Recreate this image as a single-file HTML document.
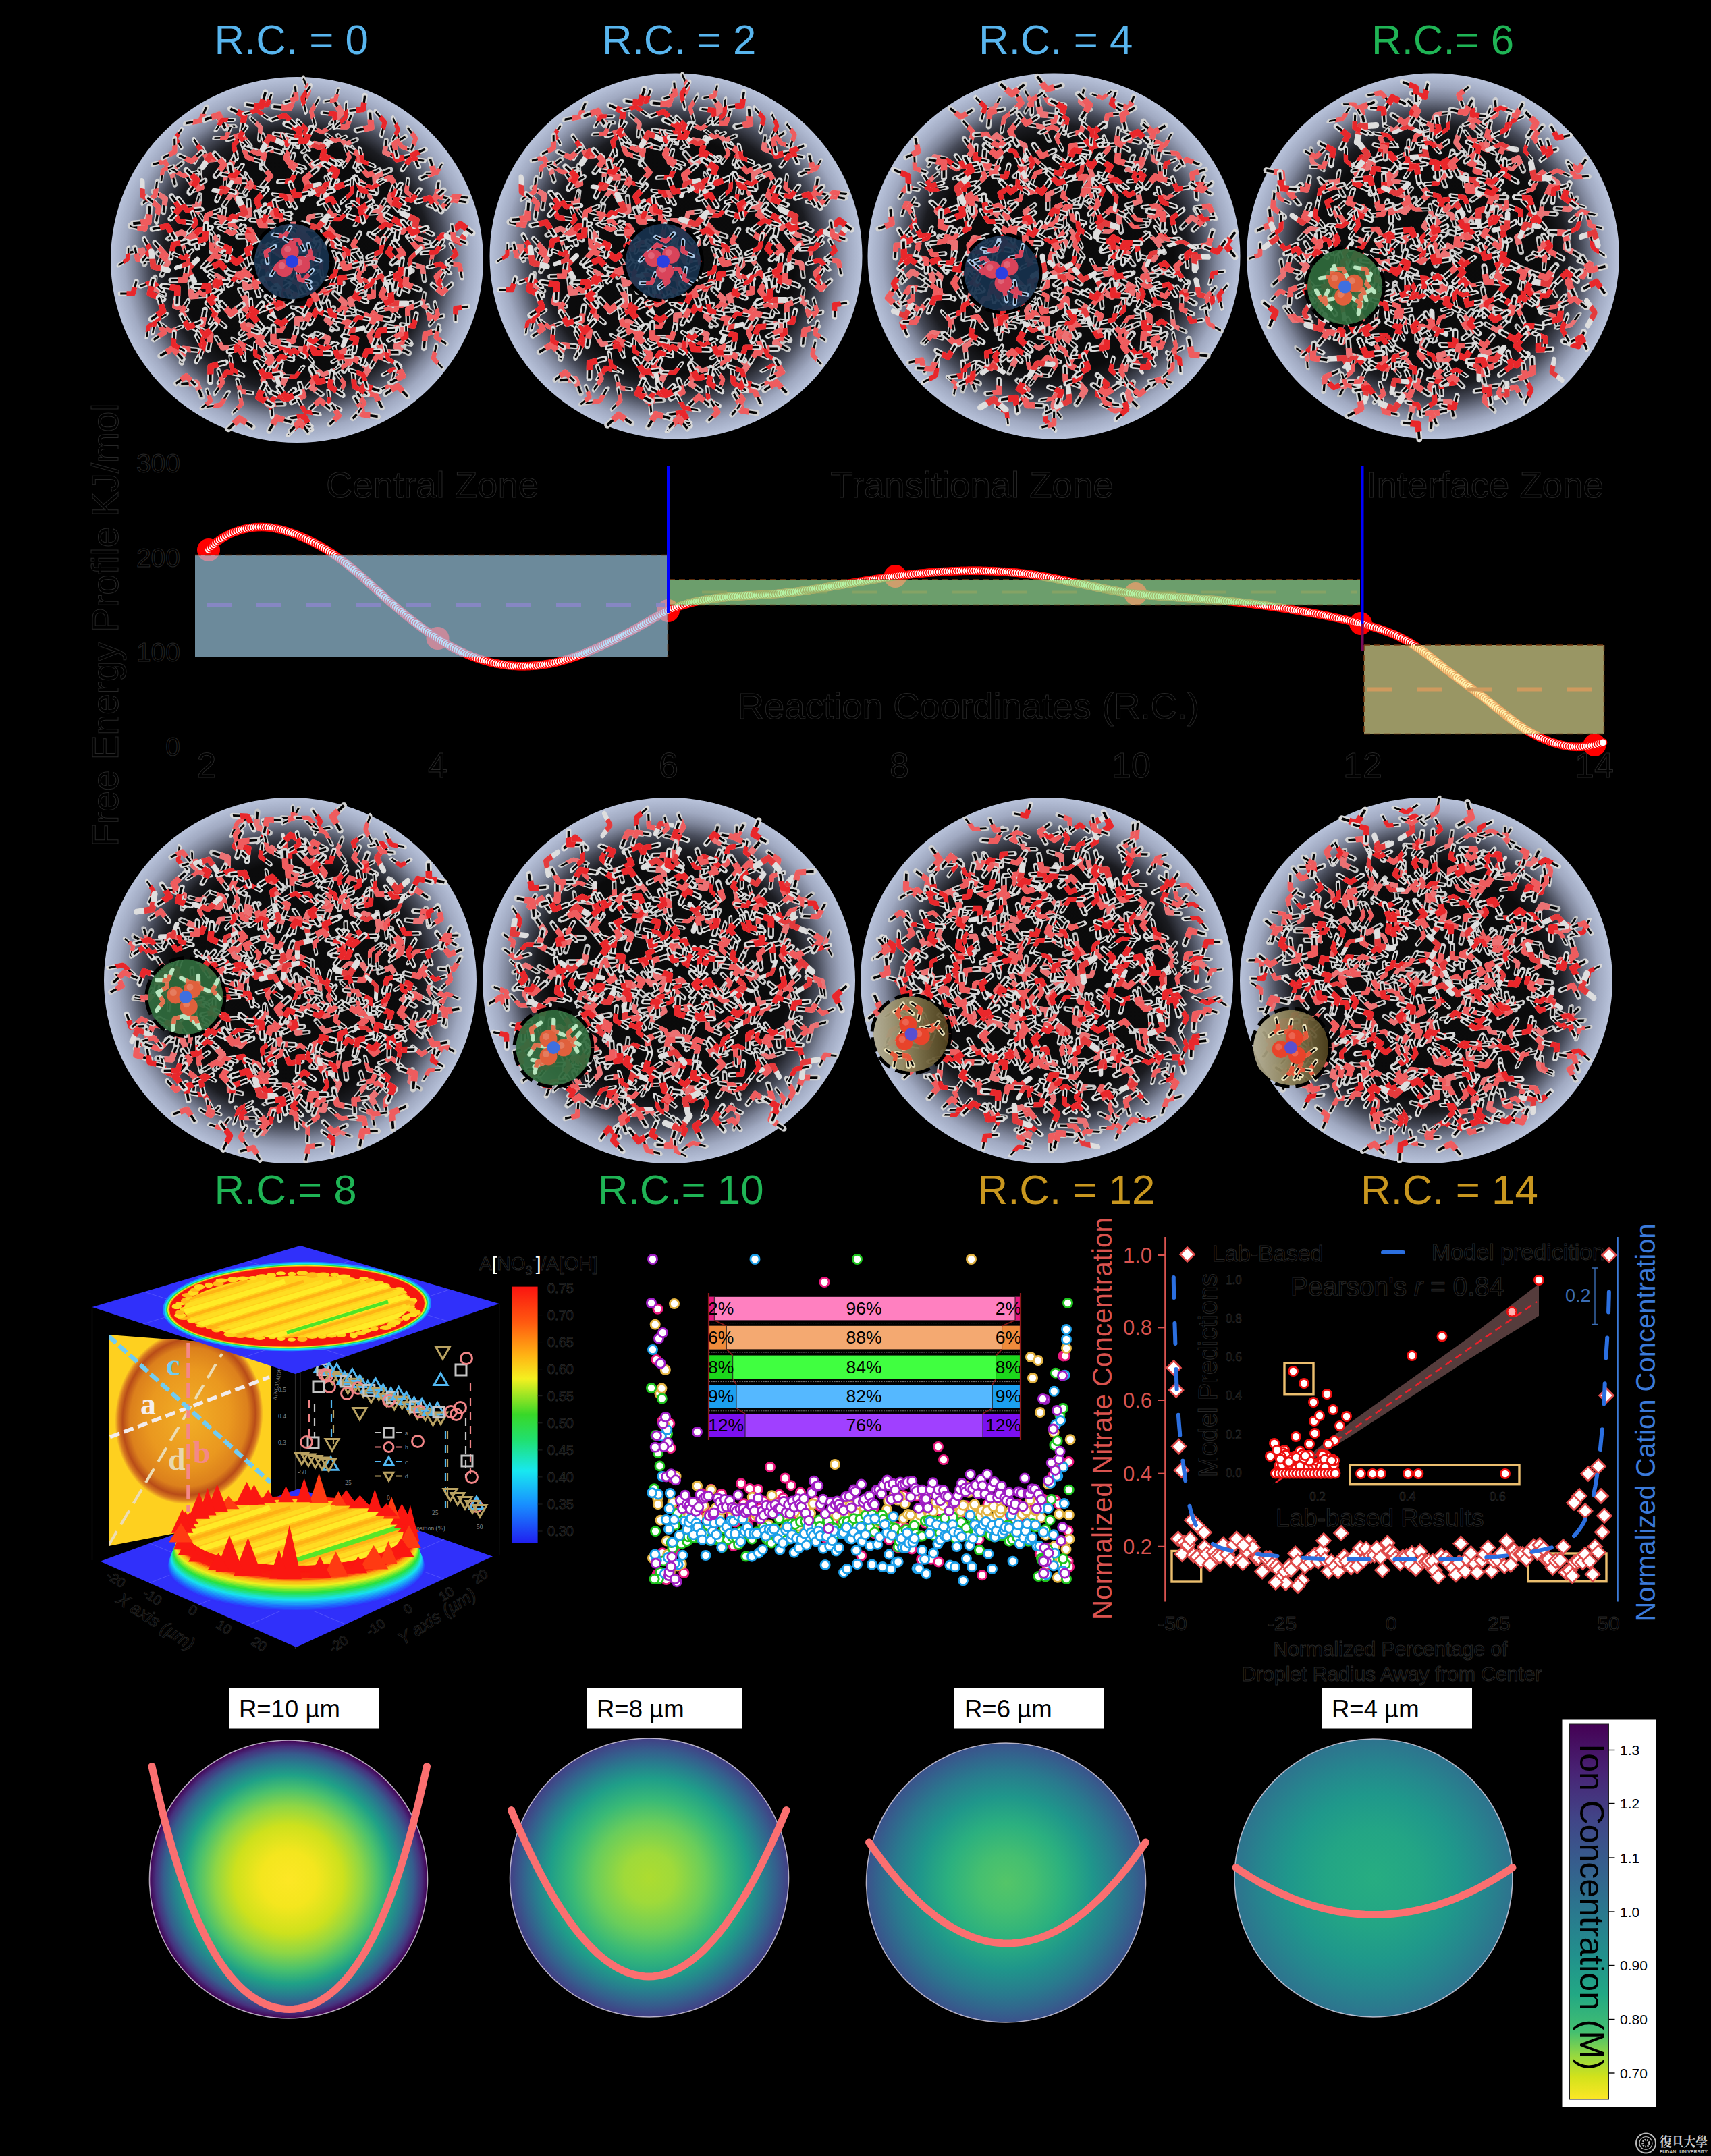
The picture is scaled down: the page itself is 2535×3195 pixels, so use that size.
<!DOCTYPE html>
<html lang="en"><head><meta charset="utf-8"><title>Droplet free energy profile figure</title>
<style>
html,body{margin:0;padding:0;background:#000;}
body{width:2535px;height:3195px;overflow:hidden;}
svg{display:block;font-family:'Liberation Sans', Arial, sans-serif;}
</style></head><body>
<svg width="2535" height="3195" viewBox="0 0 2535 3195">
<defs>
<radialGradient id="dropbg" cx="50%" cy="50%" r="50%">
<stop offset="0" stop-color="#0a0a0a"/><stop offset="0.64" stop-color="#0b0b0c"/>
<stop offset="0.72" stop-color="#1b1c21"/><stop offset="0.80" stop-color="#474b59"/>
<stop offset="0.87" stop-color="#7f869b"/><stop offset="0.925" stop-color="#a0a9c1"/>
<stop offset="0.965" stop-color="#adb7cf"/><stop offset="1" stop-color="#b9c3db"/>
</radialGradient>
<g id="wa" fill="none" stroke-linejoin="round"><path d="M-17.0,13.2L0,0L17.0,13.2" stroke="#dadada" stroke-width="8.4" stroke-linecap="round"/><path d="M-17.0,13.2L0,0L17.0,13.2" stroke="#050505" stroke-width="3.6" stroke-linecap="butt"/><path d="M-8.6,6.7L0,0L8.6,6.7" stroke="#e9272b" stroke-width="8.8"/></g>
<g id="wb" fill="none" stroke-linejoin="round"><path d="M-17.0,13.2L0,0L17.0,13.2" stroke="#d2d2d2" stroke-width="8.4" stroke-linecap="round"/><path d="M-17.0,13.2L0,0L17.0,13.2" stroke="#050505" stroke-width="3.6" stroke-linecap="butt"/><path d="M-8.6,6.7L0,0L8.6,6.7" stroke="#ef5c5e" stroke-width="8.8"/></g>
<g id="wc" fill="none" stroke-linejoin="round"><path d="M-17.0,13.2L0,0L17.0,13.2" stroke="#dedede" stroke-width="8.4" stroke-linecap="round"/><path d="M-8.6,6.7L0,0L8.6,6.7" stroke="#e43a3c" stroke-width="8.8"/></g>
<g id="wd" fill="none" stroke-linejoin="round"><path d="M-17.0,13.2L0,0L17.0,13.2" stroke="#c6c6c6" stroke-width="8.4" stroke-linecap="round"/><path d="M-17.0,13.2L0,0L17.0,13.2" stroke="#050505" stroke-width="3.6" stroke-linecap="butt"/><path d="M-8.6,6.7L0,0L8.6,6.7" stroke="#ec7173" stroke-width="8.8"/></g>
<g id="wg" fill="none" stroke-linejoin="round"><path d="M-17.0,13.2L0,0L17.0,13.2" stroke="#b9e6c0" stroke-width="8.4" stroke-linecap="round"/><path d="M-8.6,6.7L0,0L8.6,6.7" stroke="#e0704e" stroke-width="8.8"/></g>
<g id="wt" fill="none" stroke-linejoin="round"><path d="M-17.0,13.2L0,0L17.0,13.2" stroke="#e9e0b8" stroke-width="8.4" stroke-linecap="round"/><path d="M-17.0,13.2L0,0L17.0,13.2" stroke="#050505" stroke-width="3.6" stroke-linecap="butt"/><path d="M-8.6,6.7L0,0L8.6,6.7" stroke="#e5583a" stroke-width="8.8"/></g>
<g id="wu" fill="none" stroke-linejoin="round"><path d="M-17.0,13.2L0,0L17.0,13.2" stroke="#a9c7e6" stroke-width="8.4" stroke-linecap="round"/><path d="M-17.0,13.2L0,0L17.0,13.2" stroke="#050505" stroke-width="3.6" stroke-linecap="butt"/><path d="M-8.6,6.7L0,0L8.6,6.7" stroke="#d9435a" stroke-width="8.8"/></g>
<g id="cl1"><use href="#wd" transform="matrix(.44 .83 -.83 .45 33 -22)"/><use href="#wb" transform="matrix(-.60 -.54 .42 -.47 -45 42)"/><use href="#wd" transform="matrix(-.85 .18 -.19 -.90 2 54)"/><use href="#wd" transform="matrix(.83 .47 -.38 .67 1 -53)"/><use href="#wb" transform="matrix(.85 .47 -.37 .67 -69 -45)"/><use href="#wd" transform="matrix(.93 -.53 .33 .58 98 -68)"/><use href="#wd" transform="matrix(.54 .74 -.76 .56 -43 -7)"/><use href="#wb" transform="matrix(.84 .78 -.53 .58 -107 -61)"/><use href="#wb" transform="matrix(.88 .09 -.07 .68 -112 27)"/><use href="#wb" transform="matrix(.23 .81 -1.06 .30 -69 -114)"/><use href="#wb" transform="matrix(-.99 .33 -.36 -1.07 110 86)"/><use href="#wd" transform="matrix(.60 -.61 .71 .70 0 88)"/><use href="#wb" transform="matrix(.91 -.69 .59 .78 60 81)"/><use href="#wb" transform="matrix(.17 1.10 -.95 .15 53 -40)"/><use href="#wd" transform="matrix(.85 -.16 .16 .82 -72 96)"/><use href="#wd" transform="matrix(-.02 -.82 .86 -.02 112 5)"/><use href="#wd" transform="matrix(-.70 -.53 .41 -.53 61 4)"/><use href="#wb" transform="matrix(.69 .77 -.54 .48 2 35)"/><use href="#wb" transform="matrix(.78 .34 -.33 .77 -24 -66)"/><use href="#wb" transform="matrix(.80 -.24 .26 .85 148 39)"/><use href="#wd" transform="matrix(-.93 -.12 .14 -1.11 27 -136)"/><use href="#wb" transform="matrix(-.55 -.59 .82 -.75 -119 -14)"/><use href="#wd" transform="matrix(.54 -.79 .63 .43 -106 -127)"/><use href="#wb" transform="matrix(-.94 -.07 .06 -.79 98 43)"/><use href="#wd" transform="matrix(.38 .82 -.67 .31 100 -112)"/><use href="#wb" transform="matrix(-.93 .40 -.33 -.76 157 -41)"/><use href="#wd" transform="matrix(-.70 -.55 .71 -.90 -76 41)"/><use href="#wd" transform="matrix(.66 -.59 .51 .58 18 -64)"/><use href="#wd" transform="matrix(-.69 -.58 .71 -.85 -156 54)"/><use href="#wb" transform="matrix(-1.03 -.14 .15 -1.10 -35 20)"/><use href="#wd" transform="matrix(-.93 .53 -.47 -.83 13 133)"/><use href="#wd" transform="matrix(1.11 .07 -.05 .83 -171 -41)"/><use href="#wd" transform="matrix(-.17 1.13 -1.08 -.16 4 -21)"/><use href="#wd" transform="matrix(-.82 -.18 .18 -.79 72 -171)"/><use href="#wd" transform="matrix(.83 -.79 .51 .54 47 42)"/><use href="#wd" transform="matrix(-.01 .94 -.61 -.00 50 -106)"/><use href="#wd" transform="matrix(-.52 .83 -.80 -.50 -70 -67)"/><use href="#wd" transform="matrix(-.61 .54 -.60 -.69 -146 -78)"/><use href="#wd" transform="matrix(.18 .95 -.94 .18 -191 4)"/><use href="#wd" transform="matrix(-.99 -.20 .14 -.70 38 170)"/><use href="#wb" transform="matrix(-.33 -.95 .77 -.26 -122 86)"/><use href="#wd" transform="matrix(.61 .72 -.46 .40 -114 25)"/><use href="#wd" transform="matrix(-.41 -.88 .93 -.43 147 129)"/><use href="#wb" transform="matrix(-.87 -.48 .41 -.74 -132 -148)"/><use href="#wd" transform="matrix(.09 1.01 -1.03 .10 106 162)"/><use href="#wb" transform="matrix(.83 .34 -.33 .81 -12 -94)"/><use href="#wb" transform="matrix(-.79 -.76 .56 -.58 -45 -165)"/><use href="#wd" transform="matrix(1.05 -.26 .16 .66 25 -173)"/><use href="#wd" transform="matrix(.18 1.08 -.97 .16 -17 175)"/><use href="#wb" transform="matrix(-.88 -.58 .56 -.84 -65 -11)"/><use href="#wb" transform="matrix(.57 -.95 .78 .47 64 138)"/><use href="#wb" transform="matrix(-.64 -.57 .50 -.56 -84 195)"/><use href="#wb" transform="matrix(-.49 .75 -.66 -.43 -74 68)"/><use href="#wb" transform="matrix(-.54 .61 -.70 -.62 113 54)"/><use href="#wd" transform="matrix(-.01 -1.02 .64 -.01 107 -95)"/><use href="#wd" transform="matrix(-1.14 .07 -.06 -1.08 -23 -7)"/><use href="#wd" transform="matrix(.22 1.04 -.94 .20 71 64)"/><use href="#wb" transform="matrix(1.03 .23 -.24 1.07 -63 108)"/><use href="#wd" transform="matrix(-.23 .81 -.66 -.19 100 13)"/><use href="#wd" transform="matrix(.88 -.30 .31 .89 55 -36)"/><use href="#wd" transform="matrix(.63 .72 -.62 .55 186 11)"/><use href="#wd" transform="matrix(-.42 -.77 .64 -.35 -211 43)"/><use href="#wb" transform="matrix(-.34 -.87 .63 -.25 162 -101)"/><use href="#wd" transform="matrix(-.83 -.40 .34 -.72 -110 131)"/><use href="#wb" transform="matrix(-.69 -.45 .57 -.86 197 87)"/><use href="#wd" transform="matrix(-.46 .95 -.69 -.33 -143 -114)"/><use href="#wd" transform="matrix(-.43 -.74 .73 -.43 130 -159)"/><use href="#wb" transform="matrix(.11 -1.14 .77 .07 107 112)"/><use href="#wd" transform="matrix(.79 .54 -.48 .70 -15 42)"/><use href="#wb" transform="matrix(-.90 -.10 .08 -.68 -187 106)"/><use href="#wb" transform="matrix(-.92 .60 -.61 -.93 -11 -225)"/><use href="#wd" transform="matrix(.03 .93 -.74 .03 -118 -28)"/><use href="#wb" transform="matrix(.10 .88 -.63 .07 70 183)"/><use href="#wd" transform="matrix(-.19 -.87 1.02 -.23 20 188)"/><use href="#wd" transform="matrix(-.94 -.42 .42 -.96 14 8)"/><use href="#wd" transform="matrix(.17 -.92 .61 .11 -170 -25)"/><use href="#wd" transform="matrix(-.16 -.91 .97 -.17 44 89)"/><use href="#wd" transform="matrix(-.17 -1.01 .60 -.10 -150 -76)"/><use href="#wb" transform="matrix(.94 .57 -.48 .78 116 199)"/><use href="#wd" transform="matrix(.70 .49 -.63 .90 -229 -14)"/><use href="#wd" transform="matrix(.45 .91 -.79 .39 -195 -91)"/><use href="#wd" transform="matrix(-.70 -.82 .61 -.52 176 -33)"/><use href="#wd" transform="matrix(.75 .82 -.80 .73 156 103)"/><use href="#wd" transform="matrix(-.10 .83 -.88 -.11 -73 19)"/><use href="#wd" transform="matrix(-.82 -.44 .31 -.58 -110 -198)"/><use href="#wd" transform="matrix(.36 .94 -.62 .24 -54 -197)"/><use href="#wb" transform="matrix(-.59 .78 -.90 -.69 110 -196)"/><use href="#wb" transform="matrix(-.86 -.75 .43 -.49 -9 -143)"/><use href="#wb" transform="matrix(.29 -.75 1.04 .41 46 -139)"/><use href="#wb" transform="matrix(.83 -.29 .23 .65 50 -67)"/><use href="#wd" transform="matrix(.54 .84 -.65 .42 -37 -55)"/><use href="#wd" transform="matrix(.37 1.05 -.65 .23 -32 156)"/><use href="#wb" transform="matrix(-.71 .52 -.53 -.72 -6 121)"/><use href="#wd" transform="matrix(.94 -.43 .32 .70 -97 -97)"/><use href="#wd" transform="matrix(-.83 .35 -.36 -.83 121 -72)"/><use href="#wb" transform="matrix(.74 -.78 .68 .65 149 21)"/><use href="#wb" transform="matrix(.71 -.55 .66 .85 -168 132)"/><use href="#wb" transform="matrix(.16 -1.11 .62 .09 21 -220)"/><use href="#wb" transform="matrix(-.48 -.72 .84 -.56 207 -95)"/><use href="#wd" transform="matrix(-.96 -.60 .51 -.83 -43 214)"/><use href="#wd" transform="matrix(.60 -.97 .90 .56 116 -124)"/><use href="#wd" transform="matrix(-.33 -.82 .65 -.26 186 67)"/><use href="#wb" transform="matrix(-.75 .77 -.69 -.67 -140 96)"/><use href="#wd" transform="matrix(-.20 .89 -1.06 -.24 -74 62)"/><use href="#wb" transform="matrix(.86 -.66 .47 .62 95 7)"/><use href="#wd" transform="matrix(.94 -.35 .36 .96 13 -49)"/><use href="#wb" transform="matrix(.78 -.25 .29 .91 119 142)"/><use href="#wd" transform="matrix(-.13 -.88 .92 -.14 -127 55)"/><use href="#wd" transform="matrix(-.10 1.06 -1.05 -.09 66 -218)"/><use href="#wd" transform="matrix(.31 -.95 .81 .27 -186 -131)"/><use href="#wb" transform="matrix(-.68 -.74 .50 -.45 154 -168)"/><use href="#wb" transform="matrix(.66 -.79 .71 .58 190 110)"/><use href="#wd" transform="matrix(-.87 -.57 .45 -.68 8 35)"/><use href="#wb" transform="matrix(1.03 -.46 .41 .91 116 85)"/><use href="#wd" transform="matrix(.90 .57 -.56 .88 -149 182)"/><use href="#wb" transform="matrix(-.42 .70 -.75 -.44 -141 -107)"/><use href="#wd" transform="matrix(.44 -.86 .99 .51 79 59)"/><use href="#wb" transform="matrix(.49 .80 -.90 .55 -49 -157)"/><use href="#wd" transform="matrix(.40 .77 -.86 .45 46 116)"/><use href="#wa" transform="matrix(.10 .87 -.66 .08 92 -153)"/><use href="#wb" transform="matrix(.25 -1.05 .97 .23 207 25)"/><use href="#wa" transform="matrix(.93 .48 -.44 .84 11 232)"/><use href="#wc" transform="matrix(.13 -.94 .93 .13 -162 14)"/><use href="#wb" transform="matrix(.98 .28 -.25 .86 -83 -185)"/><use href="#wa" transform="matrix(-.52 -.78 .56 -.38 48 213)"/><use href="#wa" transform="matrix(.91 -.34 .38 1.01 29 75)"/><use href="#wb" transform="matrix(-1.03 -.39 .28 -.74 178 -18)"/><use href="#wb" transform="matrix(-.96 .06 -.04 -.68 37 -189)"/><use href="#wb" transform="matrix(-.68 -.55 .55 -.69 -236 0)"/><use href="#wb" transform="matrix(-.79 .49 -.58 -.94 -226 -46)"/><use href="#wa" transform="matrix(.59 .55 -.47 .50 -45 11)"/><use href="#wb" transform="matrix(-.94 .62 -.39 -.59 -113 215)"/><use href="#wa" transform="matrix(.90 -.36 .30 .75 -104 166)"/><use href="#wa" transform="matrix(1.05 -.31 .23 .80 216 -37)"/><use href="#wa" transform="matrix(.91 -.15 .13 .78 -85 124)"/><use href="#wa" transform="matrix(-.69 .45 -.43 -.65 -44 -229)"/><use href="#wb" transform="matrix(.25 .96 -.64 .17 22 -9)"/><use href="#wb" transform="matrix(-.43 -.70 .78 -.48 -181 69)"/><use href="#wb" transform="matrix(-.96 .39 -.23 -.56 -100 -54)"/><use href="#wa" transform="matrix(-1.10 -.33 .26 -.85 31 -97)"/><use href="#wb" transform="matrix(.82 -.74 .60 .65 148 68)"/><use href="#wb" transform="matrix(-.15 .82 -.63 -.12 25 177)"/><use href="#wb" transform="matrix(-.23 -1.02 1.00 -.23 -100 -136)"/><use href="#wb" transform="matrix(.53 .61 -.66 .57 -16 -184)"/><use href="#wb" transform="matrix(-.04 -1.06 .78 -.03 -51 178)"/><use href="#wa" transform="matrix(-1.10 -.03 .03 -1.09 -90 4)"/><use href="#wa" transform="matrix(-.25 -1.00 .60 -.15 11 136)"/><use href="#wb" transform="matrix(.80 .07 -.06 .73 67 143)"/><use href="#wc" transform="matrix(.11 -1.04 .72 .07 -41 68)"/><use href="#wb" transform="matrix(.98 .14 -.15 1.04 -184 131)"/><use href="#wb" transform="matrix(-.58 -.69 .69 -.58 150 121)"/><use href="#wb" transform="matrix(-.05 -1.00 .84 -.04 83 -22)"/><use href="#wb" transform="matrix(.65 .67 -.58 .56 241 8)"/><use href="#wa" transform="matrix(.03 .96 -.77 .02 -142 -162)"/><use href="#wb" transform="matrix(-.60 .54 -.45 -.51 57 -237)"/><use href="#wa" transform="matrix(-.80 .54 -.43 -.63 -8 -117)"/><use href="#wa" transform="matrix(-.11 -.95 .92 -.11 135 -11)"/><use href="#wa" transform="matrix(.89 .02 -.01 .66 143 162)"/><use href="#wb" transform="matrix(.45 -.90 .91 .46 -152 -39)"/><use href="#wb" transform="matrix(.97 -.38 .39 .99 -30 234)"/><use href="#wa" transform="matrix(.25 1.02 -.70 .17 130 -204)"/><use href="#wb" transform="matrix(-1.08 -.36 .27 -.82 -32 -64)"/><use href="#wb" transform="matrix(-.61 .93 -.59 -.39 -210 -95)"/><use href="#wb" transform="matrix(1.08 -.35 .24 .74 229 -89)"/><use href="#wa" transform="matrix(-.70 .53 -.52 -.68 -243 50)"/><use href="#wa" transform="matrix(-.93 .37 -.30 -.75 170 -88)"/><use href="#wb" transform="matrix(-.74 .51 -.47 -.69 74 -197)"/><use href="#wa" transform="matrix(-.62 -.97 .67 -.43 85 188)"/><use href="#wb" transform="matrix(.49 .95 -.91 .47 -128 111)"/><use href="#wb" transform="matrix(.05 .84 -.82 .05 -193 -6)"/><use href="#wa" transform="matrix(.61 -.73 .85 .71 -121 35)"/><use href="#wb" transform="matrix(-.81 -.20 .23 -.97 -153 -108)"/><use href="#wb" transform="matrix(1.02 -.00 .00 .97 -81 70)"/><use href="#wb" transform="matrix(.77 .33 -.33 .77 -196 -146)"/><use href="#wa" transform="matrix(1.09 .01 -.00 .84 44 -153)"/><use href="#wb" transform="matrix(1.05 -.09 .07 .81 182 -47)"/><use href="#wb" transform="matrix(-.27 .89 -.62 -.19 -82 214)"/><use href="#wb" transform="matrix(-.40 .83 -.94 -.46 203 -129)"/><use href="#wa" transform="matrix(.53 -.70 .49 .36 -220 98)"/><use href="#wb" transform="matrix(-.11 .87 -.92 -.12 62 231)"/><use href="#wa" transform="matrix(.50 .95 -.92 .48 -78 -214)"/><use href="#wb" transform="matrix(-.07 .93 -.85 -.07 -2 -34)"/><use href="#wb" transform="matrix(-.21 .95 -.65 -.15 209 82)"/><use href="#wb" transform="matrix(-.90 .71 -.50 -.63 -143 -206)"/><use href="#wa" transform="matrix(-.90 -.47 .50 -.97 148 -149)"/><use href="#wa" transform="matrix(.20 .89 -.73 .17 14 -193)"/><use href="#wa" transform="matrix(-.90 -.29 .32 -.99 60 -108)"/><use href="#wb" transform="matrix(-.71 .49 -.40 -.58 -105 -181)"/><use href="#wa" transform="matrix(-.43 .76 -.54 -.30 -250 -1)"/><use href="#wc" transform="matrix(-.95 .28 -.32 -1.08 242 -26)"/><use href="#wb" transform="matrix(-.69 .61 -.66 -.74 -166 30)"/><use href="#wb" transform="matrix(.15 1.00 -.71 .10 176 -180)"/><use href="#wb" transform="matrix(-.01 -.90 .60 -.01 -93 -96)"/><use href="#wb" transform="matrix(.82 .64 -.39 .50 -20 129)"/><use href="#wb" transform="matrix(-.14 -1.12 .95 -.12 125 52)"/><use href="#wb" transform="matrix(-.35 .84 -.90 -.37 10 202)"/><use href="#wb" transform="matrix(.57 -.82 .52 .36 201 -10)"/><use href="#wa" transform="matrix(.53 .94 -.55 .31 35 4)"/><use href="#wb" transform="matrix(-.01 1.11 -.67 -.00 18 -250)"/><use href="#wa" transform="matrix(-.43 -.74 .58 -.34 -62 141)"/><use href="#wa" transform="matrix(.67 -.85 .83 .65 -128 158)"/><use href="#wa" transform="matrix(-.80 .77 -.51 -.52 49 44)"/><use href="#wc" transform="matrix(.84 -.74 .53 .60 76 106)"/><use href="#wa" transform="matrix(-.89 -.26 .20 -.67 92 8)"/><use href="#wb" transform="matrix(.53 -.88 .57 .34 -25 30)"/><use href="#wa" transform="matrix(.98 -.35 .23 .63 1 245)"/><use href="#wa" transform="matrix(.01 -.81 .68 .01 -180 -180)"/><use href="#wb" transform="matrix(-.59 -.94 .63 -.40 -126 -15)"/><use href="#wb" transform="matrix(-.21 -1.03 .79 -.16 136 -89)"/><use href="#wb" transform="matrix(-.72 .74 -.80 -.78 -220 -56)"/><use href="#wb" transform="matrix(-.82 -.80 .51 -.53 -74 -152)"/><use href="#wb" transform="matrix(.46 .97 -.94 .45 95 -155)"/><use href="#wa" transform="matrix(.30 .99 -.72 .22 -68 -36)"/><use href="#wa" transform="matrix(.38 -1.08 .67 .24 -39 210)"/><use href="#wb" transform="matrix(.07 1.00 -.73 .05 52 -66)"/><use href="#wa" transform="matrix(-.66 .47 -.54 -.76 173 98)"/><use href="#wb" transform="matrix(-.65 .80 -.49 -.40 140 185)"/><use href="#wb" transform="matrix(.60 -.81 .64 .47 -134 -66)"/><use href="#wc" transform="matrix(-.56 -.95 .70 -.42 -229 -95)"/><use href="#wa" transform="matrix(-.52 .61 -.54 -.47 90 -84)"/><use href="#wa" transform="matrix(-.86 -.61 .44 -.62 -175 -57)"/><use href="#wb" transform="matrix(-.79 -.76 .70 -.72 97 229)"/><use href="#wa" transform="matrix(.96 .18 -.13 .73 -214 33)"/><use href="#wa" transform="matrix(-.89 -.69 .66 -.84 26 138)"/><use href="#wa" transform="matrix(-.66 -.56 .40 -.47 -15 -170)"/><use href="#wa" transform="matrix(.33 .90 -.75 .27 155 32)"/><use href="#wa" transform="matrix(.19 -1.12 .94 .16 -60 -88)"/><use href="#wa" transform="matrix(.75 .50 -.36 .54 10 72)"/><use href="#wb" transform="matrix(-.77 -.83 .64 -.59 -79 101)"/><use href="#wb" transform="matrix(-.92 -.65 .59 -.84 127 137)"/><use href="#wa" transform="matrix(.15 .79 -.83 .16 -116 35)"/><use href="#wb" transform="matrix(.92 -.20 .14 .64 67 71)"/><use href="#wb" transform="matrix(.27 -1.05 .98 .25 12 -120)"/><use href="#wa" transform="matrix(-.38 -.98 .92 -.36 38 -154)"/><use href="#wb" transform="matrix(.96 -.46 .36 .74 232 -94)"/><use href="#wb" transform="matrix(.95 -.29 .33 1.09 81 145)"/><use href="#wb" transform="matrix(-.70 .42 -.32 -.54 207 -128)"/><use href="#wa" transform="matrix(.01 -.83 .67 .01 209 35)"/><use href="#wb" transform="matrix(-.91 .15 -.18 -1.12 125 -26)"/><use href="#wb" transform="matrix(.02 1.08 -1.03 .02 -38 146)"/><use href="#wb" transform="matrix(-.47 -.80 .70 -.41 -23 -53)"/><use href="#wa" transform="matrix(.54 -.63 .70 .60 235 72)"/><use href="#wb" transform="matrix(.87 -.02 .02 .98 34 208)"/><use href="#wb" transform="matrix(1.06 -.09 .09 1.08 -85 235)"/><use href="#wb" transform="matrix(.60 -.79 .55 .41 12 25)"/><use href="#wc" transform="matrix(-.61 -.56 .48 -.53 54 -20)"/><use href="#wa" transform="matrix(1.03 -.05 .06 1.09 242 -53)"/><use href="#wb" transform="matrix(.17 .98 -.77 .13 -198 -11)"/><use href="#wc" transform="matrix(.92 -.26 .28 1.01 -128 -155)"/><use href="#wb" transform="matrix(-.18 .80 -.93 -.22 -197 108)"/><use href="#wb" transform="matrix(-.70 .40 -.36 -.63 -23 105)"/><use href="#wb" transform="matrix(-1.14 -.15 .09 -.65 -168 -124)"/><use href="#wa" transform="matrix(.64 .77 -.88 .74 -177 42)"/><use href="#wb" transform="matrix(1.13 .20 -.17 1.00 -77 18)"/><use href="#wa" transform="matrix(-.02 .98 -.62 -.02 150 -193)"/><use href="#wa" transform="matrix(-.68 .67 -.67 -.68 98 -223)"/><use href="#wa" transform="matrix(1.01 -.37 .38 1.04 100 187)"/><use href="#wa" transform="matrix(.24 -.94 .67 .17 50 171)"/><use href="#wa" transform="matrix(.14 -.81 .94 .16 -27 48)"/><use href="#wa" transform="matrix(.94 -.39 .31 .75 168 -150)"/><use href="#wb" transform="matrix(-.45 .69 -.71 -.46 -1 -239)"/><use href="#wb" transform="matrix(-1.07 .08 -.06 -.74 -96 -39)"/><use href="#wc" transform="matrix(-.95 .09 -.06 -.62 105 32)"/><use href="#wb" transform="matrix(-.88 -.70 .70 -.88 -94 -117)"/><use href="#wb" transform="matrix(-.23 .79 -.71 -.21 -128 209)"/><use href="#wa" transform="matrix(-.83 .53 -.59 -.92 -53 -227)"/><use href="#wc" transform="matrix(-.74 -.63 .71 -.83 140 65)"/><use href="#wb" transform="matrix(-.26 -.98 .68 -.18 202 146)"/><use href="#wa" transform="matrix(.79 -.67 .51 .60 -147 -44)"/><use href="#wa" transform="matrix(.56 .59 -.64 .61 56 -216)"/><use href="#wb" transform="matrix(-1.14 -.04 .02 -.69 -58 -157)"/><use href="#wb" transform="matrix(-.09 .94 -1.13 -.11 157 -9)"/><use href="#wc" transform="matrix(.47 .96 -.99 .48 177 -59)"/><use href="#wa" transform="matrix(.53 .92 -.93 .53 4 -193)"/><use href="#wb" transform="matrix(.81 .04 -.06 1.13 4 240)"/><use href="#wb" transform="matrix(-.98 -.13 .09 -.70 -139 52)"/><use href="#wb" transform="matrix(.97 .11 -.12 1.05 149 187)"/><use href="#wa" transform="matrix(-.15 .79 -.80 -.15 236 -8)"/><use href="#wa" transform="matrix(-.46 1.00 -.55 -.25 81 -99)"/><use href="#wa" transform="matrix(.82 .20 -.25 .99 -35 -84)"/><use href="#wb" transform="matrix(-.11 -.97 1.14 -.12 -57 121)"/><use href="#wb" transform="matrix(-.83 .48 -.57 -1.00 -30 174)"/><use href="#wa" transform="matrix(-.97 .43 -.26 -.58 64 -60)"/><use href="#wb" transform="matrix(1.08 -.35 .26 .80 -124 -6)"/><use href="#wb" transform="matrix(-.92 .27 -.21 -.71 213 -76)"/><use href="#wb" transform="matrix(.85 .06 -.07 .94 -164 172)"/><use href="#wb" transform="matrix(.82 .32 -.34 .90 139 -122)"/><use href="#wb" transform="matrix(-.50 .83 -.67 -.40 -181 -160)"/><use href="#wb" transform="matrix(1.05 .10 -.08 .77 -18 4)"/><use href="#wa" transform="matrix(-.67 -.85 .49 -.38 135 147)"/><use href="#wa" transform="matrix(-.04 1.00 -1.04 -.05 -173 -77)"/><use href="#wb" transform="matrix(-.13 -.83 1.09 -.17 122 -61)"/><use href="#wb" transform="matrix(-.09 .91 -.90 -.09 96 221)"/><use href="#wb" transform="matrix(.90 .36 -.42 1.04 -116 -215)"/><use href="#wa" transform="matrix(-.97 .10 -.11 -1.08 -136 112)"/><use href="#wb" transform="matrix(-.09 .85 -.62 -.06 78 -152)"/><use href="#wb" transform="matrix(.45 .96 -.84 .40 8 -36)"/><use href="#wc" transform="matrix(.73 -.67 .51 .56 14 -108)"/><use href="#wb" transform="matrix(.76 -.74 .50 .52 70 -9)"/><use href="#wb" transform="matrix(.88 .57 -.50 .78 -66 -35)"/><use href="#wb" transform="matrix(.93 .09 -.08 .82 153 110)"/><use href="#wb" transform="matrix(.36 -.87 .78 .32 144 -172)"/><use href="#wa" transform="matrix(.87 .23 -.25 .95 -18 127)"/><use href="#wb" transform="matrix(-.55 -.88 .85 -.53 161 36)"/><use href="#wa" transform="matrix(.26 -1.00 .70 .18 -94 -170)"/><use href="#wa" transform="matrix(-.17 -.93 .71 -.13 -63 29)"/><use href="#wa" transform="matrix(-.32 -.95 1.09 -.36 -57 204)"/><use href="#wa" transform="matrix(-.94 -.46 .47 -.96 31 181)"/><use href="#wa" transform="matrix(-.55 .87 -.83 -.53 -36 68)"/><use href="#wa" transform="matrix(-.08 .96 -.82 -.07 -217 -14)"/><use href="#wb" transform="matrix(.41 .73 -.99 .56 77 93)"/><use href="#wc" transform="matrix(-1.09 -.03 .02 -.71 32 -166)"/><use href="#wa" transform="matrix(-.45 -.88 .95 -.48 -218 50)"/><use href="#wb" transform="matrix(-.41 -.80 .82 -.42 -111 -56)"/><use href="#wb" transform="matrix(-.08 -1.05 .82 -.06 -17 -151)"/><use href="#wb" transform="matrix(-.03 -.94 .79 -.03 -171 77)"/><use href="#wa" transform="matrix(.20 -1.11 .65 .12 8 -240)"/><use href="#wc" transform="matrix(-.54 .68 -.57 -.45 -162 6)"/><use href="#wb" transform="matrix(-.14 -1.14 .65 -.08 91 26)"/><use href="#wb" transform="matrix(-1.14 -.08 .04 -.63 33 47)"/><use href="#wb" transform="matrix(-.33 -.80 .73 -.30 206 115)"/><use href="#wb" transform="matrix(.95 .02 -.02 .89 -155 -36)"/><use href="#wb" transform="matrix(-.96 -.09 .11 -1.13 -98 80)"/><use href="#wc" transform="matrix(.44 -1.01 .56 .24 168 -2)"/><use href="#wb" transform="matrix(-.87 -.19 .18 -.86 105 -125)"/><use href="#wb" transform="matrix(-.56 .90 -.55 -.34 74 155)"/><use href="#wa" transform="matrix(-.45 -.82 .69 -.37 -183 126)"/><use href="#wb" transform="matrix(-.99 .15 -.13 -.86 -156 -146)"/><use href="#wb" transform="matrix(.51 .78 -.52 .34 -80 126)"/><use href="#wb" transform="matrix(-.62 -.76 .63 -.52 232 -31)"/><use href="#wb" transform="matrix(.88 .25 -.17 .58 138 72)"/><use href="#wa" transform="matrix(-.71 -.68 .43 -.45 -69 -110)"/><use href="#wb" transform="matrix(.51 -.64 .51 .40 -199 -133)"/><use href="#wb" transform="matrix(-.85 .02 -.02 -.95 215 49)"/><use href="#wb" transform="matrix(.10 -.94 1.10 .12 201 -89)"/><use href="#wa" transform="matrix(.68 -.75 .57 .52 41 -111)"/><use href="#wa" transform="matrix(1.02 .20 -.12 .62 -59 -221)"/><use href="#wa" transform="matrix(.69 .51 -.39 .52 -18 -95)"/><use href="#wa" transform="matrix(-.97 .13 -.12 -.89 -19 206)"/><use href="#wb" transform="matrix(-.26 .85 -1.07 -.32 157 172)"/><use href="#wb" transform="matrix(.03 .98 -1.02 .03 -108 -141)"/><use href="#wb" transform="matrix(-.15 1.02 -.69 -.10 -110 182)"/><use href="#wb" transform="matrix(.03 .84 -.74 .02 100 212)"/><use href="#wa" transform="matrix(1.01 .23 -.18 .80 -18 -214)"/><use href="#wc" transform="matrix(.77 .26 -.28 .80 125 24)"/><use href="#wc" transform="matrix(.16 -1.14 .71 .10 -34 162)"/><use href="#wb" transform="matrix(1.03 .26 -.24 .96 13 -35)"/><use href="#wa" transform="matrix(.99 .43 -.39 .89 -192 -50)"/><use href="#wa" transform="matrix(.77 -.44 .32 .56 -111 -207)"/><use href="#wb" transform="matrix(.27 .83 -1.00 .33 18 82)"/><use href="#wb" transform="matrix(.44 .89 -.84 .41 -24 31)"/><use href="#wa" transform="matrix(.78 -.31 .24 .61 90 85)"/><use href="#wa" transform="matrix(.93 .26 -.20 .71 213 6)"/><use href="#wa" transform="matrix(.63 .62 -.78 .79 -131 39)"/><use href="#wb" transform="matrix(-1.03 -.20 .13 -.69 99 -73)"/><use href="#wb" transform="matrix(-.33 -.77 .81 -.35 -10 -139)"/><use href="#wc" transform="matrix(-.28 .98 -1.10 -.32 -77 -70)"/><use href="#wa" transform="matrix(.29 -.76 .98 .38 172 -156)"/><use href="#wa" transform="matrix(-.13 -.85 .99 -.15 143 -96)"/><use href="#wa" transform="matrix(.60 -.81 .49 .36 -210 90)"/><use href="#wc" transform="matrix(-.72 -.81 .73 -.65 -213 10)"/><use href="#wa" transform="matrix(-.01 1.11 -.75 -.01 -139 132)"/><use href="#wb" transform="matrix(.63 -.51 .39 .48 -54 -20)"/><use href="#wa" transform="matrix(-.99 .07 -.06 -.89 -23 95)"/><use href="#wa" transform="matrix(.14 .99 -1.03 .14 -148 -118)"/><use href="#wa" transform="matrix(.38 .75 -.79 .40 -100 -17)"/><use href="#wa" transform="matrix(.48 1.04 -.97 .45 152 -55)"/><use href="#wa" transform="matrix(.79 -.56 .52 .73 103 135)"/><use href="#wa" transform="matrix(-.48 1.04 -.56 -.26 72 -211)"/><use href="#wb" transform="matrix(.53 -.86 .73 .45 164 73)"/><use href="#wa" transform="matrix(.88 -.07 .07 .83 -5 134)"/><use href="#wa" transform="matrix(-.43 .92 -.67 -.31 -67 79)"/><use href="#wa" transform="matrix(-.99 -.46 .35 -.75 -163 -73)"/><use href="#wa" transform="matrix(-.79 -.56 .52 -.73 60 143)"/><use href="#wa" transform="matrix(-.91 -.63 .39 -.56 12 225)"/><use href="#wa" transform="matrix(.91 .63 -.36 .52 6 -181)"/><use href="#wa" transform="matrix(-.61 -.74 .52 -.43 97 -146)"/><use href="#wa" transform="matrix(-.67 .76 -.53 -.47 56 23)"/><use href="#wa" transform="matrix(-.46 -1.02 .82 -.37 49 188)"/><use href="#wc" transform="matrix(.85 -.28 .33 1.03 -41 -182)"/><use href="#wa" transform="matrix(1.05 .19 -.16 .92 47 -39)"/><use href="#wa" transform="matrix(.71 -.73 .63 .61 -183 -23)"/><use href="#wa" transform="matrix(.83 -.25 .22 .72 -90 25)"/><use href="#wb" transform="matrix(-.08 .80 -.66 -.07 -67 -110)"/><use href="#wa" transform="matrix(-.68 -.74 .61 -.56 -30 -67)"/><use href="#wa" transform="matrix(.79 -.36 .41 .91 -111 -106)"/><use href="#wa" transform="matrix(.24 .91 -.88 .24 -1 8)"/><use href="#wa" transform="matrix(.85 .31 -.32 .87 196 -92)"/><use href="#wa" transform="matrix(-1.04 -.48 .39 -.85 -48 172)"/><use href="#wa" transform="matrix(-.86 -.29 .32 -.96 -161 100)"/><use href="#wa" transform="matrix(-.45 .66 -.62 -.42 162 115)"/><use href="#wb" transform="matrix(.38 1.05 -.76 .28 -205 -78)"/><use href="#wa" transform="matrix(.14 .87 -.79 .13 -121 77)"/><use href="#wb" transform="matrix(-.82 -.09 .07 -.62 57 -176)"/><use href="#wa" transform="matrix(-.67 .81 -.77 -.63 -136 -31)"/><use href="#wa" transform="matrix(-.90 .54 -.38 -.63 206 -11)"/><use href="#wa" transform="matrix(-.84 -.72 .50 -.58 95 -103)"/><use href="#wa" transform="matrix(-.33 .95 -.95 -.32 -198 76)"/><use href="#wa" transform="matrix(.58 .70 -.50 .42 75 -14)"/><use href="#wa" transform="matrix(-.98 .34 -.32 -.94 97 -58)"/><use href="#wa" transform="matrix(-.04 -.80 .81 -.04 -85 -183)"/><use href="#wa" transform="matrix(-.55 -.81 .52 -.35 -96 162)"/><use href="#wa" transform="matrix(.73 .75 -.52 .50 98 170)"/><use href="#wb" transform="matrix(-1.09 -.12 .12 -1.09 -28 71)"/><use href="#wa" transform="matrix(-1.05 -.28 .25 -.92 171 -40)"/><use href="#wa" transform="matrix(-.36 -.79 1.00 -.46 145 -83)"/><use href="#wa" transform="matrix(.83 -.29 .27 .77 -24 143)"/><use href="#wa" transform="matrix(-.93 -.23 .26 -1.05 -15 206)"/><use href="#wa" transform="matrix(.88 -.28 .23 .72 -96 -65)"/><use href="#wc" transform="matrix(.79 .15 -.16 .86 35 -106)"/><use href="#wa" transform="matrix(.92 -.68 .56 .76 122 105)"/><use href="#wa" transform="matrix(.37 -.86 .87 .38 -74 -15)"/><use href="#wa" transform="matrix(-1.04 -.00 .00 -.61 41 132)"/><use href="#wa" transform="matrix(-.32 -.74 .91 -.39 86 55)"/><use href="#wb" transform="matrix(-.01 .87 -.94 -.01 -39 -124)"/><use href="#wa" transform="matrix(.13 1.06 -.62 .07 -137 124)"/><use href="#wa" transform="matrix(-.55 .97 -.88 -.50 140 60)"/><use href="#wa" transform="matrix(-.68 .82 -.57 -.47 124 -12)"/><use href="#wa" transform="matrix(-.89 .40 -.32 -.72 -92 -124)"/><use href="#wa" transform="matrix(-.93 .58 -.48 -.77 13 -176)"/><use href="#wa" transform="matrix(-.69 .85 -.67 -.55 153 21)"/><use href="#wa" transform="matrix(-.79 -.45 .48 -.85 -3 -95)"/><use href="#wa" transform="matrix(-.53 .63 -.50 -.42 -19 -31)"/><use href="#wa" transform="matrix(.71 .38 -.38 .71 -85 133)"/><use href="#wb" transform="matrix(-.92 -.43 .45 -.97 71 12)"/><use href="#wa" transform="matrix(-.80 .16 -.14 -.69 -167 -2)"/><use href="#wa" transform="matrix(.10 1.14 -.94 .08 21 59)"/><use href="#wa" transform="matrix(-.84 .40 -.27 -.57 -2 173)"/><use href="#wa" transform="matrix(-.17 .86 -.68 -.14 -149 -54)"/><use href="#wa" transform="matrix(-1.05 .12 -.07 -.62 112 -107)"/><use href="#wa" transform="matrix(-.87 .53 -.43 -.71 23 -7)"/><use href="#wa" transform="matrix(1.11 -.20 .14 .77 131 -53)"/><use href="#wa" transform="matrix(-.78 .48 -.44 -.71 -49 -58)"/><use href="#wa" transform="matrix(-.82 .80 -.43 -.44 110 37)"/><use href="#wa" transform="matrix(1.07 .21 -.19 1.00 -114 5)"/><use href="#wb" transform="matrix(.33 -.79 .91 .38 -63 35)"/><use href="#wa" transform="matrix(.48 .71 -.88 .59 88 117)"/><use href="#wa" transform="matrix(-.01 -1.07 1.10 -.01 -66 83)"/><use href="#wa" transform="matrix(-.69 -.71 .58 -.57 50 81)"/><use href="#wb" transform="matrix(-.65 -.81 .83 -.66 -35 121)"/><use href="#wa" transform="matrix(-.82 .05 -.05 -.77 24 122)"/><use href="#wc" transform="matrix(-.77 .35 -.31 -.68 -106 -100)"/><use href="#wa" transform="matrix(.33 .96 -1.01 .35 59 -131)"/><use href="#wa" transform="matrix(-.40 .71 -.87 -.49 -24 65)"/><use href="#wa" transform="matrix(.11 -.83 1.08 .14 -130 59)"/><use href="#wa" transform="matrix(.38 -.89 .82 .35 94 -76)"/><use href="#wa" transform="matrix(.63 -.68 .70 .66 64 27)"/><use href="#wc" transform="matrix(-1.10 .30 -.26 -.95 30 -47)"/><use href="#wb" transform="matrix(.77 .30 -.23 .58 -94 -52)"/><use href="#wc" transform="matrix(.88 .36 -.23 .57 -38 28)"/><use href="#wa" transform="matrix(.85 .29 -.32 .92 51 -91)"/><use href="#wb" transform="matrix(.89 .50 -.54 .97 26 51)"/><use href="#wb" transform="matrix(-1.09 .32 -.25 -.85 -81 24)"/><use href="#wb" transform="matrix(-.81 -.59 .54 -.73 -54 -51)"/><use href="#wa" transform="matrix(-1.04 -.00 .00 -.86 -25 -11)"/></g>
<g id="cl2"><use href="#wd" transform="matrix(.08 .95 -.92 .08 7 -11)"/><use href="#wb" transform="matrix(.41 .71 -.63 .36 -10 59)"/><use href="#wb" transform="matrix(-.19 -.91 .63 -.13 -66 19)"/><use href="#wb" transform="matrix(-.89 -.72 .41 -.50 -85 -60)"/><use href="#wb" transform="matrix(-.72 -.40 .32 -.57 63 20)"/><use href="#wd" transform="matrix(.88 .23 -.22 .84 106 -2)"/><use href="#wd" transform="matrix(-1.02 .42 -.24 -.58 83 -36)"/><use href="#wb" transform="matrix(.81 .63 -.70 .90 47 -117)"/><use href="#wb" transform="matrix(-.81 -.49 .56 -.92 16 121)"/><use href="#wd" transform="matrix(.27 .86 -.91 .29 51 78)"/><use href="#wb" transform="matrix(.92 -.53 .38 .67 105 64)"/><use href="#wd" transform="matrix(-1.02 -.48 .44 -.93 -26 -40)"/><use href="#wb" transform="matrix(-.38 -.77 .84 -.41 -95 58)"/><use href="#wd" transform="matrix(.09 1.09 -1.10 .09 -45 48)"/><use href="#wd" transform="matrix(-.79 .33 -.33 -.80 148 6)"/><use href="#wb" transform="matrix(-.39 -1.04 1.02 -.38 -5 5)"/><use href="#wd" transform="matrix(-.58 -.60 .81 -.78 61 111)"/><use href="#wd" transform="matrix(.74 -.35 .46 .97 145 -66)"/><use href="#wd" transform="matrix(1.03 -.36 .31 .90 -72 91)"/><use href="#wd" transform="matrix(1.03 .26 -.17 .66 -97 -130)"/><use href="#wd" transform="matrix(-.50 -.78 .94 -.60 -138 -79)"/><use href="#wd" transform="matrix(.85 .41 -.36 .73 -62 -21)"/><use href="#wd" transform="matrix(.04 -.88 .96 .04 -46 -118)"/><use href="#wb" transform="matrix(.64 -.66 .72 .71 25 -163)"/><use href="#wb" transform="matrix(-.36 .95 -1.03 -.39 16 71)"/><use href="#wb" transform="matrix(.03 1.02 -.95 .02 -24 90)"/><use href="#wb" transform="matrix(.94 .09 -.07 .69 47 -89)"/><use href="#wd" transform="matrix(.62 .96 -.93 .60 -147 -20)"/><use href="#wb" transform="matrix(1.03 -.07 .04 .61 153 70)"/><use href="#wd" transform="matrix(.42 -1.03 .83 .34 96 -58)"/><use href="#wd" transform="matrix(-.83 .03 -.03 -.73 -22 137)"/><use href="#wd" transform="matrix(.51 -.88 .83 .48 107 108)"/><use href="#wd" transform="matrix(-.83 .73 -.49 -.55 129 -133)"/><use href="#wd" transform="matrix(-.22 -.94 .90 -.21 16 121)"/><use href="#wb" transform="matrix(.85 .68 -.38 .48 87 -117)"/><use href="#wb" transform="matrix(.66 -.90 .67 .49 97 34)"/><use href="#wb" transform="matrix(.07 .83 -.99 .08 64 64)"/><use href="#wd" transform="matrix(.30 -.80 .63 .23 -152 93)"/><use href="#wd" transform="matrix(.62 .91 -.68 .46 -43 -164)"/><use href="#wd" transform="matrix(.70 -.58 .47 .56 -123 54)"/><use href="#wd" transform="matrix(-1.04 -.33 .19 -.58 152 -22)"/><use href="#wd" transform="matrix(-.98 -.38 .26 -.68 73 -163)"/><use href="#wb" transform="matrix(-.52 .73 -.67 -.48 -10 45)"/><use href="#wd" transform="matrix(.45 -.78 .75 .43 -132 133)"/><use href="#wd" transform="matrix(.24 .89 -.78 .21 18 -21)"/><use href="#wb" transform="matrix(-.94 .29 -.30 -.99 -93 166)"/><use href="#wd" transform="matrix(.22 -.78 .82 .24 -43 -66)"/><use href="#wd" transform="matrix(-.69 .62 -.43 -.47 -130 -120)"/><use href="#wd" transform="matrix(.30 .83 -.68 .25 -167 30)"/><use href="#wb" transform="matrix(-.18 .88 -.65 -.13 15 -190)"/><use href="#wd" transform="matrix(.72 -.40 .38 .68 -119 -28)"/><use href="#wb" transform="matrix(.48 -.76 .73 .46 4 -73)"/><use href="#wb" transform="matrix(-.81 .42 -.46 -.88 158 135)"/><use href="#wd" transform="matrix(-.13 -.85 .69 -.11 133 18)"/><use href="#wd" transform="matrix(.07 -1.02 .68 .05 -88 -130)"/><use href="#wb" transform="matrix(.79 -.69 .45 .51 -27 -123)"/><use href="#wd" transform="matrix(-.78 -.34 .37 -.85 -14 112)"/><use href="#wb" transform="matrix(-.50 -.81 .59 -.37 125 63)"/><use href="#wb" transform="matrix(-.00 -1.01 .84 -.00 146 -65)"/><use href="#wd" transform="matrix(1.01 -.12 .12 1.01 -210 23)"/><use href="#wb" transform="matrix(.93 -.49 .35 .66 -65 46)"/><use href="#wd" transform="matrix(.79 -.43 .42 .76 -120 -86)"/><use href="#wb" transform="matrix(-.95 .62 -.45 -.68 32 21)"/><use href="#wb" transform="matrix(-.83 .13 -.16 -1.01 -198 81)"/><use href="#wd" transform="matrix(-.57 .58 -.58 -.57 106 169)"/><use href="#wb" transform="matrix(1.07 .38 -.30 .86 93 -12)"/><use href="#wd" transform="matrix(.10 -1.09 .76 .07 -41 81)"/><use href="#wd" transform="matrix(-.81 -.74 .71 -.78 -20 -210)"/><use href="#wd" transform="matrix(-.50 -.75 .51 -.34 147 -142)"/><use href="#wd" transform="matrix(.98 -.16 .15 .93 204 -57)"/><use href="#wd" transform="matrix(-.02 -.88 .89 -.02 -174 -67)"/><use href="#wd" transform="matrix(.14 .92 -.96 .14 -39 198)"/><use href="#wd" transform="matrix(.22 -.91 .84 .20 -124 180)"/><use href="#wb" transform="matrix(-.30 -.89 1.08 -.36 22 161)"/><use href="#wd" transform="matrix(-.25 -1.06 .64 -.15 -2 223)"/><use href="#wd" transform="matrix(.78 -.51 .42 .65 -11 28)"/><use href="#wd" transform="matrix(-1.11 .12 -.11 -1.00 86 60)"/><use href="#wb" transform="matrix(.25 -.95 1.01 .26 24 101)"/><use href="#wd" transform="matrix(.34 .87 -.60 .23 58 -68)"/><use href="#wd" transform="matrix(.91 -.05 .05 1.00 -85 -179)"/><use href="#wd" transform="matrix(.73 -.37 .46 .91 -129 20)"/><use href="#wd" transform="matrix(-.36 -.72 1.01 -.51 110 -129)"/><use href="#wb" transform="matrix(.70 -.74 .79 .75 133 115)"/><use href="#wd" transform="matrix(.11 .94 -.71 .08 30 -32)"/><use href="#wd" transform="matrix(-.15 1.11 -.77 -.10 57 -119)"/><use href="#wb" transform="matrix(.60 -.57 .54 .57 79 -209)"/><use href="#wd" transform="matrix(.33 -.88 .62 .23 -185 -111)"/><use href="#wb" transform="matrix(.17 -.86 .99 .20 -45 -53)"/><use href="#wd" transform="matrix(.54 -.86 .71 .45 -9 -91)"/><use href="#wd" transform="matrix(.87 -.56 .40 .62 -104 63)"/><use href="#wb" transform="matrix(-.99 .10 -.06 -.62 168 -86)"/><use href="#wb" transform="matrix(.63 -.52 .68 .82 -78 103)"/><use href="#wb" transform="matrix(.60 -.87 .59 .41 173 145)"/><use href="#wd" transform="matrix(.24 .90 -1.00 .27 -57 154)"/><use href="#wd" transform="matrix(-.28 -.87 .78 -.25 39 -229)"/><use href="#wd" transform="matrix(.79 .15 -.15 .80 -87 -67)"/><use href="#wb" transform="matrix(-.16 .93 -.76 -.13 81 -159)"/><use href="#wd" transform="matrix(.82 -.04 .04 .80 -127 120)"/><use href="#wb" transform="matrix(.37 -.74 .92 .46 -116 -24)"/><use href="#wb" transform="matrix(-.58 -.80 .87 -.63 -104 -135)"/><use href="#wb" transform="matrix(-.30 -.93 1.04 -.33 190 59)"/><use href="#wd" transform="matrix(.09 1.13 -1.07 .08 46 199)"/><use href="#wb" transform="matrix(-.95 -.18 .21 -1.08 146 -182)"/><use href="#wd" transform="matrix(.03 -.95 .91 .03 152 -22)"/><use href="#wb" transform="matrix(-.83 .70 -.61 -.72 229 -16)"/><use href="#wb" transform="matrix(-.64 .72 -.55 -.49 41 -185)"/><use href="#wd" transform="matrix(-.31 1.08 -.94 -.26 -179 35)"/><use href="#wd" transform="matrix(.75 -.33 .30 .68 -177 -148)"/><use href="#wd" transform="matrix(1.03 -.35 .24 .70 -180 113)"/><use href="#wb" transform="matrix(1.11 -.30 .27 1.02 154 20)"/><use href="#wd" transform="matrix(-.57 -.83 .60 -.41 177 103)"/><use href="#wd" transform="matrix(-.10 .86 -.97 -.11 -44 -131)"/><use href="#wb" transform="matrix(-.70 -.39 .50 -.91 -17 83)"/><use href="#wd" transform="matrix(-.46 .75 -.85 -.52 127 -81)"/><use href="#wb" transform="matrix(.94 .35 -.26 .69 -221 68)"/><use href="#wd" transform="matrix(-.76 .51 -.36 -.53 -88 -219)"/><use href="#wd" transform="matrix(-.00 .91 -.65 -.00 -34 -229)"/><use href="#wb" transform="matrix(-.83 -.16 .20 -1.03 101 126)"/><use href="#wd" transform="matrix(-.44 -.93 .84 -.39 -1 132)"/><use href="#wb" transform="matrix(.32 .78 -.86 .35 70 88)"/><use href="#wd" transform="matrix(.80 -.37 .28 .60 -25 176)"/><use href="#wb" transform="matrix(.32 1.10 -.83 .24 -200 -19)"/><use href="#wd" transform="matrix(-.43 .92 -1.00 -.46 7 22)"/><use href="#wd" transform="matrix(.39 .98 -1.04 .41 118 47)"/><use href="#wd" transform="matrix(.75 -.33 .46 1.05 -129 180)"/><use href="#wd" transform="matrix(-.18 -1.05 .95 -.16 108 207)"/><use href="#wb" transform="matrix(.96 -.21 .22 1.02 150 -118)"/><use href="#wd" transform="matrix(.86 .69 -.47 .59 -16 -191)"/><use href="#wd" transform="matrix(.83 -.16 .14 .72 158 181)"/><use href="#wb" transform="matrix(-.59 .60 -.49 -.48 -50 -83)"/><use href="#wd" transform="matrix(.39 -1.07 .57 .21 16 -65)"/><use href="#wb" transform="matrix(-.74 -.72 .80 -.82 -42 -20)"/><use href="#wd" transform="matrix(-.57 -.87 .90 -.59 -84 -27)"/><use href="#wb" transform="matrix(-1.04 .03 -.03 -.83 -144 -129)"/><use href="#wa" transform="matrix(1.06 -.16 .15 1.03 88 -28)"/><use href="#wb" transform="matrix(1.01 -.14 .12 .86 85 -70)"/><use href="#wb" transform="matrix(.18 -.98 1.09 .20 -0 -19)"/><use href="#wb" transform="matrix(-.85 .54 -.33 -.52 -1 211)"/><use href="#wa" transform="matrix(.03 -.85 .71 .03 -72 36)"/><use href="#wa" transform="matrix(.60 -.61 .81 .79 211 -106)"/><use href="#wc" transform="matrix(-.94 -.42 .39 -.89 71 47)"/><use href="#wc" transform="matrix(.90 -.04 .04 .81 -91 162)"/><use href="#wa" transform="matrix(.58 .84 -.62 .43 186 152)"/><use href="#wb" transform="matrix(-.02 -1.14 .95 -.01 -149 40)"/><use href="#wa" transform="matrix(1.06 .21 -.14 .70 92 -114)"/><use href="#wc" transform="matrix(-.74 -.78 .63 -.60 215 57)"/><use href="#wb" transform="matrix(.97 .38 -.31 .78 -113 90)"/><use href="#wa" transform="matrix(.51 -.96 .56 .30 -112 20)"/><use href="#wb" transform="matrix(-.52 -.70 .61 -.45 -206 -130)"/><use href="#wb" transform="matrix(-1.11 -.13 .11 -.98 -146 130)"/><use href="#wa" transform="matrix(-.23 .94 -.67 -.16 -54 82)"/><use href="#wb" transform="matrix(-.52 .85 -.85 -.52 -240 -48)"/><use href="#wb" transform="matrix(.27 .88 -.94 .29 19 -137)"/><use href="#wa" transform="matrix(-.37 .95 -.92 -.36 -126 -42)"/><use href="#wb" transform="matrix(-.80 .20 -.21 -.84 165 60)"/><use href="#wa" transform="matrix(.90 -.70 .48 .62 57 -162)"/><use href="#wa" transform="matrix(.01 -1.14 .67 .01 -229 15)"/><use href="#wa" transform="matrix(1.01 .24 -.25 1.05 -173 5)"/><use href="#wa" transform="matrix(-.23 -.82 .80 -.22 85 -226)"/><use href="#wa" transform="matrix(.54 .77 -.54 .38 -70 231)"/><use href="#wa" transform="matrix(-.87 -.39 .26 -.58 168 -25)"/><use href="#wb" transform="matrix(-.75 .77 -.45 -.44 -87 -125)"/><use href="#wb" transform="matrix(.37 -1.05 .83 .29 48 -103)"/><use href="#wa" transform="matrix(-.76 -.80 .56 -.53 160 -80)"/><use href="#wa" transform="matrix(-.73 .55 -.44 -.58 45 148)"/><use href="#wa" transform="matrix(.25 -.90 .89 .25 -225 99)"/><use href="#wc" transform="matrix(.66 .53 -.38 .47 124 157)"/><use href="#wb" transform="matrix(.30 1.10 -.72 .19 -120 -184)"/><use href="#wb" transform="matrix(.70 .44 -.54 .85 -196 154)"/><use href="#wb" transform="matrix(1.02 -.21 .17 .82 196 -143)"/><use href="#wb" transform="matrix(.42 .88 -.89 .43 159 -165)"/><use href="#wb" transform="matrix(-.99 -.56 .36 -.63 -6 -226)"/><use href="#wa" transform="matrix(.10 .90 -.99 .11 79 190)"/><use href="#wb" transform="matrix(-.82 .59 -.51 -.72 128 -137)"/><use href="#wb" transform="matrix(.10 -1.10 .95 .09 -65 -185)"/><use href="#wb" transform="matrix(.92 -.22 .20 .81 -10 150)"/><use href="#wb" transform="matrix(-1.14 -.06 .04 -.66 91 230)"/><use href="#wb" transform="matrix(.29 .76 -.61 .23 -145 189)"/><use href="#wa" transform="matrix(-.65 .80 -.48 -.40 -31 9)"/><use href="#wa" transform="matrix(-.62 .81 -.56 -.43 29 10)"/><use href="#wa" transform="matrix(-.70 -.40 .40 -.69 203 97)"/><use href="#wb" transform="matrix(.83 -.50 .31 .52 110 91)"/><use href="#wb" transform="matrix(-.08 .91 -1.00 -.09 221 -53)"/><use href="#wb" transform="matrix(-.13 .96 -.96 -.13 -48 -227)"/><use href="#wa" transform="matrix(-.36 -1.02 .65 -.23 -13 243)"/><use href="#wb" transform="matrix(-1.01 .47 -.30 -.66 105 1)"/><use href="#wa" transform="matrix(.64 .51 -.71 .89 209 -2)"/><use href="#wb" transform="matrix(.21 -1.10 .73 .14 1 -50)"/><use href="#wb" transform="matrix(.60 .81 -.75 .55 19 63)"/><use href="#wa" transform="matrix(.23 -1.00 .68 .16 244 58)"/><use href="#wb" transform="matrix(.79 .29 -.23 .63 158 182)"/><use href="#wb" transform="matrix(.81 -.35 .31 .71 -219 -102)"/><use href="#wb" transform="matrix(.60 -.59 .67 .69 -234 -16)"/><use href="#wb" transform="matrix(-.67 -.76 .66 -.59 -168 58)"/><use href="#wb" transform="matrix(-.58 -.82 .70 -.50 17 185)"/><use href="#wb" transform="matrix(-.61 -.75 .69 -.57 158 -115)"/><use href="#wb" transform="matrix(-.79 .31 -.28 -.72 -148 -26)"/><use href="#wb" transform="matrix(-.41 .84 -.86 -.42 -201 -155)"/><use href="#wa" transform="matrix(-.19 1.10 -.90 -.15 -40 206)"/><use href="#wa" transform="matrix(-1.11 -.22 .17 -.86 -165 -65)"/><use href="#wb" transform="matrix(-.86 -.35 .23 -.56 118 -43)"/><use href="#wa" transform="matrix(.35 -.97 .78 .28 175 -56)"/><use href="#wb" transform="matrix(.83 -.34 .23 .57 112 47)"/><use href="#wb" transform="matrix(1.00 -.34 .27 .79 106 -173)"/><use href="#wa" transform="matrix(-.83 .21 -.26 -1.03 -157 150)"/><use href="#wb" transform="matrix(-.72 .35 -.44 -.92 112 -219)"/><use href="#wa" transform="matrix(-.00 -1.08 1.10 -.00 254 -17)"/><use href="#wa" transform="matrix(-.77 .37 -.41 -.84 9 -122)"/><use href="#wb" transform="matrix(-.82 -.74 .73 -.82 204 146)"/><use href="#wb" transform="matrix(-.97 -.07 .06 -.89 -138 -206)"/><use href="#wb" transform="matrix(.90 .14 -.11 .72 -28 -143)"/><use href="#wb" transform="matrix(.18 -.98 .98 .18 -72 -63)"/><use href="#wa" transform="matrix(-.28 1.09 -.72 -.18 -206 -49)"/><use href="#wb" transform="matrix(.46 -.88 .84 .44 147 124)"/><use href="#wa" transform="matrix(.19 -.97 1.08 .21 58 -183)"/><use href="#wb" transform="matrix(-.53 .61 -.64 -.56 4 -200)"/><use href="#wa" transform="matrix(.51 -.70 .86 .63 -134 -105)"/><use href="#wb" transform="matrix(-.58 -.84 .58 -.40 -86 102)"/><use href="#wb" transform="matrix(.02 -.97 .75 .01 5 116)"/><use href="#wa" transform="matrix(-.70 -.52 .43 -.58 151 69)"/><use href="#wb" transform="matrix(1.00 -.50 .41 .82 -214 47)"/><use href="#wb" transform="matrix(.97 .40 -.24 .57 -66 -17)"/><use href="#wb" transform="matrix(.38 -1.06 .69 .24 69 55)"/><use href="#wb" transform="matrix(-.40 .89 -.71 -.32 61 -94)"/><use href="#wb" transform="matrix(.04 -.84 .64 .03 70 133)"/><use href="#wb" transform="matrix(-.31 -.79 .87 -.34 216 -101)"/><use href="#wb" transform="matrix(-.23 -1.05 .69 -.15 31 -15)"/><use href="#wb" transform="matrix(-.85 .12 -.09 -.63 72 -234)"/><use href="#wc" transform="matrix(1.10 .09 -.09 1.05 -89 212)"/><use href="#wa" transform="matrix(-.68 .51 -.54 -.72 -71 -117)"/><use href="#wa" transform="matrix(-.51 -.97 .90 -.48 65 205)"/><use href="#wa" transform="matrix(.77 .55 -.45 .62 114 190)"/><use href="#wa" transform="matrix(-.74 -.31 .24 -.59 192 58)"/><use href="#wb" transform="matrix(-.15 -.82 .80 -.14 -125 67)"/><use href="#wb" transform="matrix(.82 .55 -.41 .61 183 -152)"/><use href="#wb" transform="matrix(.65 -.76 .70 .61 -95 -213)"/><use href="#wb" transform="matrix(-.78 .50 -.42 -.66 -205 98)"/><use href="#wa" transform="matrix(-.50 -.68 .75 -.55 -117 -145)"/><use href="#wb" transform="matrix(.26 -.95 .87 .24 181 15)"/><use href="#wb" transform="matrix(-.73 .88 -.60 -.49 7 225)"/><use href="#wb" transform="matrix(.06 1.06 -.82 .05 -116 -66)"/><use href="#wc" transform="matrix(.94 -.40 .44 1.04 72 -50)"/><use href="#wa" transform="matrix(-.65 .88 -.65 -.48 -121 181)"/><use href="#wc" transform="matrix(.52 -.91 .95 .55 -35 37)"/><use href="#wa" transform="matrix(-.99 -.17 .20 -1.11 122 148)"/><use href="#wb" transform="matrix(-.70 .49 -.37 -.54 127 -112)"/><use href="#wb" transform="matrix(-.77 -.43 .39 -.69 -180 -2)"/><use href="#wa" transform="matrix(.85 -.15 .16 .93 -54 139)"/><use href="#wa" transform="matrix(-.45 .82 -.67 -.37 235 68)"/><use href="#wa" transform="matrix(.97 -.46 .42 .88 30 -157)"/><use href="#wa" transform="matrix(-.82 -.33 .32 -.79 -183 -104)"/><use href="#wa" transform="matrix(-.95 .52 -.31 -.56 -124 10)"/><use href="#wb" transform="matrix(-.42 .93 -.56 -.25 176 167)"/><use href="#wb" transform="matrix(-.59 -.86 .92 -.63 94 -141)"/><use href="#wa" transform="matrix(.46 -.68 .70 .47 -100 143)"/><use href="#wb" transform="matrix(-.05 1.02 -.69 -.04 4 159)"/><use href="#wb" transform="matrix(-1.03 -.36 .21 -.58 30 103)"/><use href="#wa" transform="matrix(.86 -.05 .04 .82 -158 -142)"/><use href="#wb" transform="matrix(1.10 -.05 .05 .97 20 29)"/><use href="#wa" transform="matrix(.40 -1.05 .79 .30 -92 45)"/><use href="#wa" transform="matrix(-.71 -.40 .42 -.75 182 -99)"/><use href="#wa" transform="matrix(-.91 -.42 .45 -.96 92 31)"/><use href="#wa" transform="matrix(-.63 .91 -.61 -.42 -175 177)"/><use href="#wb" transform="matrix(.69 .47 -.38 .56 -16 107)"/><use href="#wb" transform="matrix(-1.04 -.02 .03 -1.10 -62 -240)"/><use href="#wb" transform="matrix(-.11 -.99 1.07 -.12 -246 62)"/><use href="#wb" transform="matrix(.77 .48 -.44 .71 -99 -181)"/><use href="#wb" transform="matrix(-.91 -.56 .33 -.53 162 -26)"/><use href="#wb" transform="matrix(1.05 .03 -.02 .73 -2 -192)"/><use href="#wa" transform="matrix(-.29 -.88 .69 -.23 84 169)"/><use href="#wb" transform="matrix(.45 -.73 .81 .50 140 29)"/><use href="#wb" transform="matrix(-1.01 -.36 .29 -.80 -38 -94)"/><use href="#wa" transform="matrix(-.30 1.05 -.83 -.24 108 227)"/><use href="#wb" transform="matrix(-.95 .10 -.12 -1.13 -68 -35)"/><use href="#wb" transform="matrix(-1.06 .09 -.06 -.69 121 -179)"/><use href="#wb" transform="matrix(.19 -.96 .69 .13 9 -29)"/><use href="#wb" transform="matrix(.32 -.98 .87 .29 -129 -87)"/><use href="#wa" transform="matrix(-.89 -.29 .33 -1.02 -219 -21)"/><use href="#wb" transform="matrix(-.91 -.25 .27 -.97 -18 -148)"/><use href="#wa" transform="matrix(.72 .55 -.69 .92 -57 210)"/><use href="#wb" transform="matrix(-1.06 -.39 .35 -.96 -11 -247)"/><use href="#wb" transform="matrix(-.49 -.74 .67 -.45 189 79)"/><use href="#wa" transform="matrix(.25 .95 -.73 .19 -102 -221)"/><use href="#wa" transform="matrix(.61 -.54 .47 .53 235 25)"/><use href="#wb" transform="matrix(-.85 -.15 .18 -.99 -41 -196)"/><use href="#wb" transform="matrix(.87 .47 -.44 .80 230 -74)"/><use href="#wc" transform="matrix(-.79 .29 -.34 -.92 -220 89)"/><use href="#wb" transform="matrix(.53 -.78 .78 .53 205 -122)"/><use href="#wb" transform="matrix(1.04 .35 -.22 .65 153 -75)"/><use href="#wb" transform="matrix(.70 -.43 .44 .72 -219 -78)"/><use href="#wa" transform="matrix(.40 -.87 .65 .30 196 -3)"/><use href="#wa" transform="matrix(-.65 .83 -.64 -.50 -135 82)"/><use href="#wa" transform="matrix(.59 -.88 .72 .48 103 -10)"/><use href="#wb" transform="matrix(-.03 -1.12 1.06 -.03 103 134)"/><use href="#wb" transform="matrix(.13 1.07 -1.12 .14 53 -224)"/><use href="#wb" transform="matrix(-.57 -.76 .54 -.40 -37 166)"/><use href="#wb" transform="matrix(-.31 -.81 .72 -.27 13 -88)"/><use href="#wb" transform="matrix(.06 1.02 -.83 .05 -121 -157)"/><use href="#wc" transform="matrix(-.50 .84 -.78 -.47 23 215)"/><use href="#wb" transform="matrix(.53 .68 -.70 .55 -189 5)"/><use href="#wb" transform="matrix(-.66 -.91 .54 -.39 229 100)"/><use href="#wb" transform="matrix(-.79 .56 -.37 -.53 165 -164)"/><use href="#wa" transform="matrix(-.17 -1.11 1.05 -.16 -51 123)"/><use href="#wc" transform="matrix(-.53 .91 -.54 -.32 41 -125)"/><use href="#wa" transform="matrix(-1.01 .44 -.25 -.58 -107 -6)"/><use href="#wa" transform="matrix(-.91 .55 -.54 -.89 139 165)"/><use href="#wb" transform="matrix(.59 .87 -.76 .52 142 89)"/><use href="#wb" transform="matrix(-.61 -.55 .47 -.52 -40 6)"/><use href="#wb" transform="matrix(.77 -.23 .19 .63 -181 118)"/><use href="#wa" transform="matrix(.05 -1.00 .86 .05 -238 41)"/><use href="#wc" transform="matrix(.69 .46 -.45 .68 14 30)"/><use href="#wa" transform="matrix(-.90 -.49 .35 -.65 -97 -51)"/><use href="#wa" transform="matrix(.47 -.91 1.02 .52 -82 83)"/><use href="#wa" transform="matrix(-.94 -.23 .21 -.84 53 -165)"/><use href="#wa" transform="matrix(.86 .38 -.35 .78 170 42)"/><use href="#wb" transform="matrix(-.21 .86 -.75 -.19 -102 -117)"/><use href="#wb" transform="matrix(-.92 .03 -.03 -.99 127 205)"/><use href="#wa" transform="matrix(.17 .90 -.77 .15 73 -98)"/><use href="#wb" transform="matrix(-.54 .69 -.68 -.53 0 249)"/><use href="#wc" transform="matrix(.80 .51 -.47 .73 46 81)"/><use href="#wb" transform="matrix(.74 .86 -.47 .41 16 139)"/><use href="#wb" transform="matrix(-.93 .54 -.45 -.77 -181 167)"/><use href="#wa" transform="matrix(-.54 .65 -.82 -.68 -133 177)"/><use href="#wb" transform="matrix(-.65 -.67 .54 -.53 28 -54)"/><use href="#wa" transform="matrix(-.95 .51 -.47 -.89 -139 20)"/><use href="#wb" transform="matrix(-.62 -.87 .88 -.63 -168 -44)"/><use href="#wb" transform="matrix(.63 .66 -.83 .79 -10 93)"/><use href="#wb" transform="matrix(.67 .80 -.86 .73 -163 -139)"/><use href="#wa" transform="matrix(-.71 .85 -.61 -.51 38 181)"/><use href="#wb" transform="matrix(-.88 -.64 .43 -.60 76 218)"/><use href="#wb" transform="matrix(.40 -.94 .89 .39 101 -209)"/><use href="#wa" transform="matrix(.65 .93 -.76 .53 -216 -119)"/><use href="#wb" transform="matrix(.34 .98 -.81 .28 -174 49)"/><use href="#wb" transform="matrix(-.05 -1.11 .69 -.03 99 170)"/><use href="#wb" transform="matrix(.70 -.63 .61 .68 132 30)"/><use href="#wb" transform="matrix(-.56 .63 -.75 -.66 -81 202)"/><use href="#wb" transform="matrix(.65 -.53 .63 .77 -58 -41)"/><use href="#wb" transform="matrix(-.01 -.94 .63 -.01 4 -174)"/><use href="#wa" transform="matrix(-.69 -.78 .83 -.74 -222 1)"/><use href="#wa" transform="matrix(-.72 -.67 .74 -.80 88 58)"/><use href="#wa" transform="matrix(.39 .93 -.99 .41 15 -220)"/><use href="#wb" transform="matrix(.55 -.77 .76 .54 -122 -84)"/><use href="#wb" transform="matrix(-.40 -1.05 .93 -.36 -67 37)"/><use href="#wa" transform="matrix(-.92 .26 -.26 -.93 242 -6)"/><use href="#wb" transform="matrix(-.83 -.69 .69 -.83 -40 221)"/><use href="#wb" transform="matrix(.95 -.34 .27 .75 -9 -48)"/><use href="#wc" transform="matrix(.07 -.94 .70 .05 -51 -134)"/><use href="#wa" transform="matrix(.20 .80 -.91 .23 133 -119)"/><use href="#wb" transform="matrix(.30 .95 -.86 .27 148 -183)"/><use href="#wb" transform="matrix(.60 -.95 .54 .34 -74 -205)"/><use href="#wb" transform="matrix(-1.12 -.00 .00 -.85 -82 -163)"/><use href="#wb" transform="matrix(.49 -.93 .65 .34 -33 -231)"/><use href="#wb" transform="matrix(-.92 .05 -.05 -.84 219 -97)"/><use href="#wa" transform="matrix(.72 .73 -.63 .62 87 -20)"/><use href="#wb" transform="matrix(-.82 -.16 .18 -.88 98 113)"/><use href="#wa" transform="matrix(-.41 -.91 .83 -.37 -123 117)"/><use href="#wb" transform="matrix(.59 -.93 .97 .61 -125 -16)"/><use href="#wb" transform="matrix(-.89 -.49 .30 -.53 122 -54)"/><use href="#wb" transform="matrix(-.21 1.07 -.61 -.12 181 135)"/><use href="#wb" transform="matrix(.03 -.85 .67 .02 -216 -71)"/><use href="#wa" transform="matrix(-1.13 -.20 .11 -.60 -181 -97)"/><use href="#wb" transform="matrix(-.45 -.91 .77 -.38 93 -168)"/><use href="#wa" transform="matrix(-.83 .09 -.12 -1.12 56 -133)"/><use href="#wc" transform="matrix(1.05 .10 -.06 .60 190 -22)"/><use href="#wa" transform="matrix(.31 -.84 .86 .32 -80 -93)"/><use href="#wb" transform="matrix(.25 -.92 .68 .18 226 60)"/><use href="#wc" transform="matrix(1.02 -.53 .41 .79 -25 159)"/><use href="#wb" transform="matrix(-.46 .72 -.64 -.41 -209 65)"/><use href="#wb" transform="matrix(.84 -.25 .24 .81 19 48)"/><use href="#wc" transform="matrix(.69 -.60 .46 .52 144 -4)"/><use href="#wa" transform="matrix(.05 -.93 .78 .04 -88 149)"/><use href="#wa" transform="matrix(-.83 -.38 .37 -.80 -197 -29)"/><use href="#wb" transform="matrix(-.75 .61 -.50 -.62 -33 90)"/><use href="#wa" transform="matrix(-.91 -.34 .28 -.76 -133 -133)"/><use href="#wa" transform="matrix(.86 .42 -.28 .57 185 25)"/><use href="#wa" transform="matrix(.87 -.03 .03 .84 159 96)"/><use href="#wb" transform="matrix(.81 -.54 .46 .68 18 -73)"/><use href="#wa" transform="matrix(-.32 .91 -.95 -.33 51 166)"/><use href="#wb" transform="matrix(-1.13 .00 -.00 -1.00 77 204)"/><use href="#wa" transform="matrix(-.98 -.09 .07 -.83 111 -90)"/><use href="#wa" transform="matrix(-.87 .18 -.22 -1.07 -18 -94)"/><use href="#wa" transform="matrix(.02 1.03 -.69 .01 133 56)"/><use href="#wa" transform="matrix(.84 .15 -.14 .84 -117 37)"/><use href="#wa" transform="matrix(-.79 -.34 .30 -.71 64 119)"/><use href="#wa" transform="matrix(.77 .39 -.34 .68 140 146)"/><use href="#wa" transform="matrix(-.18 -.88 1.11 -.22 -52 197)"/><use href="#wa" transform="matrix(.36 .88 -.63 .26 57 -185)"/><use href="#wa" transform="matrix(-.79 -.36 .32 -.71 221 -54)"/><use href="#wa" transform="matrix(-.21 .80 -.85 -.22 70 -53)"/><use href="#wa" transform="matrix(1.08 .14 -.13 1.03 124 -184)"/><use href="#wa" transform="matrix(-.52 .95 -.99 -.54 -135 -62)"/><use href="#wa" transform="matrix(.99 -.05 .04 .93 -213 5)"/><use href="#wa" transform="matrix(.81 .70 -.44 .51 -58 -155)"/><use href="#wb" transform="matrix(-.71 -.38 .36 -.68 -71 78)"/><use href="#wb" transform="matrix(-.66 .81 -.79 -.64 84 25)"/><use href="#wa" transform="matrix(.47 -.66 .55 .39 165 -137)"/><use href="#wa" transform="matrix(.35 .76 -.94 .44 11 201)"/><use href="#wa" transform="matrix(-.90 .51 -.33 -.58 26 99)"/><use href="#wb" transform="matrix(-.92 .69 -.49 -.66 -162 -22)"/><use href="#wc" transform="matrix(.59 -.59 .78 .77 208 1)"/><use href="#wb" transform="matrix(.31 .98 -.58 .18 -153 97)"/><use href="#wa" transform="matrix(.76 -.52 .64 .93 -85 -12)"/><use href="#wa" transform="matrix(-.35 .78 -.56 -.25 104 81)"/><use href="#wa" transform="matrix(.46 -.69 .50 .34 -131 164)"/><use href="#wc" transform="matrix(.22 -1.10 1.01 .20 -144 -101)"/><use href="#wa" transform="matrix(-1.05 -.11 .06 -.62 -5 -21)"/><use href="#wa" transform="matrix(.44 -1.06 .77 .32 123 -18)"/><use href="#wc" transform="matrix(-.81 -.18 .15 -.67 -32 111)"/><use href="#wa" transform="matrix(.78 .44 -.51 .89 -37 -57)"/><use href="#wa" transform="matrix(-.73 -.60 .67 -.82 -101 -69)"/><use href="#wa" transform="matrix(-.93 -.09 .10 -1.07 -64 -95)"/><use href="#wa" transform="matrix(.33 .74 -.64 .29 20 -203)"/><use href="#wc" transform="matrix(-.87 -.18 .19 -.91 43 35)"/><use href="#wa" transform="matrix(.84 .14 -.14 .86 164 10)"/><use href="#wc" transform="matrix(-.43 .86 -.79 -.39 -14 20)"/><use href="#wa" transform="matrix(-.18 -.87 .68 -.14 118 -117)"/><use href="#wa" transform="matrix(.91 -.65 .53 .74 -177 62)"/><use href="#wa" transform="matrix(-1.12 -.10 .07 -.87 20 -132)"/><use href="#wa" transform="matrix(-.12 .90 -.81 -.10 -59 24)"/><use href="#wb" transform="matrix(.18 .87 -.64 .14 -115 37)"/><use href="#wb" transform="matrix(-1.04 -.00 .00 -1.14 -85 -149)"/><use href="#wa" transform="matrix(-.73 -.72 .75 -.77 134 106)"/><use href="#wa" transform="matrix(-.67 .57 -.42 -.49 -187 -26)"/><use href="#wb" transform="matrix(-.92 -.20 .15 -.70 137 46)"/><use href="#wb" transform="matrix(.62 .82 -.92 .69 162 -62)"/><use href="#wb" transform="matrix(.85 .06 -.08 1.05 -62 141)"/><use href="#wa" transform="matrix(-.68 .47 -.41 -.59 -152 10)"/><use href="#wb" transform="matrix(.79 -.56 .57 .81 45 -98)"/><use href="#wa" transform="matrix(-.64 .66 -.54 -.52 89 94)"/><use href="#wa" transform="matrix(-.26 .92 -1.08 -.30 -122 -127)"/><use href="#wa" transform="matrix(-.66 .73 -.80 -.73 78 135)"/><use href="#wa" transform="matrix(.04 -.93 .62 .03 34 -30)"/><use href="#wa" transform="matrix(.54 -.87 .64 .40 -134 73)"/><use href="#wa" transform="matrix(.92 -.27 .20 .70 93 -3)"/><use href="#wa" transform="matrix(.70 .52 -.42 .57 -5 122)"/><use href="#wa" transform="matrix(.77 -.84 .65 .60 -78 92)"/><use href="#wa" transform="matrix(1.01 -.01 .01 .68 -47 62)"/><use href="#wc" transform="matrix(.29 .96 -.60 .18 93 -88)"/><use href="#wa" transform="matrix(.21 .82 -1.05 .27 84 -133)"/><use href="#wb" transform="matrix(.91 .18 -.12 .62 -82 -76)"/><use href="#wa" transform="matrix(.04 1.02 -.70 .02 -31 -139)"/><use href="#wa" transform="matrix(.06 .99 -.70 .04 -105 20)"/><use href="#wa" transform="matrix(-.90 .29 -.30 -.95 -31 -32)"/><use href="#wa" transform="matrix(-.42 -.85 .62 -.31 -54 -104)"/><use href="#wa" transform="matrix(-.03 1.04 -1.06 -.03 -73 -21)"/><use href="#wa" transform="matrix(.84 -.36 .36 .85 -1 -68)"/><use href="#wb" transform="matrix(-.25 .94 -.74 -.19 66 -76)"/><use href="#wa" transform="matrix(.95 -.59 .51 .83 105 -20)"/><use href="#wa" transform="matrix(-1.08 -.26 .21 -.88 6 -108)"/><use href="#wa" transform="matrix(-.75 -.59 .41 -.52 25 89)"/><use href="#wa" transform="matrix(-.89 .30 -.34 -1.01 62 62)"/><use href="#wc" transform="matrix(-.92 -.10 .09 -.84 8 22)"/><use href="#wa" transform="matrix(-.55 -1.00 .62 -.34 36 -41)"/><use href="#wa" transform="matrix(.06 -.88 .80 .05 -85 55)"/><use href="#wa" transform="matrix(-.65 .89 -.62 -.45 -40 66)"/></g>
<g id="cl3"><use href="#wb" transform="matrix(-.05 -1.13 .69 -.03 -69 -25)"/><use href="#wb" transform="matrix(.49 1.01 -.72 .35 18 40)"/><use href="#wb" transform="matrix(.60 .70 -.78 .67 -62 -71)"/><use href="#wd" transform="matrix(-.59 -.56 .57 -.60 -2 -58)"/><use href="#wd" transform="matrix(-.93 .15 -.15 -.88 53 -51)"/><use href="#wd" transform="matrix(.94 -.14 .13 .89 22 -16)"/><use href="#wd" transform="matrix(.76 -.31 .43 1.06 -94 56)"/><use href="#wd" transform="matrix(.82 .57 -.47 .67 -44 4)"/><use href="#wd" transform="matrix(1.01 .01 -.01 .93 75 -95)"/><use href="#wb" transform="matrix(.99 .13 -.08 .62 32 74)"/><use href="#wb" transform="matrix(-.76 -.73 .74 -.78 79 38)"/><use href="#wd" transform="matrix(.56 .96 -.72 .42 -24 104)"/><use href="#wd" transform="matrix(-.04 .93 -.63 -.03 -144 -29)"/><use href="#wb" transform="matrix(-.92 -.28 .19 -.60 -85 -95)"/><use href="#wb" transform="matrix(-.47 -.72 .83 -.54 -59 59)"/><use href="#wd" transform="matrix(.86 .12 -.13 .93 -136 26)"/><use href="#wd" transform="matrix(-.78 .22 -.19 -.68 -42 -88)"/><use href="#wd" transform="matrix(.34 -.77 .92 .40 12 -122)"/><use href="#wd" transform="matrix(-.55 1.00 -.60 -.34 -85 102)"/><use href="#wb" transform="matrix(.07 -1.04 .77 .05 126 79)"/><use href="#wd" transform="matrix(.70 .54 -.52 .68 100 -59)"/><use href="#wd" transform="matrix(-.53 .88 -.86 -.52 -95 -132)"/><use href="#wb" transform="matrix(-.95 .13 -.12 -.88 -166 66)"/><use href="#wb" transform="matrix(-.97 .31 -.30 -.92 72 -7)"/><use href="#wb" transform="matrix(-.27 .91 -.88 -.26 61 110)"/><use href="#wd" transform="matrix(-.45 1.02 -.61 -.27 -54 -122)"/><use href="#wd" transform="matrix(-.20 -.86 .59 -.14 -60 164)"/><use href="#wd" transform="matrix(-.00 1.05 -.63 -.00 -10 -175)"/><use href="#wd" transform="matrix(.93 -.23 .25 1.04 17 -4)"/><use href="#wd" transform="matrix(.55 .72 -.57 .44 144 22)"/><use href="#wb" transform="matrix(-.92 -.06 .07 -1.10 -134 127)"/><use href="#wd" transform="matrix(.57 .75 -.78 .60 -108 62)"/><use href="#wb" transform="matrix(-.96 -.09 .10 -1.04 -171 -19)"/><use href="#wd" transform="matrix(-.74 .37 -.52 -1.02 78 -159)"/><use href="#wb" transform="matrix(.33 .94 -.90 .32 47 -42)"/><use href="#wd" transform="matrix(-.77 .24 -.20 -.64 118 -129)"/><use href="#wd" transform="matrix(-.54 .76 -.75 -.53 14 51)"/><use href="#wd" transform="matrix(.78 -.73 .67 .72 -75 10)"/><use href="#wb" transform="matrix(.17 -.96 .65 .11 166 -17)"/><use href="#wd" transform="matrix(.61 -.55 .62 .69 -15 125)"/><use href="#wb" transform="matrix(-.98 -.37 .28 -.74 54 -103)"/><use href="#wd" transform="matrix(-.11 -.82 .80 -.10 -14 -44)"/><use href="#wd" transform="matrix(.92 -.48 .38 .73 162 -64)"/><use href="#wb" transform="matrix(-.30 -1.09 .67 -.19 -168 104)"/><use href="#wb" transform="matrix(-.39 1.01 -.80 -.31 104 17)"/><use href="#wb" transform="matrix(.61 .66 -.48 .45 180 89)"/><use href="#wb" transform="matrix(-.81 -.28 .37 -1.07 81 167)"/><use href="#wd" transform="matrix(-.25 -1.03 .92 -.22 54 -197)"/><use href="#wd" transform="matrix(-.82 .13 -.11 -.74 -57 -186)"/><use href="#wd" transform="matrix(.10 .92 -1.07 .12 -187 15)"/><use href="#wb" transform="matrix(.26 -.77 .94 .32 18 155)"/><use href="#wd" transform="matrix(-.93 -.57 .47 -.76 -46 65)"/><use href="#wd" transform="matrix(.82 -.17 .19 .90 -111 -71)"/><use href="#wd" transform="matrix(-1.08 -.34 .34 -1.07 149 59)"/><use href="#wb" transform="matrix(.55 -.59 .47 .44 -87 -143)"/><use href="#wd" transform="matrix(-.22 -.81 1.10 -.31 -120 9)"/><use href="#wb" transform="matrix(.31 .88 -.68 .24 -95 193)"/><use href="#wb" transform="matrix(-.82 -.15 .19 -1.02 6 -159)"/><use href="#wb" transform="matrix(-.63 .85 -.59 -.43 -142 -105)"/><use href="#wd" transform="matrix(-.37 1.02 -.81 -.29 78 69)"/><use href="#wb" transform="matrix(-.05 .96 -1.08 -.06 -7 -92)"/><use href="#wb" transform="matrix(.53 .67 -.63 .50 -14 -9)"/><use href="#wd" transform="matrix(-.47 -1.02 .92 -.42 197 -12)"/><use href="#wd" transform="matrix(.61 .96 -.56 .35 186 -109)"/><use href="#wd" transform="matrix(.82 .40 -.30 .61 -39 153)"/><use href="#wb" transform="matrix(.24 .78 -.66 .20 47 9)"/><use href="#wd" transform="matrix(.09 -1.01 .93 .08 44 97)"/><use href="#wd" transform="matrix(.44 -.94 .99 .46 125 -28)"/><use href="#wd" transform="matrix(.86 -.49 .48 .84 92 -74)"/><use href="#wb" transform="matrix(-.18 -.89 1.12 -.23 75 -32)"/><use href="#wd" transform="matrix(-1.09 .26 -.27 -1.11 -42 -66)"/><use href="#wd" transform="matrix(.65 .58 -.50 .57 28 -62)"/><use href="#wd" transform="matrix(1.01 -.30 .17 .58 -58 -111)"/><use href="#wb" transform="matrix(-.46 .73 -.55 -.35 -37 -154)"/><use href="#wb" transform="matrix(-.17 .80 -.76 -.16 -81 139)"/><use href="#wd" transform="matrix(-.35 1.06 -.77 -.26 -221 28)"/><use href="#wd" transform="matrix(-.90 .11 -.10 -.85 95 110)"/><use href="#wd" transform="matrix(.22 .87 -.61 .16 -171 51)"/><use href="#wd" transform="matrix(-.70 -.82 .78 -.66 -124 147)"/><use href="#wb" transform="matrix(.74 .38 -.29 .56 -14 103)"/><use href="#wb" transform="matrix(.32 .87 -.93 .34 -103 57)"/><use href="#wd" transform="matrix(-.92 .45 -.36 -.73 202 -69)"/><use href="#wd" transform="matrix(1.09 -.35 .22 .70 -182 -41)"/><use href="#wd" transform="matrix(.86 .54 -.36 .58 172 42)"/><use href="#wd" transform="matrix(.78 .62 -.63 .78 26 217)"/><use href="#wb" transform="matrix(-.54 -.78 .85 -.59 63 -126)"/><use href="#wb" transform="matrix(-.38 -.73 .66 -.34 -106 -189)"/><use href="#wd" transform="matrix(.72 -.54 .41 .55 4 -210)"/><use href="#wb" transform="matrix(-.85 .23 -.30 -1.10 222 30)"/><use href="#wb" transform="matrix(-.03 -1.14 .67 -.02 77 -200)"/><use href="#wd" transform="matrix(.80 .31 -.40 1.02 126 -145)"/><use href="#wb" transform="matrix(-.77 -.27 .21 -.61 56 44)"/><use href="#wd" transform="matrix(.48 -.80 .96 .58 9 147)"/><use href="#wd" transform="matrix(-.88 .31 -.34 -.97 -101 -21)"/><use href="#wd" transform="matrix(.40 1.05 -.97 .37 -29 220)"/><use href="#wd" transform="matrix(.91 -.63 .43 .62 -128 187)"/><use href="#wd" transform="matrix(-.93 -.29 .31 -.97 77 145)"/><use href="#wd" transform="matrix(-.21 -1.13 .81 -.15 34 -168)"/><use href="#wb" transform="matrix(.18 -.89 .79 .16 -145 -66)"/><use href="#wd" transform="matrix(-.80 -.11 .13 -.93 136 118)"/><use href="#wb" transform="matrix(.58 -.67 .67 .58 -43 -27)"/><use href="#wd" transform="matrix(-.72 -.42 .46 -.79 78 195)"/><use href="#wb" transform="matrix(-.51 .71 -.80 -.58 23 -121)"/><use href="#wd" transform="matrix(.95 .56 -.44 .75 -143 -109)"/><use href="#wb" transform="matrix(-.80 .64 -.53 -.66 -74 -62)"/><use href="#wd" transform="matrix(-.47 .88 -.85 -.46 160 -5)"/><use href="#wb" transform="matrix(-.46 -.94 1.02 -.50 -46 15)"/><use href="#wb" transform="matrix(-.66 -.62 .49 -.53 233 -45)"/><use href="#wd" transform="matrix(-.43 .95 -.95 -.43 104 -17)"/><use href="#wd" transform="matrix(-.77 .62 -.65 -.81 5 -0)"/><use href="#wd" transform="matrix(-1.03 -.42 .35 -.88 -206 95)"/><use href="#wb" transform="matrix(.98 .01 -.02 1.13 162 -123)"/><use href="#wd" transform="matrix(-.96 .42 -.46 -1.04 47 -29)"/><use href="#wb" transform="matrix(-.51 -.70 .59 -.43 203 62)"/><use href="#wb" transform="matrix(.78 .36 -.35 .78 123 194)"/><use href="#wb" transform="matrix(.09 -.86 1.14 .12 -212 -93)"/><use href="#wb" transform="matrix(1.08 -.37 .32 .94 -155 112)"/><use href="#wd" transform="matrix(1.04 .10 -.10 1.00 87 75)"/><use href="#wd" transform="matrix(.50 .87 -.54 .31 -187 147)"/><use href="#wd" transform="matrix(-.51 -.90 .59 -.33 -179 -139)"/><use href="#wd" transform="matrix(-.62 .67 -.57 -.52 160 -64)"/><use href="#wd" transform="matrix(-.97 .56 -.31 -.53 204 103)"/><use href="#wb" transform="matrix(-.22 1.02 -.66 -.14 17 50)"/><use href="#wb" transform="matrix(-1.05 .03 -.03 -.98 -42 -197)"/><use href="#wc" transform="matrix(.17 -.88 .72 .14 153 67)"/><use href="#wa" transform="matrix(.69 .78 -.54 .48 -154 -23)"/><use href="#wb" transform="matrix(-.54 .94 -.86 -.49 -240 -47)"/><use href="#wa" transform="matrix(-.61 .94 -.82 -.53 -38 54)"/><use href="#wa" transform="matrix(.91 -.58 .36 .57 -30 -134)"/><use href="#wb" transform="matrix(-.74 -.53 .64 -.90 -28 111)"/><use href="#wb" transform="matrix(.66 -.87 .76 .57 -83 60)"/><use href="#wb" transform="matrix(-.57 .89 -.96 -.61 -70 159)"/><use href="#wa" transform="matrix(.77 -.83 .49 .45 115 -199)"/><use href="#wa" transform="matrix(.47 .73 -.71 .46 167 121)"/><use href="#wc" transform="matrix(.41 .83 -.79 .39 -98 197)"/><use href="#wc" transform="matrix(.83 .19 -.25 1.10 34 -79)"/><use href="#wb" transform="matrix(.47 -.89 .97 .51 -107 -220)"/><use href="#wa" transform="matrix(-.87 -.21 .20 -.83 -219 -10)"/><use href="#wa" transform="matrix(-.71 .44 -.57 -.93 -12 -236)"/><use href="#wb" transform="matrix(-.71 -.78 .47 -.43 74 -160)"/><use href="#wa" transform="matrix(.83 -.14 .11 .63 -111 -74)"/><use href="#wb" transform="matrix(.70 .74 -.83 .79 -82 8)"/><use href="#wb" transform="matrix(.08 -.99 .94 .07 149 -177)"/><use href="#wb" transform="matrix(.41 .96 -.96 .41 135 25)"/><use href="#wb" transform="matrix(.20 -.85 1.06 .25 2 -47)"/><use href="#wa" transform="matrix(-.62 -.63 .71 -.71 59 -209)"/><use href="#wb" transform="matrix(-.09 -1.04 .87 -.07 -5 194)"/><use href="#wb" transform="matrix(.11 -.83 .74 .10 -78 -175)"/><use href="#wb" transform="matrix(.84 -.21 .18 .71 -227 52)"/><use href="#wa" transform="matrix(.90 .12 -.13 .98 -111 152)"/><use href="#wa" transform="matrix(.79 -.47 .50 .85 -87 -130)"/><use href="#wa" transform="matrix(.41 1.04 -1.04 .41 118 72)"/><use href="#wa" transform="matrix(.31 -.77 .82 .34 -157 -80)"/><use href="#wa" transform="matrix(-.14 .87 -.96 -.15 107 -128)"/><use href="#wb" transform="matrix(-.70 -.68 .57 -.59 -72 231)"/><use href="#wa" transform="matrix(.88 .39 -.25 .56 -69 117)"/><use href="#wa" transform="matrix(.49 .75 -.69 .45 130 -67)"/><use href="#wc" transform="matrix(-.86 .08 -.09 -.96 -193 -49)"/><use href="#wb" transform="matrix(-.58 -.79 .92 -.68 35 -18)"/><use href="#wb" transform="matrix(-.66 -.76 .70 -.61 -157 54)"/><use href="#wa" transform="matrix(.76 .58 -.47 .62 -9 33)"/><use href="#wa" transform="matrix(-.60 -.59 .43 -.43 209 -77)"/><use href="#wa" transform="matrix(-.63 .61 -.79 -.81 33 132)"/><use href="#wb" transform="matrix(.70 -.82 .75 .64 -1 234)"/><use href="#wb" transform="matrix(-1.02 .07 -.05 -.70 -45 -21)"/><use href="#wb" transform="matrix(.45 .70 -.55 .35 46 -121)"/><use href="#wb" transform="matrix(-.82 .12 -.16 -1.10 215 -127)"/><use href="#wb" transform="matrix(-.77 -.71 .41 -.44 -123 13)"/><use href="#wb" transform="matrix(.69 -.73 .45 .43 10 92)"/><use href="#wb" transform="matrix(-.59 .88 -.82 -.55 148 173)"/><use href="#wb" transform="matrix(.86 .48 -.39 .70 -82 -40)"/><use href="#wb" transform="matrix(.75 -.78 .51 .49 -25 -179)"/><use href="#wb" transform="matrix(.98 -.59 .52 .87 174 -102)"/><use href="#wa" transform="matrix(-.63 .60 -.57 -.60 33 188)"/><use href="#wa" transform="matrix(-.79 -.51 .54 -.85 98 19)"/><use href="#wa" transform="matrix(-.45 -.91 .57 -.29 -129 -141)"/><use href="#wa" transform="matrix(-.62 -.95 .54 -.35 237 -12)"/><use href="#wb" transform="matrix(.66 .70 -.54 .51 -51 74)"/><use href="#wa" transform="matrix(.92 -.19 .16 .79 90 -59)"/><use href="#wb" transform="matrix(-.34 -1.02 .71 -.24 76 215)"/><use href="#wb" transform="matrix(.29 .82 -1.00 .36 -136 104)"/><use href="#wc" transform="matrix(.07 -1.07 .75 .05 -191 84)"/><use href="#wb" transform="matrix(.98 .31 -.22 .71 -77 -242)"/><use href="#wb" transform="matrix(-.82 .20 -.28 -1.11 123 -208)"/><use href="#wa" transform="matrix(-.71 -.45 .58 -.90 51 72)"/><use href="#wc" transform="matrix(.83 -.74 .72 .81 -108 -192)"/><use href="#wb" transform="matrix(-1.00 -.42 .24 -.57 -27 -69)"/><use href="#wb" transform="matrix(.17 -1.03 .81 .13 163 -17)"/><use href="#wa" transform="matrix(.89 -.14 .12 .81 -180 135)"/><use href="#wa" transform="matrix(-.75 -.40 .45 -.83 165 -154)"/><use href="#wb" transform="matrix(-.11 -1.11 1.00 -.10 -20 145)"/><use href="#wb" transform="matrix(.81 -.45 .46 .81 104 -161)"/><use href="#wb" transform="matrix(-.32 1.09 -.91 -.26 35 16)"/><use href="#wa" transform="matrix(.83 .14 -.14 .82 4 -28)"/><use href="#wc" transform="matrix(-.87 .57 -.60 -.93 171 41)"/><use href="#wa" transform="matrix(-.15 .92 -.79 -.13 -32 188)"/><use href="#wb" transform="matrix(.67 .74 -.59 .54 73 169)"/><use href="#wa" transform="matrix(-.90 .42 -.49 -1.04 215 133)"/><use href="#wb" transform="matrix(-.92 -.67 .43 -.58 -133 -52)"/><use href="#wa" transform="matrix(.93 .20 -.23 1.07 242 38)"/><use href="#wb" transform="matrix(-.24 .84 -.74 -.20 -73 205)"/><use href="#wa" transform="matrix(-.96 -.18 .16 -.82 -147 195)"/><use href="#wb" transform="matrix(-.45 -1.05 .74 -.32 -237 -72)"/><use href="#wc" transform="matrix(-.74 -.88 .71 -.60 -103 41)"/><use href="#wb" transform="matrix(-.94 .09 -.08 -.81 -17 9)"/><use href="#wb" transform="matrix(-.86 -.42 .36 -.74 -179 -3)"/><use href="#wa" transform="matrix(-.75 .87 -.74 -.65 188 93)"/><use href="#wb" transform="matrix(.92 .09 -.07 .68 63 -202)"/><use href="#wa" transform="matrix(.26 1.05 -1.03 .25 -233 83)"/><use href="#wa" transform="matrix(-.19 -1.02 1.03 -.19 -31 -212)"/><use href="#wc" transform="matrix(.88 .59 -.55 .83 -131 151)"/><use href="#wb" transform="matrix(.73 .79 -.79 .72 -224 -123)"/><use href="#wb" transform="matrix(-.00 -.84 1.13 -.00 5 175)"/><use href="#wb" transform="matrix(-.80 .71 -.72 -.81 25 -132)"/><use href="#wa" transform="matrix(-1.07 .14 -.14 -1.10 124 162)"/><use href="#wb" transform="matrix(-.69 .50 -.59 -.82 -187 -98)"/><use href="#wb" transform="matrix(-.48 .68 -.62 -.43 -256 -2)"/><use href="#wb" transform="matrix(-.26 .97 -.76 -.21 -112 -116)"/><use href="#wa" transform="matrix(-.45 .96 -.71 -.33 3 216)"/><use href="#wb" transform="matrix(-.88 -.48 .38 -.71 211 -117)"/><use href="#wa" transform="matrix(-.61 .63 -.67 -.65 -156 45)"/><use href="#wb" transform="matrix(-.75 .47 -.38 -.60 -108 186)"/><use href="#wb" transform="matrix(-.71 .50 -.47 -.67 -162 -132)"/><use href="#wa" transform="matrix(-1.15 -.02 .01 -.61 -62 22)"/><use href="#wb" transform="matrix(-1.05 .08 -.06 -.76 110 86)"/><use href="#wb" transform="matrix(-.40 -.72 .89 -.49 -216 19)"/><use href="#wb" transform="matrix(.70 .45 -.36 .56 -58 -71)"/><use href="#wb" transform="matrix(-.88 .11 -.12 -.96 19 -69)"/><use href="#wa" transform="matrix(.79 -.56 .52 .72 -75 -164)"/><use href="#wa" transform="matrix(.18 .96 -.82 .16 147 -68)"/><use href="#wa" transform="matrix(-.50 .75 -.92 -.62 9 -185)"/><use href="#wb" transform="matrix(.24 -.85 .82 .23 38 -239)"/><use href="#wb" transform="matrix(-.94 -.01 .01 -.87 -46 -133)"/><use href="#wc" transform="matrix(-.34 -.90 .72 -.27 176 172)"/><use href="#wb" transform="matrix(.76 -.60 .58 .75 -67 161)"/><use href="#wa" transform="matrix(.21 .96 -1.02 .22 -126 -179)"/><use href="#wb" transform="matrix(.61 .86 -.56 .40 -43 92)"/><use href="#wc" transform="matrix(.63 -.81 .82 .64 67 -67)"/><use href="#wb" transform="matrix(.74 .42 -.32 .55 -116 -225)"/><use href="#wa" transform="matrix(-.82 -.39 .39 -.82 184 -175)"/><use href="#wa" transform="matrix(.60 .87 -.74 .51 -25 -250)"/><use href="#wb" transform="matrix(-.96 -.06 .06 -.86 97 -14)"/><use href="#wb" transform="matrix(-.48 -.74 .55 -.36 83 -107)"/><use href="#wc" transform="matrix(-.50 .65 -.65 -.51 110 206)"/><use href="#wc" transform="matrix(.05 1.07 -.86 .04 240 84)"/><use href="#wa" transform="matrix(.82 .19 -.25 1.06 46 36)"/><use href="#wa" transform="matrix(-.17 -.84 .60 -.12 136 -156)"/><use href="#wa" transform="matrix(.64 -.61 .73 .77 -13 39)"/><use href="#wa" transform="matrix(.71 .71 -.77 .78 -22 249)"/><use href="#wb" transform="matrix(-.98 -.58 .33 -.56 -202 94)"/><use href="#wa" transform="matrix(-.91 -.38 .38 -.93 -117 111)"/><use href="#wb" transform="matrix(-.29 .85 -.68 -.23 110 -74)"/><use href="#wa" transform="matrix(.93 -.43 .44 .96 -114 -3)"/><use href="#wb" transform="matrix(-.77 -.32 .27 -.65 57 -171)"/><use href="#wb" transform="matrix(.44 .68 -.69 .45 166 1)"/><use href="#wa" transform="matrix(-1.06 .36 -.20 -.61 -134 -44)"/><use href="#wc" transform="matrix(-.51 .64 -.90 -.71 -10 -148)"/><use href="#wb" transform="matrix(-.48 .96 -.76 -.38 94 -210)"/><use href="#wb" transform="matrix(-1.03 -.25 .19 -.80 -153 -100)"/><use href="#wb" transform="matrix(.48 .69 -.73 .51 234 12)"/><use href="#wb" transform="matrix(1.06 -.26 .17 .71 220 -66)"/><use href="#wb" transform="matrix(-.82 .52 -.53 -.83 -34 207)"/><use href="#wb" transform="matrix(-.73 .66 -.63 -.70 -87 58)"/><use href="#wb" transform="matrix(.25 -1.11 1.11 .25 200 38)"/><use href="#wb" transform="matrix(.83 .09 -.11 .98 -104 -73)"/><use href="#wc" transform="matrix(-.31 1.00 -.96 -.30 -232 -26)"/><use href="#wa" transform="matrix(-.72 -.75 .80 -.78 -225 -101)"/><use href="#wa" transform="matrix(-.70 .43 -.52 -.83 31 225)"/><use href="#wb" transform="matrix(-.50 -.69 .89 -.64 -2 -35)"/><use href="#wa" transform="matrix(.03 .96 -1.10 .04 107 44)"/><use href="#wb" transform="matrix(-.27 -.86 .97 -.31 -191 -58)"/><use href="#wb" transform="matrix(.03 -1.12 1.11 .03 -69 -114)"/><use href="#wb" transform="matrix(1.06 -.01 .01 .65 184 -127)"/><use href="#wa" transform="matrix(-1.03 .32 -.33 -1.07 48 151)"/><use href="#wb" transform="matrix(.18 .95 -.78 .14 -165 69)"/><use href="#wc" transform="matrix(-1.01 .36 -.32 -.91 92 154)"/><use href="#wb" transform="matrix(-.92 -.33 .31 -.85 51 106)"/><use href="#wc" transform="matrix(1.10 -.02 .01 .62 -38 -192)"/><use href="#wa" transform="matrix(.58 .68 -.66 .55 12 187)"/><use href="#wa" transform="matrix(-.59 -.57 .77 -.80 156 139)"/><use href="#wb" transform="matrix(.63 -.87 .68 .49 -160 179)"/><use href="#wb" transform="matrix(-.95 .55 -.32 -.56 183 75)"/><use href="#wb" transform="matrix(-.48 .90 -.83 -.44 -167 -15)"/><use href="#wb" transform="matrix(-.89 .08 -.08 -.83 17 63)"/><use href="#wa" transform="matrix(.76 -.31 .27 .66 -106 -148)"/><use href="#wb" transform="matrix(-.77 -.73 .74 -.79 52 -97)"/><use href="#wb" transform="matrix(-.48 .99 -.91 -.44 -106 226)"/><use href="#wa" transform="matrix(.06 1.11 -.76 .04 146 198)"/><use href="#wb" transform="matrix(-.88 .59 -.36 -.53 -134 -203)"/><use href="#wa" transform="matrix(.77 .29 -.37 .98 220 120)"/><use href="#wa" transform="matrix(.68 .54 -.67 .85 83 198)"/><use href="#wb" transform="matrix(.82 .72 -.70 .80 196 -34)"/><use href="#wa" transform="matrix(-.95 .11 -.10 -.88 -75 167)"/><use href="#wb" transform="matrix(-.57 .98 -.58 -.34 -145 21)"/><use href="#wb" transform="matrix(-.93 .43 -.43 -.93 48 -212)"/><use href="#wb" transform="matrix(-.52 -.84 .88 -.55 54 -138)"/><use href="#wa" transform="matrix(.93 -.26 .30 1.08 -60 -235)"/><use href="#wc" transform="matrix(-.61 -.96 .74 -.47 -1 105)"/><use href="#wb" transform="matrix(-.52 1.02 -.55 -.28 -119 170)"/><use href="#wa" transform="matrix(1.10 .33 -.31 1.03 -63 -151)"/><use href="#wb" transform="matrix(.11 1.05 -1.05 .11 153 -197)"/><use href="#wa" transform="matrix(-.58 -.85 .72 -.49 134 62)"/><use href="#wb" transform="matrix(-.87 .13 -.12 -.80 -173 -147)"/><use href="#wa" transform="matrix(.89 -.54 .53 .89 139 103)"/><use href="#wb" transform="matrix(-.79 -.26 .30 -.90 51 -27)"/><use href="#wb" transform="matrix(.06 1.12 -.87 .05 -104 92)"/><use href="#wa" transform="matrix(.72 -.88 .60 .49 80 68)"/><use href="#wa" transform="matrix(.82 .04 -.05 1.13 153 -57)"/><use href="#wa" transform="matrix(-1.04 .34 -.23 -.71 -68 -5)"/><use href="#wb" transform="matrix(-.40 .86 -.92 -.43 -36 -80)"/><use href="#wb" transform="matrix(-.70 -.45 .60 -.93 -81 -71)"/><use href="#wc" transform="matrix(-.98 .30 -.33 -1.06 -57 227)"/><use href="#wb" transform="matrix(.25 .80 -.92 .28 -40 145)"/><use href="#wb" transform="matrix(-.45 -.69 .66 -.43 -84 36)"/><use href="#wb" transform="matrix(-.36 -.97 .85 -.32 80 -178)"/><use href="#wb" transform="matrix(-.36 -.79 .98 -.45 -125 -79)"/><use href="#wb" transform="matrix(-.52 -.71 .51 -.37 -228 -86)"/><use href="#wb" transform="matrix(.69 -.69 .62 .63 -53 83)"/><use href="#wb" transform="matrix(-1.09 .30 -.28 -.99 168 32)"/><use href="#wc" transform="matrix(.74 .39 -.51 .97 239 -35)"/><use href="#wa" transform="matrix(.41 -.97 .91 .38 103 -39)"/><use href="#wb" transform="matrix(.13 1.01 -.99 .13 -22 -215)"/><use href="#wb" transform="matrix(.85 -.62 .58 .79 87 -87)"/><use href="#wa" transform="matrix(.91 .36 -.24 .60 -3 -168)"/><use href="#wa" transform="matrix(-.70 .53 -.45 -.60 7 -108)"/><use href="#wa" transform="matrix(.95 -.16 .11 .63 100 -220)"/><use href="#wb" transform="matrix(-.98 -.20 .15 -.75 -189 2)"/><use href="#wb" transform="matrix(-.79 .70 -.44 -.49 148 -99)"/><use href="#wb" transform="matrix(.63 -.83 .69 .53 -211 50)"/><use href="#wb" transform="matrix(1.09 .11 -.09 .89 210 63)"/><use href="#wb" transform="matrix(-.84 .16 -.21 -1.11 0 -11)"/><use href="#wb" transform="matrix(.78 .44 -.43 .77 -2 232)"/><use href="#wa" transform="matrix(-.28 -1.03 1.01 -.28 194 -87)"/><use href="#wb" transform="matrix(-1.02 -.42 .40 -.99 233 21)"/><use href="#wb" transform="matrix(-.58 -.73 .87 -.70 -178 151)"/><use href="#wb" transform="matrix(-.22 -.80 1.05 -.29 95 30)"/><use href="#wa" transform="matrix(-.04 .90 -.98 -.04 45 24)"/><use href="#wb" transform="matrix(-.48 .70 -.76 -.51 136 179)"/><use href="#wa" transform="matrix(-.92 .06 -.04 -.62 -20 61)"/><use href="#wc" transform="matrix(.49 .75 -.64 .42 68 165)"/><use href="#wa" transform="matrix(-.52 .98 -.64 -.34 -225 -40)"/><use href="#wa" transform="matrix(-.04 -.91 1.12 -.05 123 133)"/><use href="#wc" transform="matrix(.31 -.91 .59 .20 -134 74)"/><use href="#wc" transform="matrix(-.82 .42 -.51 -1.01 -167 108)"/><use href="#wb" transform="matrix(.69 -.60 .59 .68 38 133)"/><use href="#wb" transform="matrix(-.36 -1.04 1.01 -.35 -25 192)"/><use href="#wb" transform="matrix(-.11 -.88 .71 -.09 97 203)"/><use href="#wb" transform="matrix(-.68 -.62 .43 -.48 -129 191)"/><use href="#wa" transform="matrix(.97 .57 -.55 .94 -32 -39)"/><use href="#wa" transform="matrix(.60 -.74 .54 .44 -167 -99)"/><use href="#wb" transform="matrix(-.59 .59 -.49 -.49 -103 -130)"/><use href="#wb" transform="matrix(.14 -.87 1.04 .17 -82 -21)"/><use href="#wc" transform="matrix(.83 -.37 .27 .60 -120 150)"/><use href="#wb" transform="matrix(.93 .10 -.11 .97 30 179)"/><use href="#wa" transform="matrix(.61 .64 -.71 .67 -73 -218)"/><use href="#wa" transform="matrix(-.28 .88 -.77 -.25 175 -154)"/><use href="#wb" transform="matrix(-.16 .84 -.96 -.19 -1 101)"/><use href="#wb" transform="matrix(-.54 -.96 .77 -.44 173 -7)"/><use href="#wa" transform="matrix(.51 -.65 .59 .46 -58 149)"/><use href="#wa" transform="matrix(-.13 1.03 -.81 -.11 -140 -23)"/><use href="#wa" transform="matrix(.25 -.91 1.11 .30 15 -138)"/><use href="#wa" transform="matrix(-.53 -.96 .74 -.41 106 -121)"/><use href="#wb" transform="matrix(.41 .73 -.68 .38 -1 -193)"/><use href="#wa" transform="matrix(.95 -.03 .02 .87 131 61)"/><use href="#wa" transform="matrix(-.61 -.84 .63 -.45 -37 -138)"/><use href="#wa" transform="matrix(.50 .95 -.87 .46 -148 -157)"/><use href="#wa" transform="matrix(-.78 -.40 .50 -.99 77 3)"/><use href="#wa" transform="matrix(-.41 .96 -.85 -.36 -183 48)"/><use href="#wa" transform="matrix(.81 .07 -.07 .85 7 29)"/><use href="#wa" transform="matrix(-.07 -1.13 .72 -.05 191 108)"/><use href="#wc" transform="matrix(.74 .72 -.65 .66 64 -112)"/><use href="#wa" transform="matrix(-.50 -.80 .70 -.44 -116 -190)"/><use href="#wa" transform="matrix(.26 -.96 1.09 .30 -101 109)"/><use href="#wa" transform="matrix(-.69 .89 -.56 -.44 109 -188)"/><use href="#wa" transform="matrix(-1.07 -.22 .13 -.64 44 58)"/><use href="#wa" transform="matrix(.61 .66 -.59 .54 9 -89)"/><use href="#wa" transform="matrix(.95 .57 -.31 .52 -66 -179)"/><use href="#wc" transform="matrix(-.59 .72 -.71 -.58 110 -43)"/><use href="#wa" transform="matrix(.81 .28 -.33 .94 -201 -11)"/><use href="#wa" transform="matrix(.90 -.32 .37 1.04 -112 -62)"/><use href="#wc" transform="matrix(-.80 -.67 .68 -.81 150 -116)"/><use href="#wb" transform="matrix(.82 .08 -.09 1.01 63 -152)"/><use href="#wa" transform="matrix(-.90 .08 -.10 -1.03 -98 28)"/><use href="#wa" transform="matrix(.90 -.06 .07 1.06 198 24)"/><use href="#wa" transform="matrix(.69 .74 -.45 .42 0 147)"/><use href="#wa" transform="matrix(.62 .61 -.50 .51 -22 220)"/><use href="#wa" transform="matrix(.86 .59 -.58 .86 74 154)"/><use href="#wa" transform="matrix(-.74 .86 -.51 -.44 214 -41)"/><use href="#wa" transform="matrix(.02 -.89 .62 .01 -51 108)"/><use href="#wa" transform="matrix(-.94 .50 -.38 -.71 169 59)"/><use href="#wa" transform="matrix(1.00 .38 -.32 .86 -95 195)"/><use href="#wa" transform="matrix(-.81 -.30 .37 -1.00 2 -36)"/><use href="#wa" transform="matrix(-1.00 -.57 .53 -.93 -99 146)"/><use href="#wa" transform="matrix(-.57 .84 -.80 -.55 -72 -99)"/><use href="#wa" transform="matrix(-.07 -.94 1.00 -.08 54 100)"/><use href="#wa" transform="matrix(-.36 .99 -.83 -.30 116 163)"/><use href="#wa" transform="matrix(-.97 .11 -.13 -1.14 -54 25)"/><use href="#wc" transform="matrix(-.01 1.03 -1.06 -.01 -96 -150)"/><use href="#wa" transform="matrix(-1.03 .34 -.30 -.90 88 -93)"/><use href="#wa" transform="matrix(-.11 .85 -.94 -.12 174 -15)"/><use href="#wa" transform="matrix(-.52 .91 -.52 -.30 22 -189)"/><use href="#wa" transform="matrix(.89 .29 -.25 .75 54 -40)"/><use href="#wc" transform="matrix(.23 -1.11 .69 .14 -133 -2)"/><use href="#wb" transform="matrix(-.85 .67 -.69 -.88 116 84)"/><use href="#wa" transform="matrix(.59 -.74 .66 .52 179 -99)"/><use href="#wa" transform="matrix(.70 .84 -.80 .67 6 -138)"/><use href="#wa" transform="matrix(-.27 -.82 1.09 -.35 -115 -108)"/><use href="#wc" transform="matrix(1.14 .00 -.00 .66 101 -166)"/><use href="#wa" transform="matrix(1.13 .04 -.03 .77 -64 -33)"/><use href="#wc" transform="matrix(.67 -.48 .56 .78 -57 184)"/><use href="#wa" transform="matrix(-.26 -1.06 .68 -.17 -175 -60)"/><use href="#wa" transform="matrix(.10 .80 -.82 .10 111 8)"/><use href="#wc" transform="matrix(.80 -.43 .44 .81 137 -47)"/><use href="#wa" transform="matrix(.27 -.94 .60 .17 31 57)"/><use href="#wa" transform="matrix(-1.11 .16 -.16 -1.08 122 124)"/><use href="#wa" transform="matrix(-.01 1.12 -.75 -.00 -26 51)"/><use href="#wa" transform="matrix(.38 .76 -.72 .35 -133 111)"/><use href="#wa" transform="matrix(.87 .06 -.05 .65 35 168)"/><use href="#wb" transform="matrix(-.82 .12 -.14 -.98 77 133)"/><use href="#wb" transform="matrix(.49 .64 -.66 .51 -70 -161)"/><use href="#wa" transform="matrix(.14 -.98 .90 .13 -29 104)"/><use href="#wa" transform="matrix(-.45 .81 -.55 -.30 -13 -4)"/><use href="#wa" transform="matrix(-.17 -1.06 .95 -.15 139 50)"/><use href="#wa" transform="matrix(-.72 .60 -.42 -.51 -104 -13)"/><use href="#wa" transform="matrix(.67 .80 -.66 .55 -70 71)"/><use href="#wa" transform="matrix(.39 .79 -.78 .38 68 -161)"/><use href="#wc" transform="matrix(-.69 .50 -.38 -.52 -101 36)"/><use href="#wa" transform="matrix(-1.03 .27 -.19 -.71 88 -109)"/><use href="#wa" transform="matrix(.79 -.14 .15 .87 -172 -7)"/><use href="#wa" transform="matrix(1.01 .37 -.30 .81 -75 122)"/><use href="#wa" transform="matrix(-.07 -1.11 .89 -.06 -157 68)"/><use href="#wa" transform="matrix(.76 .71 -.71 .77 -24 -132)"/><use href="#wa" transform="matrix(.86 -.65 .51 .67 15 -83)"/><use href="#wa" transform="matrix(-.65 .81 -.67 -.54 92 -51)"/><use href="#wa" transform="matrix(.84 .65 -.57 .74 143 -86)"/><use href="#wa" transform="matrix(.51 .68 -.65 .49 -27 166)"/><use href="#wa" transform="matrix(.81 .58 -.61 .85 -93 -115)"/><use href="#wa" transform="matrix(-.84 -.08 .08 -.77 3 64)"/><use href="#wa" transform="matrix(-.90 -.01 .01 -.85 46 13)"/><use href="#wb" transform="matrix(.17 -1.00 1.00 .17 28 -138)"/><use href="#wa" transform="matrix(.54 -.60 .60 .55 -65 -28)"/><use href="#wa" transform="matrix(-.83 -.58 .56 -.79 44 -44)"/><use href="#wa" transform="matrix(.71 -.53 .39 .52 8 111)"/><use href="#wa" transform="matrix(.34 .85 -1.06 .42 -37 11)"/><use href="#wa" transform="matrix(-.50 -1.00 1.02 -.51 103 5)"/><use href="#wc" transform="matrix(-1.05 .17 -.14 -.91 -53 -92)"/><use href="#wa" transform="matrix(-1.05 -.09 .09 -1.04 92 95)"/><use href="#wa" transform="matrix(.34 .78 -.92 .40 -50 106)"/><use href="#wa" transform="matrix(-.24 .92 -.77 -.20 -132 14)"/><use href="#wa" transform="matrix(-.25 1.10 -.66 -.15 -110 -45)"/><use href="#wa" transform="matrix(.78 .63 -.49 .62 47 -87)"/><use href="#wa" transform="matrix(.21 -.79 .60 .16 -17 -27)"/><use href="#wa" transform="matrix(-.73 .59 -.40 -.50 -27 61)"/><use href="#wa" transform="matrix(-.79 -.54 .62 -.90 2 8)"/><use href="#wa" transform="matrix(-.34 -.93 1.00 -.37 19 70)"/></g>
<linearGradient id="tanfill" x1="0" y1="0" x2="1" y2="0"><stop offset="0" stop-color="#b3ad92"/><stop offset=".45" stop-color="#8d8258"/><stop offset="1" stop-color="#4f411c"/></linearGradient>
<marker id="emk" markerWidth="14" markerHeight="14" refX="7" refY="7" markerUnits="userSpaceOnUse"><circle cx="7" cy="7" r="5.7" fill="#fff" stroke="#f00" stroke-width="1.5"/></marker>
<polyline id="ecurve" points="309,815 311.4,812.3 313.9,809.7 316.5,807.2 319.2,804.8 322,802.6 324.9,800.4 327.8,798.4 330.9,796.5 334,794.7 337.2,793 340.4,791.4 343.7,789.9 347,788.6 350.4,787.4 353.8,786.2 357.3,785.2 360.8,784.3 364.3,783.5 367.8,782.8 371.3,782.2 374.9,781.7 378.5,781.3 382.1,781.1 385.7,781 389.3,781 392.9,781.1 396.5,781.4 400.1,781.8 403.6,782.3 407.2,782.9 410.7,783.6 414.2,784.4 417.7,785.3 421.2,786.2 424.6,787.3 428.1,788.4 431.5,789.5 434.9,790.7 438.2,791.9 441.6,793.2 444.9,794.6 448.2,796 451.5,797.4 454.8,798.9 458.1,800.5 461.3,802.1 464.5,803.7 467.7,805.4 470.9,807.1 474,808.8 477.1,810.6 480.2,812.5 483.3,814.3 486.3,816.3 489.4,818.2 492.4,820.2 495.3,822.2 498.3,824.3 501.2,826.4 504.1,828.5 507,830.7 509.9,832.9 512.7,835.1 515.5,837.3 518.3,839.6 521.1,841.8 523.9,844.1 526.7,846.5 529.4,848.8 532.1,851.1 534.8,853.5 537.5,855.9 540.2,858.3 542.9,860.6 545.6,863 548.3,865.4 551,867.9 553.6,870.3 556.3,872.7 559,875.1 561.7,877.5 564.3,879.9 567,882.3 569.7,884.7 572.4,887.1 575.1,889.5 577.8,891.9 580.5,894.3 583.2,896.6 585.9,899 588.7,901.3 591.4,903.6 594.2,905.9 596.9,908.2 599.7,910.5 602.5,912.8 605.3,915.1 608.1,917.3 611,919.5 613.8,921.8 616.7,923.9 619.5,926.1 622.4,928.3 625.3,930.4 628.2,932.5 631.2,934.6 634.1,936.7 637.1,938.7 640,940.8 643,942.8 646,944.7 649.1,946.7 652.1,948.6 655.2,950.5 658.3,952.4 661.4,954.2 664.5,956 667.6,957.7 670.8,959.5 674,961.2 677.2,962.8 680.4,964.4 683.6,966 686.9,967.5 690.2,969 693.5,970.4 696.8,971.7 700.2,973.1 703.5,974.3 706.9,975.5 710.3,976.7 713.8,977.8 717.2,978.8 720.7,979.8 724.2,980.7 727.6,981.6 731.2,982.4 734.7,983.2 738.2,983.8 741.8,984.5 745.3,985 748.9,985.5 752.4,986 756,986.4 759.6,986.7 763.2,986.9 766.8,987.1 770.4,987.2 774,987.2 777.6,987.2 781.2,987.1 784.8,987 788.4,986.8 792,986.5 795.6,986.2 799.1,985.8 802.7,985.3 806.3,984.8 809.8,984.3 813.4,983.7 816.9,983 820.4,982.3 824,981.5 827.5,980.6 830.9,979.8 834.4,978.8 837.9,977.8 841.3,976.8 844.8,975.7 848.2,974.6 851.6,973.4 855,972.2 858.4,971 861.7,969.7 865.1,968.4 868.4,967.1 871.8,965.7 875.1,964.3 878.4,962.9 881.7,961.4 885,960 888.3,958.5 891.5,957 894.8,955.5 898,953.9 901.3,952.4 904.5,950.8 907.8,949.3 911,947.7 914.2,946.1 917.5,944.5 920.7,942.8 923.9,941.2 927.1,939.5 930.3,937.9 933.4,936.2 936.6,934.5 939.8,932.7 942.9,931 946.1,929.2 949.2,927.5 952.3,925.7 955.4,923.9 958.5,922 961.6,920.2 964.7,918.4 967.9,916.6 971,914.8 974.1,913.1 977.3,911.3 980.5,909.7 983.7,908 986.9,906.4 990.2,904.9 993.5,903.5 996.8,902.1 1000.1,900.8 1003.5,899.5 1006.9,898.3 1010.3,897.2 1013.8,896.1 1017.2,895.1 1020.7,894.1 1024.2,893.2 1027.7,892.3 1031.2,891.5 1034.7,890.8 1038.2,890.1 1041.8,889.4 1045.3,888.8 1048.9,888.2 1052.4,887.6 1056,887.1 1059.5,886.7 1063.1,886.2 1066.7,885.8 1070.3,885.4 1073.9,885.1 1077.4,884.7 1081,884.4 1084.6,884.1 1088.2,883.9 1091.8,883.6 1095.4,883.4 1099,883.2 1102.6,883 1106.2,882.7 1109.8,882.5 1113.4,882.3 1117,882.1 1120.5,882 1124.1,881.7 1127.7,881.5 1131.3,881.3 1134.9,881.1 1138.5,880.9 1142.1,880.6 1145.7,880.3 1149.3,880.1 1152.9,879.8 1156.5,879.4 1160,879.1 1163.6,878.7 1167.2,878.3 1170.8,877.9 1174.4,877.5 1177.9,877.1 1181.5,876.6 1185.1,876.2 1188.6,875.7 1192.2,875.2 1195.8,874.7 1199.3,874.2 1202.9,873.6 1206.4,873.1 1210,872.6 1213.6,872 1217.1,871.4 1220.7,870.9 1224.2,870.3 1227.8,869.7 1231.3,869.1 1234.9,868.5 1238.4,867.9 1242,867.3 1245.5,866.8 1249.1,866.2 1252.6,865.6 1256.2,865 1259.7,864.4 1263.3,863.8 1266.8,863.2 1270.4,862.6 1273.9,862 1277.5,861.4 1281,860.8 1284.6,860.2 1288.2,859.7 1291.7,859.1 1295.3,858.5 1298.8,858 1302.4,857.5 1305.9,856.9 1309.5,856.4 1313.1,855.9 1316.6,855.4 1320.2,854.9 1323.8,854.4 1327.3,853.9 1330.9,853.4 1334.5,853 1338,852.5 1341.6,852.1 1345.2,851.7 1348.8,851.3 1352.3,850.9 1355.9,850.5 1359.5,850.1 1363.1,849.8 1366.7,849.5 1370.3,849.1 1373.8,848.8 1377.4,848.5 1381,848.2 1384.6,848 1388.2,847.7 1391.8,847.5 1395.4,847.3 1399,847 1402.6,846.9 1406.2,846.7 1409.8,846.5 1413.4,846.4 1417,846.2 1420.6,846.1 1424.2,846 1427.8,845.9 1431.4,845.9 1435,845.8 1438.6,845.8 1442.2,845.8 1445.8,845.8 1449.4,845.8 1453,845.8 1456.6,845.9 1460.2,846 1463.8,846.1 1467.4,846.2 1471,846.3 1474.5,846.5 1478.1,846.7 1481.7,846.9 1485.3,847.1 1488.9,847.3 1492.5,847.6 1496.1,847.9 1499.7,848.2 1503.3,848.5 1506.9,848.8 1510.4,849.2 1514,849.6 1517.6,850 1521.2,850.5 1524.7,851 1528.3,851.5 1531.9,852 1535.4,852.5 1539,853.1 1542.5,853.7 1546.1,854.3 1549.6,854.9 1553.2,855.5 1556.7,856.2 1560.2,856.9 1563.8,857.5 1567.3,858.2 1570.8,858.9 1574.4,859.6 1577.9,860.4 1581.4,861.1 1584.9,861.8 1588.5,862.6 1592,863.3 1595.5,864.1 1599,864.8 1602.6,865.5 1606.1,866.3 1609.6,867 1613.1,867.8 1616.7,868.5 1620.2,869.2 1623.7,870 1627.2,870.7 1630.8,871.4 1634.3,872.1 1637.8,872.8 1641.4,873.4 1644.9,874.1 1648.4,874.7 1652,875.4 1655.5,876 1659.1,876.6 1662.6,877.2 1666.2,877.7 1669.8,878.3 1673.3,878.8 1676.9,879.3 1680.5,879.7 1684,880.2 1687.6,880.6 1691.2,881 1694.8,881.4 1698.3,881.7 1701.9,882 1705.5,882.4 1709.1,882.7 1712.7,882.9 1716.3,883.2 1719.9,883.5 1723.5,883.7 1727.1,884 1730.6,884.2 1734.2,884.4 1737.8,884.6 1741.4,884.8 1745,885.1 1748.6,885.3 1752.2,885.5 1755.8,885.7 1759.4,886 1763,886.2 1766.6,886.4 1770.2,886.7 1773.8,886.9 1777.3,887.2 1780.9,887.5 1784.5,887.8 1788.1,888.1 1791.7,888.4 1795.3,888.7 1798.9,889 1802.5,889.3 1806,889.6 1809.6,889.9 1813.2,890.3 1816.8,890.6 1820.4,891 1824,891.4 1827.5,891.7 1831.1,892.1 1834.7,892.5 1838.3,892.9 1841.9,893.3 1845.4,893.7 1849,894.2 1852.6,894.6 1856.2,895 1859.7,895.5 1863.3,896 1866.9,896.4 1870.4,896.9 1874,897.4 1877.6,897.9 1881.1,898.4 1884.7,898.9 1888.3,899.4 1891.8,899.9 1895.4,900.4 1898.9,901 1902.5,901.5 1906.1,902.1 1909.6,902.6 1913.2,903.2 1916.7,903.8 1920.3,904.4 1923.8,905 1927.4,905.6 1930.9,906.2 1934.5,906.8 1938,907.4 1941.6,908 1945.1,908.7 1948.6,909.3 1952.2,910 1955.7,910.6 1959.3,911.3 1962.8,912 1966.3,912.7 1969.9,913.4 1973.4,914.1 1976.9,914.9 1980.4,915.6 1983.9,916.4 1987.5,917.1 1991,917.9 1994.5,918.7 1998,919.6 2001.5,920.4 2005,921.2 2008.5,922.1 2012,923 2015.5,923.9 2018.9,924.8 2022.4,925.7 2025.9,926.7 2029.4,927.6 2032.8,928.6 2036.3,929.7 2039.7,930.7 2043.1,931.8 2046.5,933 2049.9,934.2 2053.3,935.4 2056.7,936.7 2060,938 2063.4,939.4 2066.7,940.8 2069.9,942.3 2073.2,943.9 2076.4,945.4 2079.6,947.1 2082.8,948.8 2085.9,950.5 2089.1,952.3 2092.1,954.2 2095.2,956.1 2098.2,958.1 2101.2,960.1 2104.1,962.2 2107.1,964.3 2110,966.4 2112.8,968.6 2115.7,970.8 2118.5,973 2121.4,975.2 2124.2,977.4 2127,979.7 2129.8,981.9 2132.6,984.2 2135.4,986.4 2138.3,988.6 2141.1,990.9 2144,993.1 2146.8,995.3 2149.7,997.4 2152.6,999.6 2155.4,1001.8 2158.3,1003.9 2161.2,1006.1 2164.1,1008.2 2167,1010.3 2169.9,1012.5 2172.8,1014.6 2175.7,1016.8 2178.6,1018.9 2181.4,1021.1 2184.3,1023.3 2187.2,1025.4 2190,1027.6 2192.9,1029.8 2195.7,1032 2198.6,1034.2 2201.4,1036.4 2204.3,1038.6 2207.1,1040.8 2209.9,1043.1 2212.8,1045.3 2215.6,1047.5 2218.4,1049.8 2221.2,1052 2224.1,1054.2 2226.9,1056.5 2229.7,1058.7 2232.5,1061 2235.3,1063.2 2238.2,1065.4 2241,1067.6 2243.9,1069.8 2246.8,1071.9 2249.7,1074 2252.6,1076.1 2255.6,1078.1 2258.6,1080.1 2261.6,1082.1 2264.7,1084 2267.8,1085.8 2271,1087.5 2274.2,1089.2 2277.4,1090.8 2280.6,1092.4 2283.9,1093.8 2287.2,1095.2 2290.6,1096.6 2293.9,1097.9 2297.3,1099.1 2300.7,1100.2 2304.2,1101.3 2307.6,1102.4 2311.1,1103.3 2314.6,1104.1 2318.1,1104.9 2321.6,1105.5 2325.2,1106 2328.8,1106.4 2332.4,1106.6 2336,1106.7 2339.6,1106.7 2343.2,1106.6 2346.8,1106.3 2350.3,1106 2353.9,1105.5 2357.5,1104.9 2361,1104.2 2364.5,1103.4 2368,1102.5 2371.4,1101.5 2374.9,1100.4" fill="none" stroke="none"/>
<clipPath id="zbc"><rect x="289" y="822.5" width="700" height="151"/></clipPath>
<marker id="zbm" markerWidth="14" markerHeight="14" refX="7" refY="7" markerUnits="userSpaceOnUse"><circle cx="7" cy="7" r="5.7" fill="#b9e2fc" stroke="#c48ca6" stroke-width="1.3"/></marker>
<clipPath id="zgc"><rect x="991" y="859" width="1024" height="37.5"/></clipPath>
<marker id="zgm" markerWidth="14" markerHeight="14" refX="7" refY="7" markerUnits="userSpaceOnUse"><circle cx="7" cy="7" r="5.7" fill="#b6f5a8" stroke="#a2b66c" stroke-width="1.3"/></marker>
<clipPath id="ztc"><rect x="2021" y="956" width="355.5" height="131.5"/></clipPath>
<marker id="ztm" markerWidth="14" markerHeight="14" refX="7" refY="7" markerUnits="userSpaceOnUse"><circle cx="7" cy="7" r="5.7" fill="#fff3ae" stroke="#eaa862" stroke-width="1.3"/></marker>
<clipPath id="wallclip"><path d="M161,1978L401,1996V2245L161,2291Z"/></clipPath>
<radialGradient id="wallring" cx="50%" cy="50%" r="50%"><stop offset="0" stop-color="#f2ae26"/><stop offset=".55" stop-color="#ea981f"/><stop offset=".8" stop-color="#dc801c"/><stop offset=".9" stop-color="#b84c18"/><stop offset=".955" stop-color="#d87a20"/><stop offset="1" stop-color="#fbc722"/></radialGradient>
<clipPath id="disctop"><ellipse cx="438" cy="2271" rx="161" ry="49"/></clipPath>
<clipPath id="topclip"><ellipse cx="440" cy="1936" rx="168" ry="46.5" transform="rotate(-1.5 440 1936)"/></clipPath>
<linearGradient id="jet" x1="0" y1="0" x2="0" y2="1"><stop offset="0" stop-color="#fa1410"/><stop offset=".14" stop-color="#ff5a10"/><stop offset=".27" stop-color="#ffb414"/><stop offset=".36" stop-color="#f4f020"/><stop offset=".5" stop-color="#38d828"/><stop offset=".6" stop-color="#20e070"/><stop offset=".72" stop-color="#18e8f0"/><stop offset=".85" stop-color="#1890ff"/><stop offset="1" stop-color="#2020f0"/></linearGradient>
<marker id="spk" markerWidth="18" markerHeight="18" refX="9" refY="9" markerUnits="userSpaceOnUse"><circle cx="9" cy="9" r="6.6" fill="#fff" stroke="#e9187d" stroke-width="2.8"/></marker>
<marker id="sgd" markerWidth="18" markerHeight="18" refX="9" refY="9" markerUnits="userSpaceOnUse"><circle cx="9" cy="9" r="6.6" fill="#fff" stroke="#e3b341" stroke-width="2.8"/></marker>
<marker id="sgr" markerWidth="18" markerHeight="18" refX="9" refY="9" markerUnits="userSpaceOnUse"><circle cx="9" cy="9" r="6.6" fill="#fff" stroke="#1fc41f" stroke-width="2.8"/></marker>
<marker id="sbl" markerWidth="18" markerHeight="18" refX="9" refY="9" markerUnits="userSpaceOnUse"><circle cx="9" cy="9" r="6.6" fill="#fff" stroke="#1d9fe9" stroke-width="2.8"/></marker>
<marker id="spu" markerWidth="18" markerHeight="18" refX="9" refY="9" markerUnits="userSpaceOnUse"><circle cx="9" cy="9" r="6.6" fill="#fff" stroke="#a01fc4" stroke-width="2.8"/></marker>
<marker id="nrc" markerWidth="20" markerHeight="20" refX="10" refY="10" markerUnits="userSpaceOnUse"><circle cx="10" cy="10" r="6.6" fill="#fff" stroke="#ee1111" stroke-width="2.8"/></marker>
<marker id="ndi" markerWidth="26" markerHeight="26" refX="13" refY="13" markerUnits="userSpaceOnUse"><path d="M13,2.5L23.5,13L13,23.5L2.5,13Z" fill="#fff" stroke="#e04b4b" stroke-width="2.6"/></marker>
<radialGradient id="vir0" cx="50%" cy="50%" r="50%"><stop offset="0" stop-color="#fde725"/><stop offset="0.2" stop-color="#f4e61e"/><stop offset="0.39" stop-color="#cde11d"/><stop offset="0.53" stop-color="#8ed645"/><stop offset="0.65" stop-color="#4ac16d"/><stop offset="0.75" stop-color="#1fa187"/><stop offset="0.83" stop-color="#277f8e"/><stop offset="0.9" stop-color="#365c8d"/><stop offset="0.955" stop-color="#46327e"/><stop offset="1" stop-color="#440154"/></radialGradient>
<radialGradient id="vir1" cx="50%" cy="50%" r="50%"><stop offset="0" stop-color="#addc30"/><stop offset="0.18" stop-color="#9fda3a"/><stop offset="0.4" stop-color="#69cd5b"/><stop offset="0.56" stop-color="#38b977"/><stop offset="0.71" stop-color="#1f9e89"/><stop offset="0.82" stop-color="#287d8e"/><stop offset="0.91" stop-color="#355f8d"/><stop offset="1" stop-color="#423f85"/></radialGradient>
<radialGradient id="vir2" cx="50%" cy="50%" r="50%"><stop offset="0" stop-color="#54c568"/><stop offset="0.2" stop-color="#45bf70"/><stop offset="0.42" stop-color="#2bb07f"/><stop offset="0.62" stop-color="#1f968b"/><stop offset="0.8" stop-color="#297a8e"/><stop offset="0.92" stop-color="#33638d"/><stop offset="1" stop-color="#3b528b"/></radialGradient>
<radialGradient id="vir3" cx="50%" cy="50%" r="50%"><stop offset="0" stop-color="#27ad81"/><stop offset="0.35" stop-color="#23a585"/><stop offset="0.6" stop-color="#1f988b"/><stop offset="0.8" stop-color="#25878e"/><stop offset="1" stop-color="#2e738e"/></radialGradient>
<linearGradient id="virbar" x1="0" y1="0" x2="0" y2="1"><stop offset="0" stop-color="#440154"/><stop offset=".13" stop-color="#482475"/><stop offset=".25" stop-color="#414487"/><stop offset=".38" stop-color="#355f8d"/><stop offset=".5" stop-color="#2a788e"/><stop offset=".62" stop-color="#21918c"/><stop offset=".72" stop-color="#22a884"/><stop offset=".82" stop-color="#44bf70"/><stop offset=".88" stop-color="#90d743"/><stop offset=".94" stop-color="#d2e21b"/><stop offset="1" stop-color="#fde725"/></linearGradient>
</defs>
<rect width="2535" height="3195" fill="#000"/>
<ellipse cx="440" cy="385" rx="276" ry="271" fill="url(#dropbg)"/>
<use href="#cl1" transform="translate(440 385) rotate(0) scale(1 1)"/>
<g transform="translate(432.5 387.5)"><circle r="56" fill="#17324d" fill-opacity="0.93"/><use href="#wu" transform="translate(20 25) rotate(277) scale(.8 .7)"/><use href="#wu" transform="translate(-11 -37) rotate(156) scale(.8 .7)"/><use href="#wu" transform="translate(10 -32) rotate(29) scale(.8 .7)"/><use href="#wu" transform="translate(-22 6) rotate(336) scale(.8 .7)"/><use href="#wu" transform="translate(28 -10) rotate(111) scale(.8 .7)"/><use href="#wu" transform="translate(3 -26) rotate(64) scale(.8 .7)"/><use href="#wu" transform="translate(11 27) rotate(225) scale(.8 .7)"/><use href="#wu" transform="translate(26 -6) rotate(344) scale(.8 .7)"/><use href="#wu" transform="translate(-39 -14) rotate(294) scale(.8 .7)"/><circle cx="14.2" cy="4.9" r="13" fill="#d9435a"/><circle cx="10.7" cy="1.4" r="5" fill="#fff" fill-opacity=".18"/><circle cx="-11.4" cy="9.8" r="13" fill="#d9435a"/><circle cx="-14.9" cy="6.3" r="5" fill="#fff" fill-opacity=".18"/><circle cx="-2.8" cy="-14.7" r="13" fill="#d9435a"/><circle cx="-6.3" cy="-18.2" r="5" fill="#fff" fill-opacity=".18"/><circle r="9.5" fill="#2b3fe0"/><circle r="58" fill="none" stroke="#000" stroke-width="5" stroke-dasharray="22 9"/></g>
<ellipse cx="1001.5" cy="379.5" rx="276" ry="271" fill="url(#dropbg)"/>
<use href="#cl1" transform="translate(1001.5 379.5) rotate(0) scale(1 1)"/>
<g transform="translate(982.5 387.5)"><circle r="56" fill="#17324d" fill-opacity="0.93"/><use href="#wu" transform="translate(-23 -13) rotate(347) scale(.8 .7)"/><use href="#wu" transform="translate(29 -15) rotate(239) scale(.8 .7)"/><use href="#wu" transform="translate(6 26) rotate(104) scale(.8 .7)"/><use href="#wu" transform="translate(-9 -25) rotate(350) scale(.8 .7)"/><use href="#wu" transform="translate(24 11) rotate(32) scale(.8 .7)"/><use href="#wu" transform="translate(4 -30) rotate(170) scale(.8 .7)"/><use href="#wu" transform="translate(-17 32) rotate(145) scale(.8 .7)"/><use href="#wu" transform="translate(8 30) rotate(110) scale(.8 .7)"/><use href="#wu" transform="translate(31 26) rotate(245) scale(.8 .7)"/><circle cx="2.7" cy="14.8" r="13" fill="#d9435a"/><circle cx="-0.8" cy="11.3" r="5" fill="#fff" fill-opacity=".18"/><circle cx="-14.1" cy="-5.1" r="13" fill="#d9435a"/><circle cx="-17.6" cy="-8.6" r="5" fill="#fff" fill-opacity=".18"/><circle cx="11.5" cy="-9.7" r="13" fill="#d9435a"/><circle cx="8.0" cy="-13.2" r="5" fill="#fff" fill-opacity=".18"/><circle r="9.5" fill="#2b3fe0"/><circle r="58" fill="none" stroke="#000" stroke-width="5" stroke-dasharray="22 9"/></g>
<ellipse cx="1561.5" cy="379.5" rx="276" ry="271" fill="url(#dropbg)"/>
<use href="#cl2" transform="translate(1561.5 379.5) rotate(0) scale(1 1)"/>
<g transform="translate(1484 405)"><circle r="56" fill="#17324d" fill-opacity="0.93"/><use href="#wu" transform="translate(21 29) rotate(61) scale(.8 .7)"/><use href="#wu" transform="translate(-8 -34) rotate(138) scale(.8 .7)"/><use href="#wu" transform="translate(-25 -23) rotate(16) scale(.8 .7)"/><use href="#wu" transform="translate(-35 -7) rotate(187) scale(.8 .7)"/><use href="#wu" transform="translate(28 -26) rotate(136) scale(.8 .7)"/><use href="#wu" transform="translate(4 25) rotate(292) scale(.8 .7)"/><use href="#wu" transform="translate(-13 -33) rotate(159) scale(.8 .7)"/><use href="#wu" transform="translate(-27 -0) rotate(191) scale(.8 .7)"/><use href="#wu" transform="translate(22 28) rotate(227) scale(.8 .7)"/><circle cx="2.5" cy="14.8" r="13" fill="#d9435a"/><circle cx="-1.0" cy="11.3" r="5" fill="#fff" fill-opacity=".18"/><circle cx="-14.1" cy="-5.2" r="13" fill="#d9435a"/><circle cx="-17.6" cy="-8.7" r="5" fill="#fff" fill-opacity=".18"/><circle cx="11.6" cy="-9.6" r="13" fill="#d9435a"/><circle cx="8.1" cy="-13.1" r="5" fill="#fff" fill-opacity=".18"/><circle r="9.5" fill="#2b3fe0"/><circle r="58" fill="none" stroke="#000" stroke-width="5" stroke-dasharray="22 9"/></g>
<ellipse cx="2123" cy="379.5" rx="276" ry="271" fill="url(#dropbg)"/>
<use href="#cl3" transform="translate(2123 379.5) rotate(0) scale(1 1)"/>
<g transform="translate(1992.5 425)"><circle r="56" fill="#2f6a3c" fill-opacity="0.93"/><use href="#wg" transform="translate(32 -4) rotate(259) scale(.8 .7)"/><use href="#wg" transform="translate(-3 -27) rotate(28) scale(.8 .7)"/><use href="#wg" transform="translate(-20 -15) rotate(138) scale(.8 .7)"/><use href="#wg" transform="translate(32 -26) rotate(43) scale(.8 .7)"/><use href="#wg" transform="translate(23 13) rotate(298) scale(.8 .7)"/><use href="#wg" transform="translate(27 4) rotate(39) scale(.8 .7)"/><use href="#wg" transform="translate(23 24) rotate(66) scale(.8 .7)"/><use href="#wg" transform="translate(-32 21) rotate(260) scale(.8 .7)"/><use href="#wg" transform="translate(-34 20) rotate(206) scale(.8 .7)"/><circle cx="-2.4" cy="14.8" r="13" fill="#e0603c"/><circle cx="-5.9" cy="11.3" r="5" fill="#fff" fill-opacity=".18"/><circle cx="-11.6" cy="-9.5" r="13" fill="#e0603c"/><circle cx="-15.1" cy="-13.0" r="5" fill="#fff" fill-opacity=".18"/><circle cx="14.0" cy="-5.3" r="13" fill="#e0603c"/><circle cx="10.5" cy="-8.8" r="5" fill="#fff" fill-opacity=".18"/><circle r="9.5" fill="#3f6fe0"/><circle r="58" fill="none" stroke="#000" stroke-width="5" stroke-dasharray="22 9"/></g>
<ellipse cx="430" cy="1453" rx="276" ry="271" fill="url(#dropbg)"/>
<use href="#cl2" transform="translate(430 1453) rotate(140) scale(-1 1)"/>
<g transform="translate(275 1477.5)"><circle r="56" fill="#2f6a3c" fill-opacity="0.93"/><use href="#wg" transform="translate(40 -10) rotate(263) scale(.8 .7)"/><use href="#wg" transform="translate(4 29) rotate(257) scale(.8 .7)"/><use href="#wg" transform="translate(8 -21) rotate(60) scale(.8 .7)"/><use href="#wg" transform="translate(19 -15) rotate(236) scale(.8 .7)"/><use href="#wg" transform="translate(-17 32) rotate(310) scale(.8 .7)"/><use href="#wg" transform="translate(-27 -15) rotate(116) scale(.8 .7)"/><use href="#wg" transform="translate(-26 -25) rotate(147) scale(.8 .7)"/><use href="#wg" transform="translate(-33 7) rotate(93) scale(.8 .7)"/><use href="#wg" transform="translate(15 31) rotate(36) scale(.8 .7)"/><circle cx="4.7" cy="14.2" r="13" fill="#e0603c"/><circle cx="1.2" cy="10.7" r="5" fill="#fff" fill-opacity=".18"/><circle cx="-14.7" cy="-3.1" r="13" fill="#e0603c"/><circle cx="-18.2" cy="-6.6" r="5" fill="#fff" fill-opacity=".18"/><circle cx="10.0" cy="-11.2" r="13" fill="#e0603c"/><circle cx="6.5" cy="-14.7" r="5" fill="#fff" fill-opacity=".18"/><circle r="9.5" fill="#3f6fe0"/><circle r="58" fill="none" stroke="#000" stroke-width="5" stroke-dasharray="22 9"/></g>
<ellipse cx="991" cy="1453" rx="276" ry="271" fill="url(#dropbg)"/>
<use href="#cl3" transform="translate(991 1453) rotate(205) scale(1 1)"/>
<g transform="translate(820 1552.5)"><circle r="56" fill="#2f6a3c" fill-opacity="0.93"/><use href="#wg" transform="translate(21 -21) rotate(285) scale(.8 .7)"/><use href="#wg" transform="translate(28 -9) rotate(277) scale(.8 .7)"/><use href="#wg" transform="translate(-13 22) rotate(125) scale(.8 .7)"/><use href="#wg" transform="translate(0 -25) rotate(237) scale(.8 .7)"/><use href="#wg" transform="translate(-15 21) rotate(155) scale(.8 .7)"/><use href="#wg" transform="translate(-24 21) rotate(317) scale(.8 .7)"/><use href="#wg" transform="translate(24 -13) rotate(356) scale(.8 .7)"/><use href="#wg" transform="translate(-33 -28) rotate(294) scale(.8 .7)"/><use href="#wg" transform="translate(-27 -4) rotate(335) scale(.8 .7)"/><circle cx="-7.5" cy="13.0" r="13" fill="#e0603c"/><circle cx="-11.0" cy="9.5" r="5" fill="#fff" fill-opacity=".18"/><circle cx="-7.5" cy="-13.0" r="13" fill="#e0603c"/><circle cx="-11.0" cy="-16.5" r="5" fill="#fff" fill-opacity=".18"/><circle cx="15.0" cy="-0.0" r="13" fill="#e0603c"/><circle cx="11.5" cy="-3.5" r="5" fill="#fff" fill-opacity=".18"/><circle r="9.5" fill="#3f6fe0"/><circle r="58" fill="none" stroke="#000" stroke-width="5" stroke-dasharray="22 9"/></g>
<ellipse cx="1551" cy="1453" rx="276" ry="271" fill="url(#dropbg)"/>
<use href="#cl1" transform="translate(1551 1453) rotate(100) scale(-1 1)"/>
<g transform="translate(1350 1532.5)"><circle r="56" fill="url(#tanfill)" fill-opacity="0.93"/><use href="#wt" transform="translate(-10 -41) rotate(6) scale(.8 .7)"/><use href="#wt" transform="translate(37 -14) rotate(20) scale(.8 .7)"/><use href="#wt" transform="translate(14 -37) rotate(68) scale(.8 .7)"/><use href="#wt" transform="translate(30 -5) rotate(162) scale(.8 .7)"/><use href="#wt" transform="translate(-21 -31) rotate(269) scale(.8 .7)"/><use href="#wt" transform="translate(-6 32) rotate(49) scale(.8 .7)"/><use href="#wt" transform="translate(-5 32) rotate(27) scale(.8 .7)"/><use href="#wt" transform="translate(-23 32) rotate(64) scale(.8 .7)"/><use href="#wt" transform="translate(-21 9) rotate(266) scale(.8 .7)"/><circle cx="14.7" cy="3.1" r="13" fill="#e8432a"/><circle cx="11.2" cy="-0.4" r="5" fill="#fff" fill-opacity=".18"/><circle cx="-10.0" cy="11.1" r="13" fill="#e8432a"/><circle cx="-13.5" cy="7.6" r="5" fill="#fff" fill-opacity=".18"/><circle cx="-4.6" cy="-14.3" r="13" fill="#e8432a"/><circle cx="-8.1" cy="-17.8" r="5" fill="#fff" fill-opacity=".18"/><circle r="9.5" fill="#5a4fd0"/><circle r="58" fill="none" stroke="#000" stroke-width="5" stroke-dasharray="22 9"/></g>
<ellipse cx="2113" cy="1453" rx="276" ry="271" fill="url(#dropbg)"/>
<use href="#cl2" transform="translate(2113 1453) rotate(250) scale(1 1)"/>
<g transform="translate(1912.5 1552.5)"><circle r="56" fill="url(#tanfill)" fill-opacity="0.93"/><use href="#wt" transform="translate(1 35) rotate(350) scale(.8 .7)"/><use href="#wt" transform="translate(-18 -27) rotate(111) scale(.8 .7)"/><use href="#wt" transform="translate(28 33) rotate(272) scale(.8 .7)"/><use href="#wt" transform="translate(-0 35) rotate(255) scale(.8 .7)"/><use href="#wt" transform="translate(23 -16) rotate(113) scale(.8 .7)"/><use href="#wt" transform="translate(13 32) rotate(332) scale(.8 .7)"/><use href="#wt" transform="translate(-2 -25) rotate(134) scale(.8 .7)"/><use href="#wt" transform="translate(23 12) rotate(177) scale(.8 .7)"/><use href="#wt" transform="translate(16 23) rotate(88) scale(.8 .7)"/><circle cx="9.5" cy="11.6" r="13" fill="#e8432a"/><circle cx="6.0" cy="8.1" r="5" fill="#fff" fill-opacity=".18"/><circle cx="-14.8" cy="2.4" r="13" fill="#e8432a"/><circle cx="-18.3" cy="-1.1" r="5" fill="#fff" fill-opacity=".18"/><circle cx="5.3" cy="-14.0" r="13" fill="#e8432a"/><circle cx="1.8" cy="-17.5" r="5" fill="#fff" fill-opacity=".18"/><circle r="9.5" fill="#5a4fd0"/><circle r="58" fill="none" stroke="#000" stroke-width="5" stroke-dasharray="22 9"/></g>
<text x="317.5" y="80" font-size="61.8" fill="#58b5ee" >R.C. = 0</text>
<text x="892" y="80" font-size="61.8" fill="#58b5ee" >R.C. = 2</text>
<text x="1450" y="80" font-size="61.8" fill="#58b5ee" >R.C. = 4</text>
<text x="2032" y="80" font-size="61.8" fill="#1fb455" >R.C.= 6</text>
<text x="317.5" y="1783.5" font-size="61.8" fill="#1fb455" >R.C.= 8</text>
<text x="886" y="1783.5" font-size="61.8" fill="#1fb455" >R.C.= 10</text>
<text x="1448.5" y="1783.5" font-size="61.8" fill="#c9971f" >R.C. = 12</text>
<text x="2016" y="1783.5" font-size="61.8" fill="#c9971f" >R.C. = 14</text>
<g id="energy"><g fill="#000" stroke="#272727" stroke-width="1"><text x="267" y="700" font-size="39" text-anchor="end">300</text><text x="267" y="840" font-size="39" text-anchor="end">200</text><text x="267" y="980" font-size="39" text-anchor="end">100</text><text x="267" y="1120" font-size="39" text-anchor="end">0</text><text x="306" y="1152" font-size="52" text-anchor="middle">2</text><text x="648.5" y="1152" font-size="52" text-anchor="middle">4</text><text x="990.5" y="1152" font-size="52" text-anchor="middle">6</text><text x="1332.5" y="1152" font-size="52" text-anchor="middle">8</text><text x="1676" y="1152" font-size="52" text-anchor="middle">10</text><text x="2019" y="1152" font-size="52" text-anchor="middle">12</text><text x="2362" y="1152" font-size="52" text-anchor="middle">14</text><text x="640.5" y="737" font-size="54.5" text-anchor="middle">Central Zone</text><text x="1440" y="737" font-size="54.5" text-anchor="middle">Transitional Zone</text><text x="2200" y="737" font-size="54.5" text-anchor="middle">Interface Zone</text><text x="1435" y="1065" font-size="54.5" text-anchor="middle">Reaction Coordinates (R.C.)</text><text transform="translate(175 926) rotate(-90)" font-size="55" text-anchor="middle">Free Energy Profile KJ/mol</text></g><circle cx="309" cy="815" r="17" fill="#ff0000"/><circle cx="648.5" cy="946" r="17" fill="#ff0000"/><circle cx="990" cy="905" r="17" fill="#ff0000"/><circle cx="1326.5" cy="854" r="17" fill="#ff0000"/><circle cx="1682.5" cy="880" r="17" fill="#ff0000"/><circle cx="2016" cy="924" r="17" fill="#ff0000"/><circle cx="2362.5" cy="1104" r="17" fill="#ff0000"/><use href="#ecurve" marker-start="url(#emk)" marker-mid="url(#emk)" marker-end="url(#emk)"/><rect x="289" y="822.5" width="700" height="151" fill="#a6d4ee" fill-opacity="0.65"/><rect x="991" y="859" width="1024" height="37.5" fill="#aeffae" fill-opacity="0.62"/><rect x="2021" y="956" width="355.5" height="131.5" fill="#fffaa7" fill-opacity="0.60"/><g clip-path="url(#zbc)"><use href="#ecurve" marker-start="url(#zbm)" marker-mid="url(#zbm)" marker-end="url(#zbm)"/></g><g clip-path="url(#zgc)"><use href="#ecurve" marker-start="url(#zgm)" marker-mid="url(#zgm)" marker-end="url(#zgm)"/></g><g clip-path="url(#ztc)"><use href="#ecurve" marker-start="url(#ztm)" marker-mid="url(#ztm)" marker-end="url(#ztm)"/></g><line x1="306" y1="896.5" x2="985" y2="896.5" stroke="#8a86c8" stroke-width="5" stroke-dasharray="37 37" stroke-opacity=".9"/><line x1="1040" y1="877.5" x2="2010" y2="877.5" stroke="#9aa860" stroke-width="4" stroke-dasharray="37 37" stroke-opacity=".55"/><line x1="2026" y1="1021.5" x2="2376" y2="1021.5" stroke="#cf9a5e" stroke-width="6" stroke-dasharray="37 37"/><line x1="289" y1="822.5" x2="989" y2="822.5" stroke="#7a3b12" stroke-width="1.6" stroke-dasharray="9 6"/><line x1="991" y1="859" x2="2015" y2="859" stroke="#7a3b12" stroke-width="1.6" stroke-dasharray="9 6"/><line x1="991" y1="896.5" x2="2015" y2="896.5" stroke="#7a3b12" stroke-width="1.6" stroke-dasharray="9 6"/><line x1="2021" y1="956" x2="2376.5" y2="956" stroke="#7a3b12" stroke-width="1.6" stroke-dasharray="9 6"/><line x1="2021" y1="1087.5" x2="2376.5" y2="1087.5" stroke="#7a3b12" stroke-width="1.6" stroke-dasharray="9 6"/><line x1="989.5" y1="910" x2="989.5" y2="973" stroke="#7a3b12" stroke-width="1.6" stroke-dasharray="9 6"/><line x1="2021" y1="956" x2="2021" y2="1087.5" stroke="#7a3b12" stroke-width="1.6" stroke-dasharray="9 6"/><line x1="2376.5" y1="956" x2="2376.5" y2="1087.5" stroke="#7a3b12" stroke-width="1.6" stroke-dasharray="9 6"/><line x1="990" y1="690" x2="990" y2="908" stroke="#0000ff" stroke-width="4"/><line x1="2018.5" y1="690" x2="2018.5" y2="925" stroke="#0000ff" stroke-width="4"/><line x1="2018.5" y1="925" x2="2018.5" y2="965" stroke="#7a0a5a" stroke-width="4"/></g>
<g id="cube"><path d="M136.5,1937V2312M739.6,1932V2305M437.5,2036V2443M445,1846V2174" stroke="#2a2a2a" stroke-width="1.2" fill="none"/><g><path d="M458,2075V2135" stroke="#f08486" stroke-width="2.2" stroke-dasharray="12 9"/><path d="M466,2080V2130" stroke="#c4c4c4" stroke-width="2.2" stroke-dasharray="12 9"/><path d="M491,2075V2135" stroke="#52b8f2" stroke-width="2.2" stroke-dasharray="12 9"/><path d="M494,2090V2140" stroke="#b9a262" stroke-width="2.2" stroke-dasharray="12 9"/><path d="M660,2120V2235" stroke="#52b8f2" stroke-width="2.2" stroke-dasharray="12 9"/><path d="M663,2120V2235" stroke="#b9a262" stroke-width="2.2" stroke-dasharray="12 9"/><path d="M690,2080V2190" stroke="#c4c4c4" stroke-width="2.2" stroke-dasharray="12 9"/><path d="M697,2050V2185" stroke="#f08486" stroke-width="2.2" stroke-dasharray="12 9"/><path d="M476,2015.6L486,2033.1H466Z" fill="none" stroke="#52b8f2" stroke-width="3"/><path d="M481,2047.6L491,2030.1H471Z" fill="none" stroke="#b9a262" stroke-width="3"/><rect x="470" y="2021.6" width="16" height="16" fill="none" stroke="#c4c4c4" stroke-width="3"/><path d="M487.5,2019.1L497.5,2036.6H477.5Z" fill="none" stroke="#52b8f2" stroke-width="3"/><path d="M492.5,2051.1L502.5,2033.6H482.5Z" fill="none" stroke="#b9a262" stroke-width="3"/><circle cx="484.5" cy="2038.1" r="8.5" fill="none" stroke="#f08486" stroke-width="3"/><path d="M498.9,2021.2L508.9,2038.7H488.9Z" fill="none" stroke="#52b8f2" stroke-width="3"/><path d="M503.9,2053.2L513.9,2035.7H493.9Z" fill="none" stroke="#b9a262" stroke-width="3"/><path d="M510.4,2032.9L520.4,2050.4H500.4Z" fill="none" stroke="#52b8f2" stroke-width="3"/><path d="M515.4,2064.9L525.4,2047.4H505.4Z" fill="none" stroke="#b9a262" stroke-width="3"/><rect x="504.4" y="2038.9" width="16" height="16" fill="none" stroke="#c4c4c4" stroke-width="3"/><path d="M521.9,2028.7L531.9,2046.2H511.9Z" fill="none" stroke="#52b8f2" stroke-width="3"/><path d="M526.9,2060.7L536.9,2043.2H516.9Z" fill="none" stroke="#b9a262" stroke-width="3"/><path d="M533.3,2038L543.3,2055.5H523.3Z" fill="none" stroke="#52b8f2" stroke-width="3"/><path d="M538.3,2070L548.3,2052.5H528.3Z" fill="none" stroke="#b9a262" stroke-width="3"/><circle cx="530.3" cy="2057" r="8.5" fill="none" stroke="#f08486" stroke-width="3"/><path d="M544.8,2046.4L554.8,2063.9H534.8Z" fill="none" stroke="#52b8f2" stroke-width="3"/><path d="M549.8,2078.4L559.8,2060.9H539.8Z" fill="none" stroke="#b9a262" stroke-width="3"/><rect x="538.8" y="2052.4" width="16" height="16" fill="none" stroke="#c4c4c4" stroke-width="3"/><path d="M556.3,2042.6L566.3,2060.1H546.3Z" fill="none" stroke="#52b8f2" stroke-width="3"/><path d="M561.3,2074.6L571.3,2057.1H551.3Z" fill="none" stroke="#b9a262" stroke-width="3"/><path d="M567.7,2051.7L577.7,2069.2H557.7Z" fill="none" stroke="#52b8f2" stroke-width="3"/><path d="M572.7,2083.7L582.7,2066.2H562.7Z" fill="none" stroke="#b9a262" stroke-width="3"/><path d="M579.2,2056.8L589.2,2074.3H569.2Z" fill="none" stroke="#52b8f2" stroke-width="3"/><path d="M584.2,2088.8L594.2,2071.3H574.2Z" fill="none" stroke="#b9a262" stroke-width="3"/><rect x="573.2" y="2062.8" width="16" height="16" fill="none" stroke="#c4c4c4" stroke-width="3"/><circle cx="576.2" cy="2075.8" r="8.5" fill="none" stroke="#f08486" stroke-width="3"/><path d="M590.7,2055.4L600.7,2072.9H580.7Z" fill="none" stroke="#52b8f2" stroke-width="3"/><path d="M595.7,2087.4L605.7,2069.9H585.7Z" fill="none" stroke="#b9a262" stroke-width="3"/><path d="M602.1,2063.2L612.1,2080.7H592.1Z" fill="none" stroke="#52b8f2" stroke-width="3"/><path d="M607.1,2095.2L617.1,2077.7H597.1Z" fill="none" stroke="#b9a262" stroke-width="3"/><path d="M613.6,2070.8L623.6,2088.3H603.6Z" fill="none" stroke="#52b8f2" stroke-width="3"/><path d="M618.6,2102.8L628.6,2085.3H608.6Z" fill="none" stroke="#b9a262" stroke-width="3"/><rect x="607.6" y="2076.8" width="16" height="16" fill="none" stroke="#c4c4c4" stroke-width="3"/><path d="M625.1,2072.7L635.1,2090.2H615.1Z" fill="none" stroke="#52b8f2" stroke-width="3"/><path d="M630.1,2104.7L640.1,2087.2H620.1Z" fill="none" stroke="#b9a262" stroke-width="3"/><circle cx="622.1" cy="2091.7" r="8.5" fill="none" stroke="#f08486" stroke-width="3"/><path d="M636.5,2079.9L646.5,2097.4H626.5Z" fill="none" stroke="#52b8f2" stroke-width="3"/><path d="M641.5,2111.9L651.5,2094.4H631.5Z" fill="none" stroke="#b9a262" stroke-width="3"/><path d="M648,2078.6L658,2096.1H638Z" fill="none" stroke="#52b8f2" stroke-width="3"/><path d="M653,2110.6L663,2093.1H643Z" fill="none" stroke="#b9a262" stroke-width="3"/><rect x="642" y="2084.6" width="16" height="16" fill="none" stroke="#c4c4c4" stroke-width="3"/><circle cx="481" cy="2037" r="8.5" fill="none" stroke="#f08486" stroke-width="3"/><circle cx="488" cy="2055" r="8.5" fill="none" stroke="#f08486" stroke-width="3"/><circle cx="514" cy="2065" r="8.5" fill="none" stroke="#f08486" stroke-width="3"/><circle cx="668" cy="2092" r="8.5" fill="none" stroke="#f08486" stroke-width="3"/><circle cx="676" cy="2096" r="8.5" fill="none" stroke="#f08486" stroke-width="3"/><circle cx="682" cy="2086" r="8.5" fill="none" stroke="#f08486" stroke-width="3"/><circle cx="619" cy="2136" r="8.5" fill="none" stroke="#f08486" stroke-width="3"/><rect x="464" y="2047" width="16" height="16" fill="none" stroke="#c4c4c4" stroke-width="3"/><rect x="675" y="2022" width="16" height="16" fill="none" stroke="#c4c4c4" stroke-width="3"/><rect x="684" y="2157" width="16" height="16" fill="none" stroke="#c4c4c4" stroke-width="3"/><rect x="456" y="2130" width="16" height="16" fill="none" stroke="#c4c4c4" stroke-width="3"/><path d="M656,2014L666,1996.5H646Z" fill="none" stroke="#b9a262" stroke-width="3"/><path d="M492,2150L502,2132.5H482Z" fill="none" stroke="#b9a262" stroke-width="3"/><path d="M533,2104L543,2086.5H523Z" fill="none" stroke="#b9a262" stroke-width="3"/><circle cx="691" cy="2013" r="8.5" fill="none" stroke="#f08486" stroke-width="3"/><circle cx="454" cy="2137" r="8.5" fill="none" stroke="#f08486" stroke-width="3"/><circle cx="699" cy="2189" r="8.5" fill="none" stroke="#f08486" stroke-width="3"/><circle cx="706" cy="2232" r="8.5" fill="none" stroke="#f08486" stroke-width="3"/><path d="M653,2035L663,2052.5H643Z" fill="none" stroke="#52b8f2" stroke-width="3"/><path d="M490,2159L501,2178.2H479Z" fill="none" stroke="#52b8f2" stroke-width="3"/><path d="M706,2218L716,2235.5H696Z" fill="none" stroke="#52b8f2" stroke-width="3"/><path d="M447,2170L457,2152.5H437Z" fill="none" stroke="#b9a262" stroke-width="3"/><path d="M667,2224L677,2206.5H657Z" fill="none" stroke="#b9a262" stroke-width="3"/><path d="M457,2172.5L467,2155H447Z" fill="none" stroke="#b9a262" stroke-width="3"/><path d="M678,2230L688,2212.5H668Z" fill="none" stroke="#b9a262" stroke-width="3"/><path d="M467,2175L477,2157.5H457Z" fill="none" stroke="#b9a262" stroke-width="3"/><path d="M689,2236L699,2218.5H679Z" fill="none" stroke="#b9a262" stroke-width="3"/><path d="M477,2177.5L487,2160H467Z" fill="none" stroke="#b9a262" stroke-width="3"/><path d="M700,2242L710,2224.5H690Z" fill="none" stroke="#b9a262" stroke-width="3"/><path d="M487,2180L497,2162.5H477Z" fill="none" stroke="#b9a262" stroke-width="3"/><path d="M711,2248L721,2230.5H701Z" fill="none" stroke="#b9a262" stroke-width="3"/><path d="M556,2123H596" stroke="#c4c4c4" stroke-width="2.2" stroke-dasharray="9 22"/><rect x="569" y="2116" width="14" height="14" fill="none" stroke="#c4c4c4" stroke-width="3"/><path d="M556,2144.5H596" stroke="#f08486" stroke-width="2.2" stroke-dasharray="9 22"/><circle cx="576" cy="2144.5" r="7" fill="none" stroke="#f08486" stroke-width="3"/><path d="M556,2166H596" stroke="#52b8f2" stroke-width="2.2" stroke-dasharray="9 22"/><path d="M576,2159L583,2171.2H569Z" fill="none" stroke="#52b8f2" stroke-width="3"/><path d="M556,2187.5H596" stroke="#b9a262" stroke-width="2.2" stroke-dasharray="9 22"/><path d="M576,2194.5L583,2182.2H569Z" fill="none" stroke="#b9a262" stroke-width="3"/><g font-family="'Liberation Serif', 'Times New Roman', serif" font-size="9.5" fill="#8a8a8a"><text x="412" y="2063">0.5</text><text x="412" y="2102">0.4</text><text x="412" y="2141">0.3</text><text x="441" y="2185">-50</text><text x="508" y="2200">-25</text><text x="573" y="2223">0</text><text x="640" y="2245">25</text><text x="706" y="2266">50</text><text x="612" y="2268">Position (%)</text><text x="600" y="2127">a</text><text x="600" y="2148">b</text><text x="600" y="2170">c</text><text x="600" y="2191">d</text><text transform="translate(409 2075) rotate(-80)" font-size="8">A[NO3]/A[OH]</text></g></g><g clip-path="url(#wallclip)"><rect x="150" y="1960" width="260" height="340" fill="#fed01f"/><ellipse cx="280" cy="2100" rx="109" ry="129" fill="url(#wallring)" transform="rotate(8 280 2100)"/><path d="M161,2290L329,2006" stroke="#ecdcb4" stroke-width="4" stroke-dasharray="24 12" fill="none"/><path d="M163,2129.6L399,2040.8" stroke="#f2ecec" stroke-width="5.5" stroke-dasharray="15 7" fill="none"/><path d="M279,1990V2240" stroke="#f48888" stroke-width="5.5" stroke-dasharray="22 8" fill="none"/><path d="M161,1980L401,2197" stroke="#72ccf2" stroke-width="6.5" stroke-dasharray="15 6" fill="none"/><g font-family="'Liberation Serif', 'Times New Roman', serif" font-weight="700" font-size="46"><text x="208" y="2096" fill="#f4eeee">a</text><text x="246" y="2038" fill="#72ccf2">c</text><text x="286" y="2168" fill="#f48888">b</text><text x="249" y="2178" fill="#e8d8b0">d</text></g></g><path d="M148.4,2313.8L443,2206L730,2306.5L439,2441Z" fill="#3030fa"/><path d="M221,2346L515,2231M294,2378L587,2256M366,2409L658,2281M222,2287L512,2407M296,2260L585,2374M369,2233L658,2340" stroke="#7a7aff" stroke-opacity=".45" stroke-width="1" fill="none"/><ellipse cx="439" cy="2322" rx="191" ry="66" fill="#3030fa"/><ellipse cx="439" cy="2320.3" rx="190.3" ry="65.6" fill="#2944fc"/><ellipse cx="439" cy="2318.7" rx="189.7" ry="65.3" fill="#2358fe"/><ellipse cx="439" cy="2317" rx="189" ry="64.9" fill="#1f6efd"/><ellipse cx="439" cy="2315.3" rx="188.3" ry="64.5" fill="#1e84fb"/><ellipse cx="439" cy="2313.7" rx="187.7" ry="64.2" fill="#1c9bf8"/><ellipse cx="439" cy="2312" rx="187" ry="63.8" fill="#1bb1f6"/><ellipse cx="439" cy="2310.3" rx="186.3" ry="63.4" fill="#1ac8f3"/><ellipse cx="439" cy="2308.7" rx="185.7" ry="63.1" fill="#18dff0"/><ellipse cx="439" cy="2307" rx="185" ry="62.7" fill="#1be1d0"/><ellipse cx="439" cy="2305.3" rx="184.3" ry="62.3" fill="#1ee1ad"/><ellipse cx="439" cy="2303.7" rx="183.7" ry="62" fill="#21e18a"/><ellipse cx="439" cy="2302" rx="183" ry="61.6" fill="#24e166"/><ellipse cx="439" cy="2300.3" rx="182.3" ry="61.2" fill="#27e143"/><ellipse cx="439" cy="2298.7" rx="181.7" ry="60.9" fill="#48e437"/><ellipse cx="439" cy="2297" rx="181" ry="60.5" fill="#71e731"/><ellipse cx="439" cy="2295.3" rx="180.3" ry="60.1" fill="#9aea2a"/><ellipse cx="439" cy="2293.7" rx="179.7" ry="59.8" fill="#c2ed24"/><ellipse cx="439" cy="2292" rx="179" ry="59.4" fill="#ebf01e"/><ellipse cx="439" cy="2290.3" rx="178.3" ry="59" fill="#f1db1b"/><ellipse cx="439" cy="2288.7" rx="177.7" ry="58.7" fill="#f7c618"/><ellipse cx="439" cy="2287" rx="177" ry="58.3" fill="#fdb015"/><ellipse cx="439" cy="2285.3" rx="176.3" ry="57.9" fill="#fe8613"/><ellipse cx="439" cy="2283.7" rx="175.7" ry="57.6" fill="#fc5211"/><ellipse cx="439" cy="2282" rx="175" ry="57.2" fill="#fa1e0f"/><ellipse cx="439" cy="2280.3" rx="174.3" ry="56.8" fill="#fa1d0f"/><ellipse cx="439" cy="2278.7" rx="173.7" ry="56.5" fill="#fa1b0f"/><ellipse cx="439" cy="2277" rx="173" ry="56.1" fill="#fa1a0f"/><ellipse cx="439" cy="2275.3" rx="172.3" ry="55.7" fill="#fa190f"/><ellipse cx="439" cy="2273.7" rx="171.7" ry="55.4" fill="#fa170f"/><ellipse cx="439" cy="2272" rx="171" ry="55" fill="#fa160f"/><ellipse cx="438" cy="2271" rx="161" ry="49" fill="#ffc81c"/><g clip-path="url(#disctop)"><path d="M40,2330l300,-96" stroke="#ffac14" stroke-width="5" stroke-opacity=".8"/><path d="M70,2330l300,-96" stroke="#ffe024" stroke-width="6.5" stroke-opacity=".8"/><path d="M100,2330l300,-96" stroke="#fff22a" stroke-width="8" stroke-opacity=".8"/><path d="M130,2330l300,-96" stroke="#ffac14" stroke-width="5" stroke-opacity=".8"/><path d="M160,2330l300,-96" stroke="#ffe024" stroke-width="6.5" stroke-opacity=".8"/><path d="M190,2330l300,-96" stroke="#fff22a" stroke-width="8" stroke-opacity=".8"/><path d="M220,2330l300,-96" stroke="#ffac14" stroke-width="5" stroke-opacity=".8"/><path d="M250,2330l300,-96" stroke="#ffe024" stroke-width="6.5" stroke-opacity=".8"/><path d="M280,2330l300,-96" stroke="#fff22a" stroke-width="8" stroke-opacity=".8"/><path d="M310,2330l300,-96" stroke="#ffac14" stroke-width="5" stroke-opacity=".8"/><path d="M340,2330l300,-96" stroke="#ffe024" stroke-width="6.5" stroke-opacity=".8"/><path d="M370,2330l300,-96" stroke="#fff22a" stroke-width="8" stroke-opacity=".8"/><path d="M400,2330l300,-96" stroke="#ffac14" stroke-width="5" stroke-opacity=".8"/><path d="M430,2330l300,-96" stroke="#ffe024" stroke-width="6.5" stroke-opacity=".8"/><path d="M460,2330l300,-96" stroke="#fff22a" stroke-width="8" stroke-opacity=".8"/><path d="M490,2330l300,-96" stroke="#ffac14" stroke-width="5" stroke-opacity=".8"/><path d="M520,2330l300,-96" stroke="#ffe024" stroke-width="6.5" stroke-opacity=".8"/><path d="M420,2318l190,-61" stroke="#58e628" stroke-width="7"/></g><path d="M596.9,2281.2L608,2264.1L619,2281.2Z" fill="#ff3a12"/><path d="M589.2,2270.5L605.3,2253L621.5,2270.5Z" fill="#fb1711"/><path d="M583.4,2264.4L600.7,2246.5L618.1,2264.4Z" fill="#fb1711"/><path d="M578.3,2259.6L595.4,2228.5L612.5,2259.6Z" fill="#fb1711"/><path d="M567.9,2250.4L580.2,2217.9L592.4,2250.4Z" fill="#ff3a12"/><path d="M555.4,2247L572.5,2228.1L589.5,2247Z" fill="#fb1711"/><path d="M544.1,2240.9L555.3,2207.1L566.4,2240.9Z" fill="#fb1711"/><path d="M515.6,2235.3L533.3,2215.8L551,2235.3Z" fill="#fb1711"/><path d="M495.8,2231.5L512.9,2208L530.1,2231.5Z" fill="#fb1711"/><path d="M490.3,2229.9L501.3,2210.1L512.4,2229.9Z" fill="#ff3a12"/><path d="M458.6,2227.1L472.6,2183.3L486.6,2227.1Z" fill="#ff3a12"/><path d="M439.2,2226.2L450.7,2190.2L462.2,2226.2Z" fill="#fb1711"/><path d="M412.2,2226.2L423.6,2202.2L435,2226.2Z" fill="#fb1711"/><path d="M385,2227.6L397.2,2207.7L409.3,2227.6Z" fill="#fb1711"/><path d="M360.6,2229.7L376.5,2200.1L392.4,2229.7Z" fill="#fb1711"/><path d="M348,2231.1L365.6,2195.9L383.2,2231.1Z" fill="#fb1711"/><path d="M322.8,2236.2L338.7,2216.7L354.6,2236.2Z" fill="#ff3a12"/><path d="M305.5,2240.6L321.7,2199.4L337.9,2240.6Z" fill="#fb1711"/><path d="M294.6,2245.4L307.5,2205.1L320.4,2245.4Z" fill="#fb1711"/><path d="M279,2250.8L295,2211.5L310.9,2250.8Z" fill="#fb1711"/><path d="M268,2258.9L281.5,2240.8L295,2258.9Z" fill="#fb1711"/><path d="M258,2265.2L274.5,2239.5L291,2265.2Z" fill="#fb1711"/><path d="M253.7,2271.7L270,2236.3L286.3,2271.7Z" fill="#fb1711"/><path d="M254.1,2281.2L268,2252.9L282,2281.2Z" fill="#fb1711"/><path d="M594.3,2284.4L607.9,2230L621.5,2284.4Z" fill="#fb1711"/><path d="M588.5,2294L606.1,2260.2L623.7,2294Z" fill="#ff3a12"/><path d="M575.6,2307L594.6,2279.4L613.6,2307Z" fill="#fb1711"/><path d="M562.2,2317.8L575.4,2283.7L588.7,2317.8Z" fill="#ff3a12"/><path d="M532.2,2325.6L553.7,2290.1L575.3,2325.6Z" fill="#ff3a12"/><path d="M517.2,2331.3L530.7,2306L544.1,2331.3Z" fill="#fb1711"/><path d="M479.2,2336.6L497.7,2299.2L516.2,2336.6Z" fill="#ff3a12"/><path d="M456.7,2338.8L474,2306.9L491.3,2338.8Z" fill="#fb1711"/><path d="M410.8,2339.9L428.8,2260L446.8,2339.9Z" fill="#fb1711"/><path d="M399.1,2339.4L413.4,2295.6L427.7,2339.4Z" fill="#fb1711"/><path d="M346.5,2335.1L367.5,2278.7L388.5,2335.1Z" fill="#fb1711"/><path d="M319.1,2330.1L340,2275.3L360.9,2330.1Z" fill="#fb1711"/><path d="M308.1,2325.9L323.6,2301.2L339.1,2325.9Z" fill="#fb1711"/><path d="M279,2314.4L293.4,2290.7L307.9,2314.4Z" fill="#fb1711"/><path d="M263.7,2304.5L278.3,2277.3L292.9,2304.5Z" fill="#fb1711"/><path d="M257.3,2296.2L271,2261.9L284.8,2296.2Z" fill="#fb1711"/><path d="M250.2,2285.4L268,2256.9L285.8,2285.4Z" fill="#ff3a12"/><path d="M136.5,1937L445,1846L739.6,1932L437.5,2036Z" fill="#3030fa"/><path d="M212,1962L520,1868M287,1986L593,1889M362,2011L666,1911M213,1914L513,2010M290,1892L589,1984M367,1869L664,1958" stroke="#7a7aff" stroke-opacity=".45" stroke-width="1" fill="none"/><ellipse cx="440" cy="1936" rx="199" ry="66" fill="#1a8cff" transform="rotate(-1.5 440 1936)"/><ellipse cx="440" cy="1936" rx="196.5" ry="64" fill="#18e0e8" transform="rotate(-1.5 440 1936)"/><ellipse cx="440" cy="1936" rx="194" ry="62.3" fill="#30e040" transform="rotate(-1.5 440 1936)"/><ellipse cx="440" cy="1936" rx="192" ry="61" fill="#f0f020" transform="rotate(-1.5 440 1936)"/><ellipse cx="440" cy="1936" rx="190.5" ry="60" fill="#ff8a14" transform="rotate(-1.5 440 1936)"/><ellipse cx="440" cy="1936" rx="189" ry="59" fill="#f6160f" transform="rotate(-1.5 440 1936)"/><ellipse cx="440" cy="1936" rx="167" ry="45.5" fill="#ffd21c" transform="rotate(-1.5 440 1936)"/><ellipse cx="605" cy="1936" rx="10" ry="4.2" fill="#ffdc20"/><ellipse cx="608.7" cy="1940.2" rx="8.1" ry="3.8" fill="#ffd21c"/><ellipse cx="615.5" cy="1944.8" rx="8.3" ry="4.3" fill="#ffd21c"/><ellipse cx="609.7" cy="1948.9" rx="8.9" ry="2.8" fill="#ffdc20"/><ellipse cx="601.3" cy="1952.7" rx="6.2" ry="4.2" fill="#ffdc20"/><ellipse cx="589" cy="1955.8" rx="8.4" ry="3.3" fill="#ffb818"/><ellipse cx="584.4" cy="1959.8" rx="9.3" ry="3.9" fill="#ffdc20"/><ellipse cx="579.4" cy="1963.9" rx="7" ry="3.7" fill="#ffd21c"/><ellipse cx="571.2" cy="1967.6" rx="8.7" ry="3.3" fill="#ffd21c"/><ellipse cx="554.6" cy="1969" rx="6.1" ry="4" fill="#ffd21c"/><ellipse cx="543.2" cy="1971.6" rx="7.4" ry="3.4" fill="#ffdc20"/><ellipse cx="534.8" cy="1975.5" rx="8.8" ry="2.7" fill="#ffd21c"/><ellipse cx="523.8" cy="1978.9" rx="6" ry="4.3" fill="#ffdc20"/><ellipse cx="505.6" cy="1978.3" rx="7.5" ry="3.5" fill="#ffd21c"/><ellipse cx="491.4" cy="1979.5" rx="7.4" ry="3" fill="#ffd21c"/><ellipse cx="477.3" cy="1981" rx="6.9" ry="2.8" fill="#ffd21c"/><ellipse cx="462.2" cy="1981.2" rx="8.6" ry="2.7" fill="#ffd21c"/><ellipse cx="447.9" cy="1984.5" rx="7.9" ry="3.5" fill="#ffb818"/><ellipse cx="432" cy="1985.1" rx="6.3" ry="2.6" fill="#ffdc20"/><ellipse cx="416.5" cy="1983.9" rx="6.1" ry="3.1" fill="#ffdc20"/><ellipse cx="403.3" cy="1980.3" rx="6.4" ry="4" fill="#ffd21c"/><ellipse cx="384.8" cy="1982.8" rx="7.9" ry="3.2" fill="#ffd21c"/><ellipse cx="371.4" cy="1980.2" rx="8.7" ry="2.8" fill="#ffd21c"/><ellipse cx="356" cy="1979" rx="9.9" ry="4" fill="#ffb818"/><ellipse cx="341.2" cy="1977.2" rx="9.5" ry="4.3" fill="#ffd21c"/><ellipse cx="337.1" cy="1971.5" rx="7.8" ry="3.3" fill="#ffb818"/><ellipse cx="320.9" cy="1970.3" rx="7.4" ry="4.1" fill="#ffb818"/><ellipse cx="311" cy="1967" rx="6.3" ry="3.1" fill="#ffb818"/><ellipse cx="299.1" cy="1964.2" rx="8.3" ry="3.4" fill="#ffd21c"/><ellipse cx="294.3" cy="1960" rx="6.2" ry="2.8" fill="#ffb818"/><ellipse cx="284" cy="1956.7" rx="6.8" ry="3.9" fill="#ffdc20"/><ellipse cx="272.7" cy="1953.3" rx="9.8" ry="2.8" fill="#ffb818"/><ellipse cx="266.7" cy="1949.2" rx="8.4" ry="4.3" fill="#ffdc20"/><ellipse cx="266.7" cy="1944.7" rx="6.8" ry="3.6" fill="#ffb818"/><ellipse cx="275" cy="1940.1" rx="8.7" ry="3.4" fill="#ffd21c"/><ellipse cx="261.8" cy="1936" rx="7.3" ry="4.1" fill="#ffdc20"/><ellipse cx="268.2" cy="1931.7" rx="7.9" ry="2.6" fill="#ffdc20"/><ellipse cx="274.9" cy="1927.7" rx="6.9" ry="4.4" fill="#ffb818"/><ellipse cx="280.8" cy="1923.9" rx="6.6" ry="2.9" fill="#ffd21c"/><ellipse cx="278.4" cy="1919.3" rx="9.2" ry="3.3" fill="#ffb818"/><ellipse cx="286.2" cy="1915.6" rx="8.3" ry="4.2" fill="#ffdc20"/><ellipse cx="289.4" cy="1911.2" rx="7.4" ry="3.1" fill="#ffb818"/><ellipse cx="295.2" cy="1907" rx="8.3" ry="4" fill="#ffd21c"/><ellipse cx="309.3" cy="1904.5" rx="6" ry="3.8" fill="#ffd21c"/><ellipse cx="323.3" cy="1902.4" rx="8.1" ry="4" fill="#ffb818"/><ellipse cx="328.5" cy="1897.5" rx="9" ry="3.1" fill="#ffd21c"/><ellipse cx="344.9" cy="1896.3" rx="7.9" ry="4.4" fill="#ffd21c"/><ellipse cx="359.6" cy="1894.8" rx="9" ry="3.2" fill="#ffdc20"/><ellipse cx="375" cy="1894.1" rx="7.1" ry="3.2" fill="#ffdc20"/><ellipse cx="388.3" cy="1892.1" rx="9.1" ry="3.8" fill="#ffd21c"/><ellipse cx="401.8" cy="1889.9" rx="7.4" ry="3.9" fill="#ffd21c"/><ellipse cx="416" cy="1887.2" rx="6.9" ry="3" fill="#ffdc20"/><ellipse cx="432.2" cy="1888.3" rx="6" ry="3.6" fill="#ffd21c"/><ellipse cx="448" cy="1886.6" rx="8.9" ry="3.5" fill="#ffd21c"/><ellipse cx="462.9" cy="1889.5" rx="9.2" ry="4.2" fill="#ffb818"/><ellipse cx="478.8" cy="1889.1" rx="9.9" ry="3.6" fill="#ffd21c"/><ellipse cx="495.6" cy="1888.9" rx="6.3" ry="3.2" fill="#ffd21c"/><ellipse cx="509.4" cy="1891.3" rx="9.9" ry="2.9" fill="#ffdc20"/><ellipse cx="518" cy="1896.1" rx="8.6" ry="3.2" fill="#ffd21c"/><ellipse cx="539.1" cy="1894.6" rx="6.7" ry="2.7" fill="#ffdc20"/><ellipse cx="548.3" cy="1898.6" rx="6.8" ry="4.1" fill="#ffb818"/><ellipse cx="561.4" cy="1901" rx="7.3" ry="3.3" fill="#ffd21c"/><ellipse cx="568.7" cy="1905" rx="9.1" ry="3.4" fill="#ffdc20"/><ellipse cx="573.6" cy="1909.3" rx="6.7" ry="2.9" fill="#ffdc20"/><ellipse cx="590.9" cy="1911.2" rx="8.5" ry="4" fill="#ffdc20"/><ellipse cx="593.7" cy="1915.6" rx="9" ry="4.2" fill="#ffdc20"/><ellipse cx="596.3" cy="1919.8" rx="7.5" ry="4.3" fill="#ffb818"/><ellipse cx="600.7" cy="1923.8" rx="7.7" ry="3.9" fill="#ffdc20"/><ellipse cx="611.8" cy="1927.4" rx="6.4" ry="4.3" fill="#ffdc20"/><ellipse cx="608" cy="1931.8" rx="7.5" ry="4" fill="#ffb818"/><g clip-path="url(#topclip)"><path d="M66,1990l300,-91" stroke="#ffac14" stroke-width="4.5" stroke-opacity=".8"/><path d="M94,1990l300,-91" stroke="#ffe024" stroke-width="6" stroke-opacity=".8"/><path d="M122,1990l300,-91" stroke="#fff22a" stroke-width="7.5" stroke-opacity=".8"/><path d="M150,1990l300,-91" stroke="#ffac14" stroke-width="4.5" stroke-opacity=".8"/><path d="M178,1990l300,-91" stroke="#ffe024" stroke-width="6" stroke-opacity=".8"/><path d="M206,1990l300,-91" stroke="#fff22a" stroke-width="7.5" stroke-opacity=".8"/><path d="M234,1990l300,-91" stroke="#ffac14" stroke-width="4.5" stroke-opacity=".8"/><path d="M262,1990l300,-91" stroke="#ffe024" stroke-width="6" stroke-opacity=".8"/><path d="M290,1990l300,-91" stroke="#fff22a" stroke-width="7.5" stroke-opacity=".8"/><path d="M318,1990l300,-91" stroke="#ffac14" stroke-width="4.5" stroke-opacity=".8"/><path d="M346,1990l300,-91" stroke="#ffe024" stroke-width="6" stroke-opacity=".8"/><path d="M374,1990l300,-91" stroke="#fff22a" stroke-width="7.5" stroke-opacity=".8"/><path d="M402,1990l300,-91" stroke="#ffac14" stroke-width="4.5" stroke-opacity=".8"/><path d="M430,1990l300,-91" stroke="#ffe024" stroke-width="6" stroke-opacity=".8"/><path d="M458,1990l300,-91" stroke="#fff22a" stroke-width="7.5" stroke-opacity=".8"/><path d="M486,1990l300,-91" stroke="#ffac14" stroke-width="4.5" stroke-opacity=".8"/><path d="M514,1990l300,-91" stroke="#ffe024" stroke-width="6" stroke-opacity=".8"/><path d="M425,1975l150,-46" stroke="#4fe428" stroke-width="5"/></g><rect x="759" y="1906.6" width="37.6" height="379.4" fill="url(#jet)"/><g fill="#000" stroke="#2c2c2c" stroke-width=".8" font-size="20"><path d="M796.6,1908.5h7"/><text x="811" y="1915.5">0.75</text><path d="M796.6,1948.6h7"/><text x="811" y="1955.6">0.70</text><path d="M796.6,1988.6h7"/><text x="811" y="1995.6">0.65</text><path d="M796.6,2028.7h7"/><text x="811" y="2035.7">0.60</text><path d="M796.6,2068.7h7"/><text x="811" y="2075.7">0.55</text><path d="M796.6,2108.8h7"/><text x="811" y="2115.8">0.50</text><path d="M796.6,2148.9h7"/><text x="811" y="2155.9">0.45</text><path d="M796.6,2188.9h7"/><text x="811" y="2195.9">0.40</text><path d="M796.6,2229h7"/><text x="811" y="2236">0.35</text><path d="M796.6,2269h7"/><text x="811" y="2276">0.30</text><text x="710" y="1882" font-size="28">A<tspan fill="#fff" stroke="none">[</tspan>NO<tspan font-size="18" dy="7">3</tspan><tspan font-size="16" dy="-18">-</tspan><tspan dy="11" fill="#fff" stroke="none">]</tspan>/A[OH]</text></g><g fill="#000" stroke="#202020" stroke-width="1" font-size="26"><text transform="translate(226 2410) rotate(33)" text-anchor="middle" font-style="italic">X axis (µm)</text><text transform="translate(652 2403) rotate(-33)" text-anchor="middle" font-style="italic">Y axis (µm)</text><text transform="translate(168 2346) rotate(33)" text-anchor="middle" font-size="20">-20</text><text transform="translate(222 2372) rotate(33)" text-anchor="middle" font-size="20">-10</text><text transform="translate(282 2392) rotate(33)" text-anchor="middle" font-size="20">0</text><text transform="translate(328 2417) rotate(33)" text-anchor="middle" font-size="20">10</text><text transform="translate(380 2442) rotate(33)" text-anchor="middle" font-size="20">20</text><text transform="translate(505 2442) rotate(-33)" text-anchor="middle" font-size="20">-20</text><text transform="translate(560 2417) rotate(-33)" text-anchor="middle" font-size="20">-10</text><text transform="translate(608 2390) rotate(-33)" text-anchor="middle" font-size="20">0</text><text transform="translate(665 2368) rotate(-33)" text-anchor="middle" font-size="20">10</text><text transform="translate(715 2342) rotate(-33)" text-anchor="middle" font-size="20">20</text></g></g>
<g id="scatter"><polyline points="972.4,2015 974.5,1939.8 981.4,2301.3 983.5,2331.5 987.1,2341.1 993.5,2146 997,2190.8 999.8,2293.4 1003.9,2240.3 1009.6,2248.7 1013.3,2331 1016.3,2270.7 1019.2,2263.4 1023.9,2254.4 1030.3,2266.9 1033.1,2243 1035.8,2248.8 1039.6,2213.2 1043.9,2233.3 1048.8,2270.2 1053.5,2206.7 1056.3,2262.2 1063.1,2248.7 1065.7,2250.4 1068.8,2213.9 1073.4,2261.4 1076.2,2228.2 1083.3,2244.6 1086.8,2291.1 1089.3,2255.6 1095.6,2274.3 1098,2198.4 1102.1,2228.3 1107.8,2260.5 1110.7,2206 1115.3,2240.7 1118,2248.1 1123,2207 1126.1,2235.6 1131.5,2224.6 1134,2267 1137.2,2230.4 1142,2229.6 1147.4,2220.6 1150.5,2220.1 1154.5,2214.7 1160.3,2220 1163.2,2190.5 1166.1,2264.8 1171.9,2201.2 1176.1,2257.6 1180,2272 1183.9,2246.3 1186,2211.8 1192.1,2248.5 1194.2,2272.5 1198.9,2253.4 1202.8,2210.4 1207.8,2224.5 1211.1,2263.4 1214.4,2231.9 1218.8,2254.7 1223.8,2279.4 1227.7,2253.1 1233.8,2256.4 1236.8,2229.4 1239.3,2227.5 1246,2235 1248.1,2258.6 1253,2263.5 1258,2221 1262.3,2266.6 1266.3,2275.2 1270.5,2239.2 1272.7,2229.2 1276.3,2305.5 1279.9,2238.7 1286.1,2240.2 1287.7,2239.7 1294.2,2235.5 1296.2,2272.6 1301.4,2255.6 1305.8,2256.8 1308.9,2247.6 1313.1,2250.8 1317.3,2281.5 1322.1,2273.3 1327.2,2262.4 1330.1,2293.4 1334.2,2262.5 1338.5,2216.2 1341.8,2264.6 1345.2,2280.2 1350.9,2295.6 1353.6,2269 1358.5,2217.3 1361.9,2275 1365.1,2311.2 1371.5,2257.5 1376.2,2255.9 1379.4,2310.7 1384.2,2270.9 1385.7,2259.5 1390.6,2314.6 1393.5,2238.8 1399.3,2270.6 1404.3,2272 1407.5,2273.5 1412.7,2252.5 1414.2,2261.9 1419.4,2277.9 1422.7,2242.7 1426.7,2235.7 1431.2,2231.3 1434.6,2264.9 1438.4,2236.6 1442.9,2269.9 1448.8,2258.7 1450.5,2281.2 1455.1,2334.3 1460.6,2255.9 1463.6,2229.3 1468.6,2269.4 1472.7,2265.4 1476.1,2263.3 1480.6,2229.2 1484.1,2215.5 1489.8,2250.1 1493.4,2268.9 1497,2246.2 1500.6,2246.8 1504.4,2251.9 1507.7,2228.8 1512.1,2260.2 1515.5,2260.8 1521.7,2234.5 1525,2252.2 1528.5,2239.2 1534,2228.5 1536,2253 1540.8,2302.5 1546,2221.7 1551.1,2318.5 1555.2,2293.7 1559,2168.4 1560.3,2186.3 1564.3,2223.6 1568.5,2228.7 1575.3,2009.4 1578.2,2009.3 997,2300.5 981.3,2105.9 973.6,2333.2 976.6,2335.9 992.3,2109.4 976.6,2331.6 1582.7,2313.8 1582.6,2268.2 1562.9,2313.7 1583.5,2166.1 1584.1,2321.8 1574.6,2283.9 1221.5,1900 1390,2144 1398,2163 1141,2174" fill="none" stroke="none" marker-start="url(#spk)" marker-mid="url(#spk)" marker-end="url(#spk)"/><polyline points="970.7,1962.7 977.4,2065.3 980.4,2057.6 984.9,2113 989.3,2303.7 992.9,2329.7 996.6,2226.6 1001.6,2187.8 1003.7,2320.4 1009.7,2317.6 1011.6,2225.3 1015.5,2218.8 1020.2,2246.6 1024.7,2225.9 1028.7,2237.4 1033.1,2202.1 1038.6,2229.2 1042.2,2231.2 1044.9,2271 1047.8,2247.5 1053.6,2207.6 1057.1,2239.4 1060.6,2235 1065.7,2246.2 1069.1,2237.6 1073.2,2227.8 1076.9,2264.7 1083,2236.4 1086.3,2233.5 1091,2244.9 1094,2249 1096.8,2243.2 1102.9,2249.5 1107.2,2237.3 1109.7,2231.8 1114.7,2218.7 1119.4,2243 1122.5,2246.2 1126.8,2250.9 1130,2258.4 1133.1,2241.2 1138.7,2259.5 1143.5,2216.2 1147.9,2271.4 1152.3,2241.5 1155.1,2229.9 1160.1,2237.6 1163.7,2264 1167.3,2249.2 1169.9,2256 1174.9,2230.7 1180.1,2240.2 1182.9,2261.6 1188.3,2247.3 1190.2,2252.6 1197.2,2232 1201.1,2242.6 1204.6,2228.5 1208.3,2257.1 1213.2,2269 1215.2,2270 1219.7,2250.3 1222.5,2246.3 1228.7,2258.4 1233.6,2268.8 1236,2242.6 1239.2,2246.1 1245.2,2236.1 1248.2,2259.4 1252,2245.7 1255.9,2230.6 1259.7,2231 1265.3,2251.9 1267.5,2241 1273.2,2263.8 1277.8,2225 1280.8,2234.3 1286.5,2256.4 1288.6,2244.9 1294.8,2266.1 1296.4,2254.2 1301.6,2248.2 1305.8,2249.9 1309.9,2253.9 1314.1,2237 1316.3,2224.2 1321.7,2261.6 1325.2,2213.8 1331,2223.5 1333.1,2217.6 1338.7,2250.1 1340.8,2228.2 1345.2,2244.1 1349.1,2245.3 1354.7,2257.8 1359.1,2253.1 1363.5,2245.5 1367.9,2217.3 1372.1,2212.1 1373.4,2211.9 1377.4,2245.3 1382.4,2239.8 1386.7,2226.1 1389.6,2214.9 1394.7,2222.1 1397.8,2231.1 1403.4,2219.6 1407.2,2248.8 1412.8,2238.7 1416.2,2231.7 1420.1,2231.4 1423.4,2239.8 1427,2230.7 1431.2,2202.4 1435,2211.8 1440.7,2233.2 1444,2229.5 1449,2245 1452,2246.8 1455.1,2237.7 1460.6,2243.2 1462.8,2238.4 1468.1,2250.9 1471.9,2232.4 1477.7,2245.3 1481.4,2241.8 1482.8,2236.2 1487,2222.3 1491.8,2222.6 1496.7,2239.7 1499.3,2243.7 1504.6,2273.5 1508.8,2247.1 1514.4,2243.9 1517.6,2234.1 1520.7,2238.8 1526,2222.8 1530.5,2247.7 1533.7,2238.3 1535.8,2238.2 1542.6,2249 1546.3,2330.6 1549.3,2274.7 1552.9,2199 1558.2,2309.8 1563,2291 1566.9,2337.8 1571.3,2312.3 1573.2,2317 1579.5,2295.8 987.9,2283.5 978.5,2252.7 985.8,2030 974.2,2220.5 974.9,2229.2 990.9,2331.2 1566.8,2163.8 1585.7,2133.3 1569.2,2243.8 1561.6,2122.7 1583.8,2245 1584.5,2280.7 1439,1866 999,1932 1527,2011 1538,2016 1530,2042 1580,1998 1541,2093 967,2309 1237,2170" fill="none" stroke="none" marker-start="url(#sgd)" marker-mid="url(#sgd)" marker-end="url(#sgd)"/><polyline points="971.5,2127 977.4,2172.4 980.8,2072.5 983.1,2313.3 989,2124.8 992.5,2308.3 996.4,2294.6 1000,2260.4 1003.8,2242.5 1009.7,2288.1 1013.1,2273 1018,2283.9 1019.8,2277.2 1025.7,2278.2 1029.1,2279.1 1034.1,2276.2 1037.1,2278.6 1041.4,2274.1 1044,2273.7 1049.6,2260.7 1052.4,2282.8 1056,2275.6 1062.1,2281.5 1065.4,2280.3 1070.1,2293 1072.3,2265.8 1078.2,2281.4 1082.6,2272.9 1085.1,2277.8 1090.8,2278.5 1094.1,2288.8 1097,2269.9 1101.2,2275.1 1105.3,2306.5 1108.9,2274.2 1114.1,2280.7 1118.8,2272.1 1121.3,2270.2 1126.5,2270.8 1130.9,2263.3 1136,2280.8 1138.7,2282.2 1142.9,2286.6 1147.4,2264.6 1150.7,2278.2 1154.3,2250.3 1157.8,2271.7 1164.4,2282.9 1166.5,2259.3 1172.8,2257.8 1174.1,2271.5 1178.1,2258.7 1183.9,2277.7 1186.1,2255.2 1193.2,2254.6 1196.4,2278.4 1199,2257.6 1202.5,2272 1206.5,2263 1213.2,2252.5 1214.6,2262.1 1221.5,2270.8 1225.1,2274.5 1226.9,2254.2 1232,2262.7 1236.6,2264.6 1239.7,2272.7 1245.9,2269.9 1250,2254.9 1253.5,2261.3 1255.4,2255 1262.4,2258.2 1265,2250.3 1269.1,2262.6 1274.5,2251.2 1277.1,2262.1 1282.5,2245.7 1286.5,2269.8 1288.7,2263.7 1292.1,2244.3 1295.9,2270.6 1301.3,2252.9 1306.9,2245.3 1308.9,2251.7 1314.4,2257.7 1318.5,2272 1322.1,2263.9 1326.5,2264.8 1330.7,2292.5 1332.8,2284.3 1337,2270.5 1342.5,2266.9 1347.3,2270 1349,2276.4 1354.6,2260.8 1356.9,2272.6 1363.2,2276.7 1366,2276.5 1370.9,2253.8 1375.9,2252.7 1380.1,2261.8 1384,2275.2 1385.7,2253.7 1392.5,2271.6 1393.8,2254.4 1399.8,2249.8 1401.5,2276.7 1408.3,2264.2 1411.8,2248.1 1415.9,2280 1418.9,2267.7 1424.1,2255.8 1427.9,2272.7 1431.6,2264.3 1434,2276.7 1440.8,2252.2 1442.3,2259.1 1446.6,2270.1 1451,2297 1455.1,2270.3 1461.1,2267.8 1464.6,2265.4 1467.3,2275.1 1472.8,2277.6 1476.6,2275.6 1480.2,2262.2 1483.8,2275.7 1488.8,2265.4 1493.4,2260 1495.2,2283.7 1499.9,2281.3 1503.4,2272 1507.3,2278.4 1512.8,2272.3 1516.8,2282.5 1521.1,2265 1523.6,2283.8 1529.6,2258.1 1534.4,2263.3 1538.5,2336 1543,2309.2 1544.1,2312.3 1548.9,2267 1554.9,2310.9 1557.5,2221.9 1562.4,2141.7 1566.7,2135.3 1570.4,2097.6 1574.6,2173 1578.6,2317.7 994.6,2286.1 969.2,2206.2 978.3,2329.9 975.8,2340 971.1,2269.2 969.6,2340 1564,2034.7 1552.6,2296.1 1549,2336.5 1580,2340 1583.7,2207.7 1555.7,2252.7 1270,1866 1582,1931 965,2057 975,2153 1575,2310 1575,2087" fill="none" stroke="none" marker-start="url(#sgr)" marker-mid="url(#sgr)" marker-end="url(#sgr)"/><polyline points="972.8,2312.2 975.3,2214.5 979.8,2128.3 981.3,2187.9 986.9,2252 988.3,2118.8 991.6,2235.7 996.2,2285.6 998.7,2251.9 1004.6,2318.4 1006.7,2275.3 1011.3,2304.7 1014.7,2254.2 1018.2,2266.4 1020.6,2255.8 1024,2250.2 1027.6,2274.3 1031.5,2257.3 1033.8,2263 1038.9,2272.4 1040.5,2281.7 1045.6,2305 1047.7,2254 1053.1,2282.7 1055.9,2269.1 1058.6,2257.1 1061.5,2274 1067.3,2255.3 1069.2,2293.2 1073.7,2227.3 1076.4,2262.6 1081.2,2272.5 1082.8,2253.4 1086.8,2254.2 1089.1,2272.8 1093.9,2246.3 1097.4,2284.2 1100.4,2251 1103.4,2269 1107.2,2263.7 1110,2272.3 1114,2306.7 1117,2272.7 1121.2,2272.8 1124,2301.6 1129.9,2296.2 1133,2267.6 1134.5,2276.4 1139.8,2266.6 1143.6,2269.2 1146.8,2266 1149.3,2239.7 1152.5,2280.6 1155.5,2296.7 1159.7,2286.5 1164.2,2267.6 1166.5,2262.8 1171.5,2280.4 1173.4,2274.2 1176.7,2300.7 1180.2,2279.7 1183.8,2294.1 1187.1,2281.2 1192,2272.5 1194.9,2289.6 1197.2,2262.5 1201.8,2271.2 1204.9,2275.8 1208.9,2284.3 1212.6,2268.7 1215.3,2276.1 1219.7,2294.7 1222.6,2318.9 1224.9,2276.7 1229.2,2291.2 1232.9,2283 1235.5,2268.5 1238.8,2298.5 1243,2293.6 1247.1,2273.1 1249.6,2271.5 1254.2,2263.7 1258.9,2279.9 1261.5,2280.5 1265.1,2270.6 1268.5,2297.6 1272.1,2278.3 1275.3,2263 1277.3,2284.1 1282,2274.1 1286.2,2252.1 1289.1,2290.5 1291.9,2318.5 1296.3,2250.4 1300.2,2288.8 1303.2,2277.8 1307.6,2322 1311,2259.1 1314,2271.6 1317.3,2303.6 1321.3,2274.8 1323.7,2247.2 1327.4,2315.7 1330.7,2314.5 1335.4,2279.9 1337,2293.2 1341.4,2293.8 1344,2271.6 1346.7,2286.5 1352.4,2285.5 1354.7,2280 1358.5,2324.3 1361.4,2324.4 1366.3,2297.5 1370.1,2310.8 1372.3,2332.2 1377.4,2272.4 1378.1,2255 1382.9,2301.6 1387.8,2259.4 1389.4,2288 1393.3,2282.1 1398.1,2262.5 1399.7,2275.8 1402.8,2277 1407.4,2319.6 1411.3,2259.3 1413,2270.3 1417.5,2292 1420.5,2272.3 1424.7,2277.2 1427,2342.3 1431.9,2310 1436.4,2290 1437.4,2245.4 1441.4,2280.1 1444.4,2259.4 1450.2,2266.2 1452.6,2268.7 1457.1,2259.4 1460.7,2255 1464.3,2302.9 1467.8,2264.9 1470.5,2260.2 1474,2277.6 1476.1,2268.2 1480.5,2257.3 1485.2,2272.4 1488.2,2267.6 1489.8,2263 1495.1,2264.6 1498.5,2245.1 1500.5,2313.7 1506.1,2270.6 1508.1,2259.7 1510.9,2287.6 1516.5,2278.7 1519.2,2268.5 1521.7,2258.1 1525.7,2282.1 1529.2,2278.4 1533.9,2259.8 1536.5,2291.1 1540.2,2291.2 1543.7,2234.9 1545.9,2270.5 1550.5,2333.3 1553,2235.2 1556.4,2197.8 1561,2320.3 1564.3,2111 1567.3,2187.4 1571.2,2105.1 1574.8,2328 1577.6,2037.7 970.5,2303.5 989.7,2308 966.1,2212.2 992.9,2213 999.5,2316.9 990.9,2266.1 1562.8,2301.7 1576.8,2228.1 1561.7,2061.8 1566,2187.6 1560.9,2274.3 1575.3,2174.2 1118.5,1866 967,2000 985,2332 1250,2330 1320,2325 1415,2322 1440,2322 1470,2325 1580,1970 1580,1985 1270,2318 1255,2325" fill="none" stroke="none" marker-start="url(#sbl)" marker-mid="url(#sbl)" marker-end="url(#sbl)"/><polyline points="971.7,2316.7 976,1983.7 978.6,2020.5 982.2,2109.7 987,2188.4 989.5,2137.9 994.3,2184.3 995.3,2307.3 1001.1,2193.3 1002.9,2344.2 1007.9,2223.5 1011,2235.5 1015.1,2215.7 1017.5,2229.3 1021.1,2231.4 1023,2236.5 1027,2225.9 1031.2,2239.5 1035.2,2233.3 1037.7,2214.7 1042.5,2220.6 1045.4,2218.3 1049.5,2217 1051,2246 1056.5,2244.4 1057.7,2241.8 1063.5,2220.2 1066.6,2226.2 1070.3,2234.6 1073.6,2222 1076.1,2233 1081.2,2224 1084.8,2233.9 1088.3,2235.7 1091.1,2239.4 1093.6,2215.5 1096.7,2235.9 1101.1,2235.6 1104.5,2241.3 1107.6,2238.8 1112.5,2230 1114.1,2231 1117.8,2238.7 1123.1,2220.1 1126.6,2251.1 1129.3,2239.4 1131.3,2245.7 1135,2230.9 1139.7,2240.5 1142.7,2232.2 1145.1,2243 1148.5,2230.1 1153.2,2235.9 1155.9,2235.4 1161.1,2224.9 1164.8,2241.2 1168.2,2229.9 1170.4,2243 1174.1,2224.5 1176.8,2233.4 1182,2221.3 1185,2229.5 1187.3,2233.1 1191.2,2221 1193.5,2242.3 1198.3,2253 1202.4,2212.3 1205.9,2194.7 1209.6,2202.8 1212.2,2201.6 1215.9,2229.1 1219.5,2221.8 1222.7,2243.3 1227.5,2265.1 1231,2226 1231.9,2235.4 1237.6,2229.7 1240.3,2224.4 1243,2229.5 1246.1,2235.5 1249.8,2238 1253.2,2218 1258.5,2217.4 1261.5,2234.4 1265.2,2207.5 1267.4,2210.1 1271.2,2224.7 1276.1,2199.6 1278.8,2226.2 1280.8,2221.6 1286.3,2231.7 1288.2,2216.7 1292.3,2227.2 1295.7,2229.6 1298.8,2207.9 1302.4,2207.7 1306,2213.7 1308.6,2200.8 1314.4,2193.6 1317.1,2201.5 1320.4,2222 1322.9,2198.7 1326.4,2208.1 1330.6,2219.6 1333.7,2196.5 1337,2200.4 1340.6,2199.4 1344.6,2196.3 1349.2,2218.4 1351.3,2194.9 1355.6,2205.6 1357.9,2209.5 1361.1,2234.9 1366.1,2207.8 1368.9,2221.9 1371.8,2221.4 1374.7,2234.3 1378.5,2207.6 1382.1,2197.2 1387.2,2216.2 1390.5,2207.5 1393.1,2224 1398,2208.4 1400.8,2217.1 1404.4,2218 1406.4,2239 1412,2227.8 1414.7,2225.9 1419.2,2216.6 1422.1,2207.1 1425.1,2197.9 1429.4,2205.8 1430.7,2210.5 1436.5,2204.2 1437.7,2185 1441.1,2206.4 1445.6,2200.7 1448.4,2213.8 1453.3,2192.6 1455.9,2201.4 1459.5,2214 1462.6,2184.7 1467.4,2220 1469,2204.2 1473.1,2196.1 1478.1,2219.6 1480.8,2214.2 1483.6,2201.9 1488.5,2219.7 1491.3,2223.7 1495.2,2211.8 1497.6,2226.3 1501.6,2237.1 1504.1,2229 1508.8,2210.6 1513.2,2212.7 1515.4,2232.4 1518.2,2190.5 1522.8,2213.9 1525.1,2214 1528.9,2206.2 1533.2,2206.8 1535.9,2235.4 1538.8,2214.1 1542.9,2222.3 1547.6,2293.8 1549.9,2314.2 1553.1,2194.2 1557.8,2167.8 1560.4,2117.6 1563.6,2178.9 1568.8,2162.8 1572.1,2283.1 1574.1,2038.5 1577.6,2331.5 990.9,2335 972.9,2127.4 983.3,2144 991.6,2329.7 994,2321.6 970.7,2144.7 1553.4,2301.6 1570.6,2150.8 1574.2,2263.2 1546.3,2331.6 1548.3,2073.9 1546.1,2313.7 967,1866 965,1931 982,1975 1033,2122 986,2100 1000,2340 1545,2073 1566,2090" fill="none" stroke="none" marker-start="url(#spu)" marker-mid="url(#spu)" marker-end="url(#spu)"/><rect x="1050" y="1921.8" width="462" height="34.6" fill="#ff80c0"/><rect x="1050" y="1921.8" width="8.3" height="34.6" fill="#e9177f"/><rect x="1504" y="1921.8" width="8" height="34.6" fill="#e9177f"/><path d="M1058.3,1921.8v34.6M1504,1921.8v34.6" stroke="#222" stroke-width="1"/><text x="1049" y="1947.8" font-size="26.5" fill="#000">2%</text><text x="1513" y="1947.8" font-size="26.5" fill="#000" text-anchor="end">2%</text><text x="1280" y="1947.8" font-size="26.5" fill="#000" text-anchor="middle">96%</text><rect x="1050" y="1964.8" width="462" height="34.6" fill="#f4a971"/><rect x="1050" y="1964.8" width="26.3" height="34.6" fill="#f08c3c"/><rect x="1484.6" y="1964.8" width="27.4" height="34.6" fill="#f08c3c"/><path d="M1076.3,1964.8v34.6M1484.6,1964.8v34.6" stroke="#222" stroke-width="1"/><path d="M1050,1960.6H1512" stroke="#777" stroke-width="1" stroke-dasharray="2 1.5"/><path d="M1058.3,1956.4L1076.3,1964.8M1504,1956.4L1484.6,1964.8" stroke="#8b1a1a" stroke-width="1.6"/><text x="1049" y="1990.8" font-size="26.5" fill="#000">6%</text><text x="1513" y="1990.8" font-size="26.5" fill="#000" text-anchor="end">6%</text><text x="1280" y="1990.8" font-size="26.5" fill="#000" text-anchor="middle">88%</text><rect x="1050" y="2008.6" width="462" height="34.6" fill="#40ff40"/><rect x="1050" y="2008.6" width="35.7" height="34.6" fill="#1cd81c"/><rect x="1475.6" y="2008.6" width="36.4" height="34.6" fill="#1cd81c"/><path d="M1085.7,2008.6v34.6M1475.6,2008.6v34.6" stroke="#222" stroke-width="1"/><path d="M1050,2004H1512" stroke="#777" stroke-width="1" stroke-dasharray="2 1.5"/><path d="M1076.3,1999.4L1085.7,2008.6M1484.6,1999.4L1475.6,2008.6" stroke="#8b1a1a" stroke-width="1.6"/><text x="1049" y="2034.6" font-size="26.5" fill="#000">8%</text><text x="1513" y="2034.6" font-size="26.5" fill="#000" text-anchor="end">8%</text><text x="1280" y="2034.6" font-size="26.5" fill="#000" text-anchor="middle">84%</text><rect x="1050" y="2052" width="462" height="34.6" fill="#55b8ff"/><rect x="1050" y="2052" width="41" height="34.6" fill="#1ca0f0"/><rect x="1470.3" y="2052" width="41.7" height="34.6" fill="#1ca0f0"/><path d="M1091,2052v34.6M1470.3,2052v34.6" stroke="#222" stroke-width="1"/><path d="M1050,2047.6H1512" stroke="#777" stroke-width="1" stroke-dasharray="2 1.5"/><path d="M1085.7,2043.2L1091,2052M1475.6,2043.2L1470.3,2052" stroke="#8b1a1a" stroke-width="1.6"/><text x="1049" y="2078" font-size="26.5" fill="#000">9%</text><text x="1513" y="2078" font-size="26.5" fill="#000" text-anchor="end">9%</text><text x="1280" y="2078" font-size="26.5" fill="#000" text-anchor="middle">82%</text><rect x="1050" y="2095" width="462" height="34.6" fill="#a040ff"/><rect x="1050" y="2095" width="54" height="34.6" fill="#7b10f0"/><rect x="1456" y="2095" width="56" height="34.6" fill="#7b10f0"/><path d="M1104,2095v34.6M1456,2095v34.6" stroke="#222" stroke-width="1"/><path d="M1050,2090.8H1512" stroke="#777" stroke-width="1" stroke-dasharray="2 1.5"/><path d="M1091,2086.6L1104,2095M1470.3,2086.6L1456,2095" stroke="#8b1a1a" stroke-width="1.6"/><text x="1049" y="2121" font-size="26.5" fill="#000">12%</text><text x="1513" y="2121" font-size="26.5" fill="#000" text-anchor="end">12%</text><text x="1280" y="2121" font-size="26.5" fill="#000" text-anchor="middle">76%</text><path d="M1050,1916V2134M1512,1916V2134" stroke="#8b1a1a" stroke-width="2.2"/></g>
<g id="nitrate"><path d="M1726.2,1833V2373.5" stroke="#d9534f" stroke-width="2"/><path d="M2396.8,1833V2373.5" stroke="#3b7ad9" stroke-width="2"/><path d="M1716,1860H1726" stroke="#d9534f" stroke-width="2"/><text x="1707" y="1871" font-size="31" fill="#d9534f" text-anchor="end">1.0</text><path d="M1716,1967.4H1726" stroke="#d9534f" stroke-width="2"/><text x="1707" y="1978.4" font-size="31" fill="#d9534f" text-anchor="end">0.8</text><path d="M1716,2075H1726" stroke="#d9534f" stroke-width="2"/><text x="1707" y="2086" font-size="31" fill="#d9534f" text-anchor="end">0.6</text><path d="M1716,2183.6H1726" stroke="#d9534f" stroke-width="2"/><text x="1707" y="2194.6" font-size="31" fill="#d9534f" text-anchor="end">0.4</text><path d="M1716,2291.7H1726" stroke="#d9534f" stroke-width="2"/><text x="1707" y="2302.7" font-size="31" fill="#d9534f" text-anchor="end">0.2</text><text transform="translate(1647 2102) rotate(-90)" font-size="40.3" fill="#d9534f" text-anchor="middle">Normalized Nitrate Concentration</text><text transform="translate(2452 2108) rotate(-90)" font-size="40" fill="#3b7ad9" text-anchor="middle">Normalized Cation Concentration</text><g fill="#000" stroke="#272727" stroke-width="1"><text x="1737" y="2416" font-size="30" text-anchor="middle">-50</text><text x="1899.5" y="2416" font-size="30" text-anchor="middle">-25</text><text x="2061" y="2416" font-size="30" text-anchor="middle">0</text><text x="2221" y="2416" font-size="30" text-anchor="middle">25</text><text x="2383" y="2416" font-size="30" text-anchor="middle">50</text><text x="2060" y="2454" font-size="30" text-anchor="middle">Normalized Percentage of</text><text x="2062" y="2491" font-size="30" text-anchor="middle">Droplet Radius Away from Center</text><text x="1796" y="1869" font-size="34">Lab-Based</text><text x="2121" y="1867" font-size="34">Model predicition</text><text x="1912" y="1920" font-size="39">Pearson's <tspan font-style="italic">r</tspan> = 0.84</text><text x="1890" y="2262" font-size="37">Lab-based Results</text><text transform="translate(1803 2038) rotate(-90)" font-size="38" text-anchor="middle">Model Predictions</text><g font-family="'Liberation Serif', 'Times New Roman', serif" font-size="19" stroke-width=".8"><text x="1816" y="1903.2">1.0</text><text x="1816" y="1960.1">0.8</text><text x="1816" y="2017.1">0.6</text><text x="1816" y="2074.1">0.4</text><text x="1816" y="2131.5">0.2</text><text x="1816" y="2188.5">0.0</text><text x="1952" y="2223.5" text-anchor="middle">0.2</text><text x="2085" y="2223.5" text-anchor="middle">0.4</text><text x="2218.6" y="2223.5" text-anchor="middle">0.6</text></g></g><path d="M1885,2200L2000,2108.5L2175,1983L2280,1902.5V1950L2175,2015L2000,2129Z" fill="#553c3c"/><path d="M1890,2197L2277,1929" stroke="#f0202a" stroke-width="2.6" stroke-dasharray="11 7" fill="none"/><polyline points="1960.9,2178.2 1962.9,2173.1 1902.8,2163.4 1945,2180.6 1905.4,2170.7 1965.3,2169.8 1895.4,2174.1 1962.1,2181 1936.1,2178.4 1920.3,2174.9 1900.4,2180.1 1910.4,2164.1 1909.3,2174.3 1940.6,2178.4 1930.2,2181.8 1964.4,2177.5 1976.5,2181.9 1965.2,2157.3 1901.1,2177.3 1959.4,2182 1938.7,2170 1959,2172.8 1939.9,2156.4 1897.8,2157.6 1964.7,2157.3 1973.4,2179.3 1938.1,2180.1 1955.7,2165.8 1958.3,2154.6 1896,2157.8 1935.1,2169 1977.1,2179.9 1903,2149 1951.5,2180.5 1897.8,2159.4 1901.1,2179.2 1918.3,2157.8 1970.8,2166.8 1971.5,2183.5 1898.3,2162.7 1933.9,2181.8 1895.3,2156.8 1893.7,2152.7 1902.6,2164.5 1926.2,2150.8 1904.5,2178.6 1915.2,2182.7 1907,2176.9 1895.1,2172.3 1935.6,2180.6 1925.2,2158.5 1944.1,2180.7 1934.6,2180.2 1901.8,2153.2 1945.9,2180 1931.6,2171.2 1909.1,2178.5 1894.6,2180.3 1905,2155.9 1936.4,2166 1950.7,2181.9 1973.9,2174.1 1925.7,2165.7 1952.1,2179 1958.3,2173.2 1929.4,2155.4 1914.3,2162.3 1965.9,2159.2 1920.5,2159.9 1975.5,2169.3 1957.2,2165.4 1956.7,2183.6 1959.4,2164.9 1927,2180.7 1966.8,2164.4 1940.8,2165.3 1953.1,2181.2 1950.4,2177.6 1905.3,2165.9 1897.2,2162 1970.4,2166.2 1950.6,2172.7 1897.8,2158.3 1942.9,2180.1 1947.4,2178 1906.7,2172.2 1975.4,2165.7 1946,2176.5 1974.2,2162.3 1899.7,2170.7 1931.6,2161 1897,2162.3 1956.6,2173.9 1976.4,2170.5 1965.3,2182.2 1895.7,2182.9 1959.4,2156.4 1961.6,2176.9 1962.5,2162.7 1963.1,2174.8 1939.1,2180.6 1939.8,2178.3 1977.2,2164.3 1908.2,2167.2 1933.9,2157.1 1920.4,2176.5 1932.8,2175.9 1972.9,2164.1 1925.9,2172.6 1909.6,2166.4 1890,2183.6 1895.2,2183.6 1900.4,2183.6 1905.6,2183.6 1910.8,2183.6 1916,2183.6 1921.2,2183.6 1926.4,2183.6 1931.6,2183.6 1936.8,2183.6 1942,2183.6 1947.2,2183.6 1952.4,2183.6 1957.6,2183.6 1962.8,2183.6 1968,2183.6 1973.2,2183.6 1978.4,2183.6 1888,2139 1892,2149 1882,2158 1920,2129 1948,2124 1947,2106 1946,2078 1966,2066 1940,2140 1955,2098 1975,2089 1985,2113 1995,2099 1977,2135 1968,2140 1916,2032 1932,2050 2092,2009 2136.5,1980.5 2240,1944 2280,1897 2016,2184 2033.6,2184 2046,2184 2086,2184 2101.4,2184 2230,2184" fill="none" stroke="none" marker-start="url(#nrc)" marker-mid="url(#nrc)" marker-end="url(#nrc)"/><circle cx="2240" cy="1944" r="5.3" fill="#ffb0b0"/><rect x="1903" y="2020" width="43" height="46.7" fill="none" stroke="#ebbe6e" stroke-width="3.4"/><rect x="2000.3" y="2171" width="250.7" height="28.7" fill="none" stroke="#ebbe6e" stroke-width="3.4"/><rect x="1736" y="2298.5" width="43.7" height="45.5" fill="none" stroke="#ebbe6e" stroke-width="3.4"/><rect x="2264" y="2302" width="116" height="41.7" fill="none" stroke="#ebbe6e" stroke-width="3.4"/><polyline points="1745.6,2280.3 1751.3,2303.1 1754.1,2286 1759.9,2289.1 1763.4,2280.7 1768.3,2304.7 1773.6,2307.3 1779.3,2312.8 1784.7,2292.6 1787.9,2303.2 1792.5,2318 1798.7,2300.2 1802.3,2305.8 1807.2,2306.5 1812.4,2288.7 1818.1,2303.3 1823.4,2311.7 1828.1,2288.9 1832.1,2280.3 1838,2311.8 1841.3,2316.1 1847.2,2298.9 1849.9,2284.6 1856,2293.2 1862.1,2309.3 1864.5,2308.4 1870.1,2328.6 1875.8,2309 1881.4,2308.8 1885,2318.6 1891.2,2320.8 1894.2,2326.1 1899.2,2336.2 1903.7,2329 1910.2,2320.8 1912.7,2326.1 1919.2,2302.3 1922.9,2314.2 1929,2342 1933.4,2320.8 1938.6,2312 1941.7,2315.2 1948.6,2303.7 1952.9,2313.7 1958.7,2297.8 1962.7,2310.9 1968.4,2328.4 1972.3,2314 1977.6,2321.3 1982.7,2328.5 1985.9,2312.4 1991.6,2306.7 1995,2314 2001.7,2322.7 2005.9,2306.9 2010.6,2321 2015.2,2294.3 2020,2312.5 2024.1,2295.4 2031,2305.2 2036.3,2304.7 2039.7,2294.3 2045.3,2308 2048.1,2326.7 2055.7,2286.4 2059.4,2298.9 2065,2302 2067.9,2309.4 2074.3,2316.3 2078.4,2307.3 2084.1,2305.9 2088.9,2317.8 2091.8,2301.8 2097.7,2324.7 2103.9,2299.3 2106.5,2313.1 2113.2,2314.7 2116.7,2313.7 2122.8,2313.3 2125.5,2327.4 2130.9,2336.4 2135.2,2305.8 2142.6,2308.5 2145.7,2316.2 2152.3,2323.3 2157,2333.5 2161.8,2315.7 2164.2,2287.5 2170.8,2328.4 2173.6,2310.6 2179.3,2302 2185.4,2317.3 2188.6,2330.1 2195.8,2312.4 2199.2,2303.3 2204.6,2293.4 2209.8,2328.2 2213.5,2312.9 2218.2,2310.8 2224.6,2301.9 2229.1,2320.9 2232.2,2283.8 2238.2,2318.8 2243.2,2297.5 2246.3,2304.4 2252.4,2303 2255.8,2303.2 2261.4,2310.5 2265.7,2298.9 2272.5,2291.7 2277.5,2301.1 2281.4,2289.6 2287,2295.1 2290.7,2310.9 2294.4,2310.6 2300.4,2323.1 2305.3,2313.2 2311.5,2312.2 2316.1,2292.1 2320.2,2330.1 2325.6,2327.3 2329.5,2335.3 2333.4,2315.1 2337.8,2313.5 2345,2315.2 2348.4,2303.7 2355.1,2313.6 2359.6,2333 2363.2,2291.9 2367.9,2300.6 2373.8,2270.5 2376.9,2246.2 1739,2027 1742.6,2060 1746.7,2143.6 1750.5,2179 1759,1859 2384,1860 2380,2068 2368,2173 2353,2184 2340,2217 2332,2227 2372,2217 2348.6,2239 1766,2253 1775,2262 1784,2271 1842,2290 1961,2283 1987,2272 1905,2346 1890,2345 1923,2350" fill="none" stroke="none" marker-start="url(#ndi)" marker-mid="url(#ndi)" marker-end="url(#ndi)"/><polyline points="1738.8,1893 1738.8,1898.2 1738.9,1903.4 1739,1908.5 1739.1,1913.7 1739.2,1918.9 1739.3,1924.1 1739.4,1929.3 1739.6,1934.4 1739.7,1939.6 1739.9,1944.8 1740.1,1950 1740.2,1955.1 1740.4,1960.3 1740.6,1965.5 1740.8,1970.7 1740.9,1975.8 1741.1,1981 1741.2,1986.2 1741.4,1991.4 1741.5,1996.6 1741.7,2001.7 1741.8,2006.9 1742,2012.1 1742.1,2017.3 1742.3,2022.5 1742.5,2027.6 1742.6,2032.8 1742.8,2038 1743,2043.2 1743.2,2048.3 1743.4,2053.5 1743.6,2058.7 1743.8,2063.9 1744.1,2069 1744.4,2074.2 1744.7,2079.4 1745,2084.5 1745.4,2089.7 1745.7,2094.9 1746.1,2100.1 1746.5,2105.2 1746.9,2110.4 1747.3,2115.5 1747.8,2120.7 1748.2,2125.9 1748.7,2131 1749.2,2136.2 1749.7,2141.3 1750.3,2146.5 1750.9,2151.6 1751.5,2156.8 1752.1,2161.9 1752.8,2167.1 1753.4,2172.2 1754.1,2177.3 1754.8,2182.5 1755.5,2187.6 1756.1,2192.8 1756.8,2198 1757.5,2203.1 1758.3,2208.3 1759,2213.4 1759.9,2218.6 1760.8,2223.6 1761.8,2228.6 1762.9,2233.6 1764.2,2238.7 1765.7,2243.9 1767.4,2249.1 1769.3,2254.2 1771.4,2259.2 1773.7,2264 1776.1,2268.4 1778.7,2272.3 1781.6,2275.9 1785.1,2279.3 1789.1,2282.6 1793.5,2285.8 1798.2,2288.7 1803.1,2291.3 1808.1,2293.5 1813.1,2295.2 1817.8,2296.5 1822.7,2297.6 1827.7,2298.5 1832.8,2299.3 1837.9,2300.1 1843.1,2300.8 1848.4,2301.4 1853.6,2302 1858.9,2302.5 1864.1,2303.1 1869.3,2303.7 1874.4,2304.2 1879.6,2304.7 1884.7,2305.2 1889.9,2305.7 1895,2306.2 1900.2,2306.6 1905.4,2307 1910.5,2307.3 1915.7,2307.7 1920.9,2308.1 1926,2308.4 1931.2,2308.7 1936.4,2309.1 1941.6,2309.3 1946.7,2309.6 1951.9,2309.8 1957.1,2309.9 1962.3,2310 1967.4,2310.1 1972.6,2310.2 1977.8,2310.3 1983,2310.4 1988.2,2310.4 1993.3,2310.5 1998.5,2310.6 2003.7,2310.6 2008.9,2310.7 2014.1,2310.8 2019.2,2310.8 2024.4,2310.8 2029.6,2310.9 2034.8,2310.9 2040,2310.9 2045.1,2311 2050.3,2311 2055.5,2311 2060.7,2311 2065.9,2311 2071,2311 2076.2,2311 2081.4,2311 2086.6,2311 2091.8,2310.9 2096.9,2310.9 2102.1,2310.9 2107.3,2310.9 2112.5,2310.8 2117.7,2310.8 2122.8,2310.8 2128,2310.7 2133.2,2310.7 2138.4,2310.6 2143.6,2310.6 2148.7,2310.5 2153.9,2310.4 2159.1,2310.3 2164.3,2310.1 2169.5,2309.9 2174.6,2309.7 2179.8,2309.4 2185,2309.1 2190.1,2308.8 2195.3,2308.5 2200.5,2308.2 2205.7,2307.8 2210.8,2307.4 2216,2306.9 2221.1,2306.5 2226.3,2306 2231.4,2305.4 2236.6,2304.8 2241.7,2304.2 2246.9,2303.5 2252,2302.7 2257.2,2301.9 2262.3,2301.1 2267.4,2300.2 2272.5,2299.2 2277.5,2298.2 2282.6,2297.2 2287.8,2296.1 2293,2294.9 2298.2,2293.6 2303.4,2292.2 2308.4,2290.6 2313.1,2288.9 2317.5,2287 2321.7,2284.7 2325.8,2281.7 2329.8,2278.3 2333.6,2274.4 2337.2,2270.2 2340.5,2265.8 2343.4,2261.4 2346,2257.1 2348.2,2252.7 2350.3,2248.1 2352.3,2243.4 2354.1,2238.5 2355.8,2233.4 2357.4,2228.4 2358.9,2223.2 2360.2,2218.1 2361.4,2213 2362.4,2208 2363.4,2203 2364.3,2197.9 2365.1,2192.8 2365.9,2187.7 2366.7,2182.5 2367.4,2177.4 2368.1,2172.2 2368.7,2167 2369.3,2161.9 2369.9,2156.7 2370.4,2151.6 2371,2146.4 2371.5,2141.3 2372,2136.1 2372.5,2131 2373,2125.8 2373.5,2120.6 2373.9,2115.5 2374.4,2110.3 2374.8,2105.1 2375.2,2100 2375.5,2094.8 2375.8,2089.6 2376.1,2084.5 2376.4,2079.3 2376.7,2074.1 2376.9,2069 2377.2,2063.8 2377.4,2058.6 2377.6,2053.4 2377.8,2048.2 2378,2043.1 2378.2,2037.9 2378.4,2032.7 2378.6,2027.5 2378.9,2022.4 2379.1,2017.2 2379.4,2012 2379.7,2006.9 2380,2001.7 2380.3,1996.5 2380.7,1991.3 2381,1986.2 2381.3,1981 2381.6,1975.8 2381.9,1970.7 2382.2,1965.5 2382.4,1960.3 2382.7,1955.1 2382.9,1950 2383.1,1944.8 2383.2,1939.6 2383.4,1934.4 2383.5,1929.3 2383.7,1924.1 2383.8,1918.9 2383.9,1913.7 2384.1,1908.5 2384.2,1903.4 2384.3,1898.2 2384.4,1893" fill="none" stroke="#2b6fe0" stroke-width="6" stroke-dasharray="30 38" stroke-linecap="round"/><path d="M2049,1856H2079" stroke="#2b6fe0" stroke-width="6" stroke-linecap="round"/><path d="M2363,1879V1962.4M2358,1879H2368M2358,1962.4H2368" stroke="#3b6db5" stroke-width="1.4" fill="none"/><text x="2319" y="1929" font-size="27" fill="#3b6db5">0.2</text></g>
<circle cx="427.5" cy="2785" r="206" fill="url(#vir0)" stroke="#e8e0f0" stroke-opacity=".75" stroke-width="1.6"/>
<rect x="339" y="2501" width="222" height="60.5" fill="#fff"/>
<text x="354" y="2545" font-size="36.5" fill="#000" >R=10 µm</text>
<polyline points="225,2617.5 231.8,2648 238.6,2676.6 245.4,2703.4 252.2,2728.3 259,2751.6 265.8,2773.2 272.5,2793.4 279.3,2812.1 286.1,2829.4 292.9,2845.5 299.7,2860.3 306.5,2874 313.3,2886.6 320.1,2898.2 326.9,2908.8 333.7,2918.4 340.5,2927.2 347.2,2935.1 354,2942.3 360.8,2948.7 367.6,2954.4 374.4,2959.4 381.2,2963.7 388,2967.5 394.8,2970.6 401.6,2973.1 408.4,2975 415.2,2976.4 422,2977.2 428.8,2977.5 435.5,2977.2 442.3,2976.4 449.1,2975 455.9,2973.1 462.7,2970.6 469.5,2967.5 476.3,2963.7 483.1,2959.4 489.9,2954.4 496.7,2948.7 503.5,2942.3 510.2,2935.1 517,2927.2 523.8,2918.4 530.6,2908.8 537.4,2898.2 544.2,2886.6 551,2874 557.8,2860.3 564.6,2845.5 571.4,2829.4 578.2,2812.1 585,2793.4 591.8,2773.2 598.5,2751.6 605.3,2728.3 612.1,2703.4 618.9,2676.6 625.7,2648 632.5,2617.5" fill="none" stroke="#fb6f70" stroke-width="11" stroke-linecap="round" stroke-linejoin="round"/>
<circle cx="962" cy="2782.5" r="206.5" fill="url(#vir1)" stroke="#e8e0f0" stroke-opacity=".75" stroke-width="1.6"/>
<rect x="869" y="2501" width="230" height="60.5" fill="#fff"/>
<text x="884" y="2545" font-size="36.5" fill="#000" >R=8 µm</text>
<polyline points="757.5,2682.5 764.3,2698.7 771.1,2714.3 777.9,2729.3 784.7,2743.9 791.5,2757.8 798.2,2771.2 805,2784.1 811.8,2796.4 818.6,2808.2 825.4,2819.4 832.2,2830.1 839,2840.3 845.8,2849.8 852.6,2858.9 859.4,2867.4 866.2,2875.3 873,2882.7 879.8,2889.6 886.5,2895.9 893.3,2901.6 900.1,2906.8 906.9,2911.5 913.7,2915.6 920.5,2919.1 927.3,2922.2 934.1,2924.6 940.9,2926.5 947.7,2927.9 954.5,2928.7 961.2,2929 968,2928.7 974.8,2927.9 981.6,2926.5 988.4,2924.6 995.2,2922.2 1002,2919.1 1008.8,2915.6 1015.6,2911.5 1022.4,2906.8 1029.2,2901.6 1036,2895.9 1042.8,2889.6 1049.5,2882.7 1056.3,2875.3 1063.1,2867.4 1069.9,2858.9 1076.7,2849.8 1083.5,2840.3 1090.3,2830.1 1097.1,2819.4 1103.9,2808.2 1110.7,2796.4 1117.5,2784.1 1124.2,2771.2 1131,2757.8 1137.8,2743.9 1144.6,2729.3 1151.4,2714.3 1158.2,2698.7 1165,2682.5" fill="none" stroke="#fb6f70" stroke-width="11" stroke-linecap="round" stroke-linejoin="round"/>
<circle cx="1490.5" cy="2790" r="207" fill="url(#vir2)" stroke="#e8e0f0" stroke-opacity=".75" stroke-width="1.6"/>
<rect x="1414" y="2501" width="222" height="60.5" fill="#fff"/>
<text x="1429" y="2545" font-size="36.5" fill="#000" >R=6 µm</text>
<polyline points="1287.5,2730 1294.3,2739.8 1301.2,2749.3 1308,2758.5 1314.8,2767.3 1321.7,2775.8 1328.5,2784 1335.3,2791.8 1342.2,2799.3 1349,2806.5 1355.8,2813.3 1362.7,2819.8 1369.5,2826 1376.3,2831.8 1383.2,2837.3 1390,2842.5 1396.8,2847.3 1403.7,2851.8 1410.5,2856 1417.3,2859.8 1424.2,2863.3 1431,2866.5 1437.8,2869.3 1444.7,2871.8 1451.5,2874 1458.3,2875.8 1465.2,2877.3 1472,2878.5 1478.8,2879.3 1485.7,2879.8 1492.5,2880 1499.3,2879.8 1506.2,2879.3 1513,2878.5 1519.8,2877.3 1526.7,2875.8 1533.5,2874 1540.3,2871.8 1547.2,2869.3 1554,2866.5 1560.8,2863.3 1567.7,2859.8 1574.5,2856 1581.3,2851.8 1588.2,2847.3 1595,2842.5 1601.8,2837.3 1608.7,2831.8 1615.5,2826 1622.3,2819.8 1629.2,2813.3 1636,2806.5 1642.8,2799.3 1649.7,2791.8 1656.5,2784 1663.3,2775.8 1670.2,2767.3 1677,2758.5 1683.8,2749.3 1690.7,2739.8 1697.5,2730" fill="none" stroke="#fb6f70" stroke-width="11" stroke-linecap="round" stroke-linejoin="round"/>
<circle cx="2035" cy="2783" r="206" fill="url(#vir3)" stroke="#e8e0f0" stroke-opacity=".75" stroke-width="1.6"/>
<rect x="1958" y="2501" width="223" height="60.5" fill="#fff"/>
<text x="1973" y="2545" font-size="36.5" fill="#000" >R=4 µm</text>
<polyline points="1831,2767.5 1837.8,2772.1 1844.7,2776.5 1851.5,2780.8 1858.3,2784.9 1865.2,2788.9 1872,2792.7 1878.8,2796.4 1885.7,2799.9 1892.5,2803.2 1899.3,2806.4 1906.2,2809.4 1913,2812.3 1919.8,2815 1926.7,2817.6 1933.5,2820 1940.3,2822.3 1947.2,2824.4 1954,2826.3 1960.8,2828.1 1967.7,2829.7 1974.5,2831.2 1981.3,2832.5 1988.2,2833.7 1995,2834.7 2001.8,2835.6 2008.7,2836.3 2015.5,2836.8 2022.3,2837.2 2029.2,2837.4 2036,2837.5 2042.8,2837.4 2049.7,2837.2 2056.5,2836.8 2063.3,2836.3 2070.2,2835.6 2077,2834.7 2083.8,2833.7 2090.7,2832.5 2097.5,2831.2 2104.3,2829.7 2111.2,2828.1 2118,2826.3 2124.8,2824.4 2131.7,2822.3 2138.5,2820 2145.3,2817.6 2152.2,2815 2159,2812.3 2165.8,2809.4 2172.7,2806.4 2179.5,2803.2 2186.3,2799.9 2193.2,2796.4 2200,2792.7 2206.8,2788.9 2213.7,2784.9 2220.5,2780.8 2227.3,2776.5 2234.2,2772.1 2241,2767.5" fill="none" stroke="#fb6f70" stroke-width="11" stroke-linecap="round" stroke-linejoin="round"/>
<rect x="2314.5" y="2548.5" width="139" height="574" fill="#fff"/>
<rect x="2325.5" y="2555" width="58" height="556" fill="url(#virbar)" stroke="#222" stroke-width="1"/>
<line x1="2383.5" y1="2593.5" x2="2392.5" y2="2593.5" stroke="#000" stroke-width="1.4"/>
<text x="2400" y="2601" font-size="21" fill="#000" >1.3</text>
<line x1="2383.5" y1="2672.5" x2="2392.5" y2="2672.5" stroke="#000" stroke-width="1.4"/>
<text x="2400" y="2680" font-size="21" fill="#000" >1.2</text>
<line x1="2383.5" y1="2753" x2="2392.5" y2="2753" stroke="#000" stroke-width="1.4"/>
<text x="2400" y="2760.5" font-size="21" fill="#000" >1.1</text>
<line x1="2383.5" y1="2833" x2="2392.5" y2="2833" stroke="#000" stroke-width="1.4"/>
<text x="2400" y="2840.5" font-size="21" fill="#000" >1.0</text>
<line x1="2383.5" y1="2912.5" x2="2392.5" y2="2912.5" stroke="#000" stroke-width="1.4"/>
<text x="2400" y="2920" font-size="21" fill="#000" >0.90</text>
<line x1="2383.5" y1="2992.5" x2="2392.5" y2="2992.5" stroke="#000" stroke-width="1.4"/>
<text x="2400" y="3000" font-size="21" fill="#000" >0.80</text>
<line x1="2383.5" y1="3072" x2="2392.5" y2="3072" stroke="#000" stroke-width="1.4"/>
<text x="2400" y="3079.5" font-size="21" fill="#000" >0.70</text>
<text transform="translate(2341 2826) rotate(90)" font-size="50" text-anchor="middle" fill="#000">Ion Concentration (M)</text>
<g stroke="#bdbdbd" fill="none"><circle cx="2438.5" cy="3176" r="14.5" stroke-width="2"/><circle cx="2438.5" cy="3176" r="9.5" stroke-width="1.2"/><circle cx="2438.5" cy="3176" r="5" stroke-width="2.5" stroke-dasharray="2 1.5"/></g>
<text x="2459" y="3181" font-size="19" fill="#cfcfcf" font-family="'Liberation Serif', 'Noto Serif CJK SC', 'Noto Sans CJK SC', serif" font-weight="700" textLength="71" lengthAdjust="spacingAndGlyphs">復旦大學</text>
<text x="2459" y="3191" font-size="7" fill="#c4c4c4" font-weight="700" word-spacing="3" textLength="71" lengthAdjust="spacingAndGlyphs">FUDAN UNIVERSITY</text>
</svg>
</body></html>
